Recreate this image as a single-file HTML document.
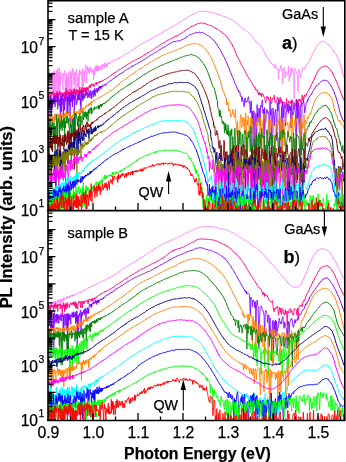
<!DOCTYPE html><html><head><meta charset="utf-8"><style>html,body{margin:0;padding:0;background:#fff;}body{width:346px;height:462px;position:relative;overflow:hidden;font-family:"Liberation Sans",sans-serif;}</style></head><body><svg xmlns="http://www.w3.org/2000/svg" width="346" height="462" viewBox="0 0 346 462" style="position:absolute;left:0;top:0">
<defs><clipPath id="ca"><rect x="48" y="0.8" width="296.8" height="209.7"/></clipPath><clipPath id="cb"><rect x="48" y="210.8" width="296.8" height="209.7"/></clipPath><filter id="gf" x="0" y="0" width="346" height="462" filterUnits="userSpaceOnUse"><feOffset dx="0" dy="0"/></filter></defs>
<g clip-path="url(#ca)" fill="none" stroke-width="1" stroke-linejoin="round">
<polyline stroke="#ff80ff" stroke-width="0.85" points="48.0,80.4 48.2,73.7 48.5,75.0 48.8,85.9 49.0,83.5 49.3,73.4 49.5,69.1 49.8,102.0 50.0,73.5 50.3,77.7 50.5,73.1 50.8,73.0 51.0,75.4 51.3,89.7 51.5,102.2 51.8,102.1 52.0,72.0 52.3,77.8 52.5,81.6 52.8,78.4 53.1,101.8 53.3,74.6 53.6,71.6 53.8,72.1 54.1,101.9 54.3,71.1 54.6,84.0 54.9,101.9 55.1,97.5 55.4,88.3 55.6,75.9 55.9,89.0 56.2,102.3 56.4,78.1 56.7,70.3 56.9,84.0 57.2,74.3 57.5,75.6 57.7,68.5 58.0,101.8 58.2,72.3 58.5,99.1 58.8,82.1 59.0,76.9 59.3,67.6 59.6,84.3 59.8,102.2 60.1,71.7 60.4,85.3 60.6,78.0 60.9,76.0 61.2,75.7 61.4,77.5 61.7,75.1 62.0,74.5 62.2,73.0 62.5,79.7 62.8,83.6 63.0,90.3 63.3,73.8 63.6,76.0 63.8,73.9 64.1,73.6 64.4,70.5 64.6,74.8 64.9,73.0 65.2,93.0 65.5,90.4 65.7,78.4 66.0,94.8 66.3,73.1 66.6,97.6 66.8,75.1 67.1,101.2 67.4,90.3 67.6,78.5 67.9,77.5 68.2,101.2 68.5,74.7 68.7,72.0 69.0,72.7 69.3,81.6 69.6,80.7 69.9,91.4 70.1,72.8 70.4,70.5 70.7,79.5 71.0,100.7 71.2,74.2 71.5,72.4 71.8,101.0 72.1,74.1 72.4,68.3 72.6,72.0 72.9,72.8 73.2,73.0 73.5,70.9 73.8,85.0 74.1,82.7 74.3,72.9 74.6,80.3 74.9,73.3 75.2,99.9 75.5,71.6 75.8,71.5 76.1,73.8 76.3,73.5 76.6,69.0 76.9,86.6 77.2,83.1 77.5,87.5 77.8,77.2 78.1,85.8 78.3,73.2 78.6,79.5 78.9,99.4 79.2,99.6 79.5,69.8 79.8,73.6 80.1,74.7 80.4,72.7 80.7,73.8 81.0,70.5 81.3,70.9 81.5,78.1 81.8,80.2 82.1,84.6 82.4,90.0 82.7,68.4 83.0,82.1 83.3,98.3 83.6,80.9 83.9,80.4 84.2,70.9 84.5,81.1 84.8,70.2 85.1,70.7 85.4,68.2 85.7,66.1 86.0,64.7 86.3,67.9 86.6,83.2 86.9,74.4 87.2,70.7 87.5,66.3 87.8,69.3 88.1,68.0 88.4,72.3 88.7,69.4 89.0,69.0 89.3,73.8 89.6,68.8 89.9,68.1 90.2,71.4 90.5,67.9 90.8,66.8 91.1,70.2 91.4,70.2 91.7,71.3 92.0,73.3 92.4,69.3 92.7,71.7 93.0,71.1 93.3,73.2 93.6,79.5 93.9,74.1 94.2,68.6 94.5,75.4 94.8,72.1 95.1,66.1 95.4,66.5 95.8,71.6 96.1,67.1 96.4,70.9 96.7,65.7 97.0,70.6 97.3,68.1 97.6,65.7 98.0,71.0 98.3,65.7 98.6,70.7 98.9,67.3 99.2,68.2 99.5,68.0 99.9,66.8 100.2,67.1 100.5,70.2 100.8,65.7 101.1,65.7 101.5,64.8 101.8,64.9 102.1,69.7 102.4,64.9 102.7,64.7 103.1,66.6 103.4,64.4 103.7,64.0 104.0,66.3 104.4,67.8"/>
<polyline stroke="#ff80ff" points="104.0,66.3 104.4,67.8 104.7,65.6 105.0,62.6 105.3,64.5 105.7,66.7 106.0,64.5 106.3,65.6 106.6,64.6 107.0,63.8 107.3,67.4 107.6,63.6 107.9,62.8 108.3,63.6 108.6,63.4 108.9,62.7 109.3,64.1 109.6,63.7 109.9,63.7 110.3,62.3 110.6,62.2 110.9,62.0 111.3,61.6 111.6,61.0 111.9,61.4 112.3,61.7 112.6,61.1 112.9,60.7 113.3,61.3 113.6,60.9 113.9,60.9 114.3,60.1 114.6,60.7 115.0,60.4 115.3,59.2 115.6,59.6 116.0,59.6 116.3,59.6 116.7,59.0 117.0,58.9 117.3,58.7 117.7,59.0 118.0,58.4 118.4,58.3 118.7,58.1 119.1,58.9 119.4,57.8 119.8,57.5 120.1,57.5 120.5,57.3 120.8,56.9 121.1,57.1 121.5,57.0 121.8,57.2 122.2,56.3 122.5,56.2 122.9,55.8 123.2,55.5 123.6,55.6 124.0,55.3 124.3,55.0 124.7,54.6 125.0,54.9 125.4,54.4 125.7,54.3 126.1,53.7 126.4,54.0 126.8,53.5 127.1,53.1 127.5,53.3 127.9,52.9 128.2,52.8 128.6,52.6 128.9,52.5 129.3,52.1 129.7,51.7 130.0,51.3 130.4,51.4 130.7,51.2 131.1,51.0 131.5,50.8 131.8,50.5 132.2,50.1 132.6,50.1 132.9,49.7 133.3,49.5 133.7,49.2 134.0,48.7 134.4,48.6 134.8,48.3 135.1,48.2 135.5,47.8 135.9,47.9 136.2,47.4 136.6,47.3 137.0,47.0 137.3,46.5 137.7,46.4 138.1,45.9 138.5,45.7 138.8,45.8 139.2,45.6 139.6,45.2 140.0,45.0 140.3,45.0 140.7,44.3 141.1,44.1 141.5,44.1 141.9,44.1 142.2,43.7 142.6,43.4 143.0,43.4 143.4,42.9 143.8,42.5 144.1,42.3 144.5,42.7 144.9,42.3 145.3,42.1 145.7,41.6 146.1,41.4 146.4,41.2 146.8,41.0 147.2,40.4 147.6,40.5 148.0,40.5 148.4,40.3 148.8,40.0 149.2,39.9 149.6,40.0 149.9,39.6 150.3,38.8 150.7,39.0 151.1,39.0 151.5,38.3 151.9,38.3 152.3,38.5 152.7,37.9 153.1,37.9 153.5,37.2 153.9,37.1 154.3,37.1 154.7,36.8 155.1,36.7 155.5,36.2 155.9,36.0 156.3,35.8 156.7,36.0 157.1,35.4 157.5,35.2 157.9,35.1 158.3,35.0 158.7,34.6 159.1,34.6 159.5,34.2 159.9,33.9 160.3,34.1 160.7,33.4 161.1,33.1 161.6,33.2 162.0,32.6 162.4,32.5 162.8,32.5 163.2,32.3 163.6,31.5 164.0,31.6 164.4,31.3 164.9,30.9 165.3,30.5 165.7,30.8 166.1,30.0 166.5,30.1 166.9,30.0 167.4,29.6 167.8,29.1 168.2,29.3 168.6,28.8 169.0,28.4 169.5,28.4 169.9,27.9 170.3,27.9 170.7,27.7 171.1,27.1 171.6,27.1 172.0,26.8 172.4,26.7 172.9,26.5 173.3,25.9 173.7,26.0 174.1,25.4 174.6,25.3 175.0,25.3 175.4,25.1 175.9,24.6 176.3,24.3 176.7,23.9 177.2,23.7 177.6,23.6 178.0,23.2 178.5,22.9 178.9,22.7 179.3,22.4 179.8,22.2 180.2,21.6 180.7,21.5 181.1,21.7 181.5,21.3 182.0,20.7 182.4,20.5 182.9,20.1 183.3,20.0 183.8,19.7 184.2,19.3 184.7,19.3 185.1,18.6 185.5,18.6 186.0,18.5 186.4,17.9 186.9,17.6 187.3,17.6 187.8,17.2 188.3,16.5 188.7,16.6 189.2,16.3 189.6,16.1 190.1,15.9 190.5,15.5 191.0,15.2 191.4,15.1 191.9,15.0 192.4,14.5 192.8,14.6 193.3,14.0 193.7,14.1 194.2,13.3 194.7,13.3 195.1,12.9 195.6,12.9 196.1,12.5 196.5,12.2 197.0,12.2 197.5,11.8 197.9,11.5 198.4,11.8 198.9,11.6 199.3,11.7 199.8,11.4 200.3,11.5 200.8,11.5 201.2,11.2 201.7,11.3 202.2,11.0 202.7,11.2 203.1,11.1 203.6,11.5 204.1,11.1 204.6,11.2 205.1,11.1 205.5,11.6 206.0,11.5 206.5,11.6 207.0,11.6 207.5,11.6 208.0,11.7 208.4,11.8 208.9,11.9 209.4,12.0 209.9,12.0 210.4,12.1 210.9,12.3 211.4,12.4 211.9,12.7 212.4,12.6 212.9,12.8 213.4,12.9 213.8,13.3 214.3,13.1 214.8,13.3 215.3,13.5 215.8,13.4 216.3,13.6 216.8,14.3 217.3,13.8 217.8,14.6 218.3,14.3 218.9,14.6 219.4,14.5 219.9,15.0 220.4,15.2 220.9,15.1 221.4,15.7 221.9,15.7 222.4,16.2 222.9,15.8 223.4,16.3 223.9,16.6 224.5,16.5 225.0,16.5 225.5,17.1 226.0,16.9 226.5,17.2 227.0,17.8 227.6,17.9 228.1,17.7 228.6,18.2 229.1,18.4 229.7,18.9 230.2,19.5 230.7,18.9 231.2,19.8 231.8,19.4 232.3,20.1 232.8,20.4 233.3,21.0 233.9,21.4 234.4,21.4 234.9,22.1 235.5,22.2 236.0,22.7 236.6,23.2 237.1,23.7 237.6,24.4 238.2,24.8 238.7,25.0 239.2,25.5 239.8,26.0 240.3,26.8 240.9,27.1 241.4,27.4 242.0,28.0 242.5,28.4 243.1,28.7 243.6,29.5 244.2,29.7 244.7,30.1 245.3,30.4 245.8,30.6 246.4,31.2 246.9,31.4 247.5,32.0 248.0,32.5 248.6,32.6 249.2,33.1 249.7,33.8 250.3,34.4 250.8,34.9 251.4,35.7 252.0,36.3 252.5,37.2 253.1,38.0 253.7,39.0 254.2,39.6 254.8,40.1 255.4,40.6 255.9,41.8 256.5,41.9 257.1,42.9 257.7,43.5 258.2,43.4 258.8,44.4 259.4,44.5 260.0,45.1 260.6,46.1 261.1,46.7 261.7,47.2 262.3,48.7 262.9,49.2 263.5,50.3 264.1,51.9 264.6,52.8 265.2,53.9 265.8,55.3 266.4,56.2 267.0,57.1 267.6,58.4 268.2,58.6 268.8,59.4 269.4,60.5 270.0,61.8 270.6,63.2 271.2,63.1 271.8,64.0 272.4,64.2 273.0,65.3 273.6,65.1"/>
<polyline stroke="#ff80ff" stroke-width="0.85" points="273.0,65.3 273.6,65.1 274.2,68.0 274.8,67.6 275.4,63.7 276.0,68.8 276.6,67.3 277.3,68.6 277.9,69.4 278.5,78.9 279.1,68.7 279.7,71.2 280.3,68.1 280.9,65.3 281.6,70.6 282.2,68.9 282.8,84.1 283.4,71.3 284.1,67.3 284.7,72.0 285.3,78.1 285.9,71.4 286.6,73.6 287.2,73.9 287.8,75.6 288.5,66.2 289.1,81.3 289.7,75.9 290.4,77.2 291.0,68.1 291.7,74.7 292.3,68.3 292.9,71.9 293.6,72.4 294.2,98.5 294.9,68.4 295.5,70.7 296.2,71.1 296.8,73.3 297.5,75.5 298.1,92.6 298.8,69.3 299.4,71.3 300.1,75.2 300.8,78.0 301.4,71.3 302.1,71.5 302.7,67.7 303.4,68.1 304.1,68.8"/>
<polyline stroke="#ff80ff" points="303.4,68.1 304.1,68.8 304.7,68.6 305.4,66.1 306.1,65.8 306.7,64.3 307.4,63.5 308.1,62.6 308.8,61.6 309.4,60.6 310.1,58.9 310.8,58.4 311.5,56.6 312.1,55.0 312.8,53.6 313.5,52.4 314.2,51.2 314.9,49.9 315.6,48.1 316.3,46.8 317.0,45.9 317.6,44.9 318.3,44.3 319.0,43.6 319.7,43.3 320.4,42.7 321.1,41.9 321.8,42.1 322.5,41.3 323.2,41.5 323.9,41.6 324.6,41.6 325.4,42.1 326.1,43.1 326.8,43.7 327.5,43.9 328.2,44.7 328.9,45.1 329.6,45.7 330.4,46.8 331.1,47.5 331.8,48.6 332.5,49.3 333.2,50.8 334.0,51.5 334.7,52.9 335.4,53.7 336.2,54.7 336.9,56.2 337.6,57.5 338.4,58.7 339.1,61.0 339.8,63.0 340.6,65.5 341.3,68.2 342.1,71.0 342.8,73.9 343.6,76.3 344.3,78.2 345.0,79.9"/>
<polyline stroke="#ff0080" stroke-width="0.85" points="48.0,94.3 48.2,95.1 48.5,96.8 48.8,94.3 49.0,91.9 49.3,101.8 49.5,96.4 49.8,97.2 50.0,98.8 50.3,94.7 50.5,102.1 50.8,96.2 51.0,92.9 51.3,93.0 51.5,93.5 51.8,94.3 52.0,93.0 52.3,94.4 52.5,93.4 52.8,93.1 53.1,91.3 53.3,92.4 53.6,92.6 53.8,99.2 54.1,94.1 54.3,94.2 54.6,95.8 54.9,97.5 55.1,93.0 55.4,94.5 55.6,95.3 55.9,98.1 56.2,96.5 56.4,95.6 56.7,93.7 56.9,91.1 57.2,94.5 57.5,101.1 57.7,93.4 58.0,93.4 58.2,97.0 58.5,97.9 58.8,94.6 59.0,92.8 59.3,93.4 59.6,91.1 59.8,94.8 60.1,94.5 60.4,96.5 60.6,92.0 60.9,94.0 61.2,93.0 61.4,101.1 61.7,99.6 62.0,93.5 62.2,93.0 62.5,95.2 62.8,95.0 63.0,92.4 63.3,96.4 63.6,93.9 63.8,96.7 64.1,95.6 64.4,92.0 64.6,98.9 64.9,96.1 65.2,101.7 65.5,92.8 65.7,93.2 66.0,88.3 66.3,94.7 66.6,93.0 66.8,91.1 67.1,91.9 67.4,94.1 67.6,90.6 67.9,102.4 68.2,91.8 68.5,94.8 68.7,94.9 69.0,95.8 69.3,92.2 69.6,95.5 69.9,92.6 70.1,89.3 70.4,95.0 70.7,92.2 71.0,94.0 71.2,96.4 71.5,91.3 71.8,89.9 72.1,94.1 72.4,92.1 72.6,92.6 72.9,94.0 73.2,90.6 73.5,97.9 73.8,89.3 74.1,93.2 74.3,88.5 74.6,90.5 74.9,92.1 75.2,95.8 75.5,95.2 75.8,90.4 76.1,93.4 76.3,89.6 76.6,94.7 76.9,88.9 77.2,91.3 77.5,90.5 77.8,93.4 78.1,92.1 78.3,90.3 78.6,90.8 78.9,93.4 79.2,90.5 79.5,94.5 79.8,87.0 80.1,89.3 80.4,91.3 80.7,91.2 81.0,93.0 81.3,90.1 81.5,97.8 81.8,90.0 82.1,87.3 82.4,94.9 82.7,89.7 83.0,90.7"/>
<polyline stroke="#ff0080" points="82.7,89.7 83.0,90.7 83.3,90.2 83.6,92.0 83.9,88.1 84.2,92.3 84.5,87.8 84.8,87.7 85.1,89.0 85.4,87.9 85.7,92.1 86.0,90.0 86.3,92.9 86.6,87.5 86.9,86.9 87.2,90.3 87.5,87.9 87.8,88.2 88.1,90.5 88.4,87.8 88.7,87.5 89.0,86.3 89.3,87.4 89.6,86.3 89.9,85.0 90.2,85.9 90.5,87.8 90.8,85.9 91.1,84.8 91.4,83.7 91.7,85.5 92.0,84.8 92.4,85.2 92.7,83.8 93.0,84.6 93.3,84.5 93.6,86.4 93.9,85.2 94.2,86.4 94.5,85.7 94.8,84.8 95.1,83.4 95.4,83.7 95.8,83.7 96.1,82.5 96.4,84.9 96.7,83.7 97.0,82.4 97.3,83.1 97.6,83.0 98.0,82.5 98.3,83.1 98.6,83.0 98.9,82.7 99.2,81.5 99.5,82.8 99.9,82.4 100.2,81.1 100.5,81.6 100.8,81.6 101.1,81.9 101.5,81.1 101.8,81.1 102.1,80.7 102.4,81.3 102.7,80.9 103.1,80.2 103.4,80.5 103.7,79.9 104.0,80.1 104.4,79.7 104.7,79.7 105.0,79.2 105.3,79.6 105.7,79.0 106.0,78.9 106.3,78.7 106.6,78.7 107.0,78.1 107.3,77.9 107.6,77.9 107.9,77.5 108.3,77.3 108.6,77.5 108.9,77.0 109.3,76.8 109.6,76.4 109.9,76.5 110.3,76.1 110.6,75.6 110.9,75.4 111.3,75.5 111.6,74.9 111.9,74.9 112.3,74.2 112.6,74.2 112.9,73.8 113.3,73.9 113.6,73.3 113.9,73.5 114.3,73.4 114.6,72.7 115.0,72.5 115.3,72.8 115.6,72.0 116.0,71.7 116.3,71.9 116.7,71.7 117.0,71.3 117.3,70.9 117.7,70.7 118.0,70.4 118.4,70.3 118.7,70.3 119.1,70.0 119.4,69.6 119.8,69.2 120.1,69.5 120.5,69.0 120.8,69.0 121.1,68.7 121.5,68.5 121.8,67.9 122.2,68.1 122.5,67.4 122.9,67.5 123.2,67.2 123.6,67.0 124.0,66.9 124.3,66.7 124.7,66.7 125.0,66.0 125.4,65.7 125.7,65.9 126.1,65.4 126.4,65.3 126.8,64.7 127.1,64.7 127.5,64.6 127.9,64.3 128.2,64.2 128.6,63.8 128.9,63.6 129.3,63.7 129.7,63.3 130.0,62.6 130.4,62.9 130.7,62.7 131.1,62.4 131.5,62.1 131.8,61.6 132.2,62.0 132.6,61.4 132.9,61.3 133.3,61.2 133.7,60.9 134.0,60.6 134.4,60.3 134.8,60.4 135.1,60.2 135.5,60.0 135.9,59.9 136.2,60.1 136.6,59.5 137.0,59.0 137.3,59.0 137.7,58.5 138.1,58.7 138.5,58.1 138.8,58.1 139.2,58.1 139.6,58.0 140.0,57.4 140.3,57.2 140.7,57.2 141.1,56.9 141.5,57.1 141.9,56.5 142.2,56.0 142.6,56.2 143.0,55.7 143.4,55.4 143.8,55.2 144.1,55.2 144.5,55.1 144.9,54.3 145.3,54.9 145.7,54.1 146.1,53.9 146.4,54.0 146.8,53.3 147.2,53.3 147.6,52.6 148.0,53.1 148.4,52.5 148.8,52.6 149.2,52.2 149.6,51.8 149.9,51.9 150.3,51.5 150.7,51.1 151.1,50.9 151.5,50.7 151.9,50.6 152.3,50.1 152.7,49.9 153.1,49.8 153.5,49.8 153.9,49.2 154.3,48.8 154.7,48.4 155.1,48.1 155.5,48.1 155.9,47.6 156.3,47.5 156.7,47.1 157.1,47.0 157.5,46.9 157.9,46.5 158.3,46.0 158.7,45.7 159.1,45.6 159.5,45.3 159.9,45.1 160.3,44.8 160.7,44.3 161.1,44.2 161.6,44.1 162.0,43.8 162.4,43.3 162.8,43.2 163.2,43.5 163.6,43.2 164.0,42.4 164.4,42.6 164.9,41.8 165.3,42.1 165.7,41.7 166.1,41.4 166.5,41.0 166.9,40.9 167.4,40.3 167.8,40.3 168.2,40.1 168.6,39.9 169.0,39.8 169.5,39.6 169.9,39.3 170.3,39.0 170.7,39.1 171.1,38.6 171.6,38.7 172.0,38.3 172.4,38.3 172.9,37.3 173.3,37.6 173.7,37.2 174.1,36.9 174.6,36.8 175.0,36.7 175.4,36.2 175.9,35.8 176.3,36.5 176.7,35.7 177.2,35.5 177.6,35.8 178.0,35.1 178.5,34.9 178.9,34.6 179.3,34.3 179.8,34.0 180.2,33.9 180.7,33.6 181.1,33.3 181.5,33.1 182.0,33.2 182.4,32.5 182.9,32.2 183.3,32.0 183.8,31.5 184.2,31.2 184.7,31.3 185.1,30.5 185.5,30.6 186.0,29.9 186.4,29.8 186.9,29.1 187.3,29.3 187.8,28.6 188.3,28.6 188.7,28.5 189.2,28.0 189.6,27.9 190.1,27.3 190.5,26.7 191.0,27.2 191.4,27.0 191.9,26.1 192.4,26.3 192.8,26.3 193.3,26.0 193.7,25.5 194.2,24.9 194.7,25.4 195.1,24.7 195.6,24.6 196.1,24.3 196.5,24.3 197.0,24.2 197.5,23.5 197.9,23.7 198.4,23.4 198.9,23.3 199.3,23.6 199.8,23.5 200.3,23.1 200.8,23.1 201.2,23.1 201.7,23.2 202.2,23.0 202.7,23.3 203.1,23.6 203.6,23.2 204.1,23.3 204.6,23.5 205.1,24.2 205.5,23.5 206.0,23.7 206.5,24.1 207.0,24.2 207.5,24.6 208.0,24.5 208.4,24.9 208.9,25.0 209.4,25.0 209.9,25.7 210.4,25.5 210.9,25.8 211.4,26.1 211.9,26.0 212.4,26.3 212.9,26.9 213.4,26.7 213.8,27.2 214.3,27.7 214.8,27.9 215.3,27.9 215.8,28.0 216.3,29.2 216.8,29.0 217.3,29.0 217.8,29.3 218.3,29.5 218.9,30.0 219.4,30.5 219.9,30.5 220.4,31.4 220.9,31.3 221.4,31.7 221.9,32.6 222.4,33.0 222.9,32.9 223.4,33.5 223.9,33.7 224.5,34.3 225.0,34.9 225.5,35.4 226.0,35.9 226.5,36.6 227.0,37.0 227.6,37.9 228.1,38.4 228.6,38.9 229.1,40.1 229.7,40.6 230.2,41.6 230.7,42.3 231.2,43.2 231.8,44.0 232.3,45.0 232.8,46.3 233.3,47.5 233.9,48.1 234.4,49.3 234.9,50.8 235.5,52.2 236.0,53.4 236.6,54.8 237.1,55.9 237.6,56.8 238.2,58.3 238.7,59.1 239.2,60.1 239.8,60.8 240.3,62.4 240.9,63.4 241.4,64.8 242.0,65.7 242.5,66.4 243.1,67.8 243.6,68.7 244.2,69.3 244.7,70.7 245.3,71.7 245.8,72.8 246.4,73.9 246.9,74.6 247.5,75.9 248.0,76.8 248.6,77.4 249.2,78.9 249.7,79.4 250.3,80.2 250.8,81.4 251.4,82.3 252.0,83.0 252.5,84.6 253.1,85.0 253.7,85.5 254.2,87.2 254.8,86.9 255.4,89.8 255.9,89.0 256.5,90.5 257.1,90.3 257.7,90.3 258.2,94.6 258.8,94.6 259.4,92.4 260.0,95.2 260.6,93.1 261.1,93.8 261.7,96.5"/>
<polyline stroke="#ff0080" stroke-width="0.85" points="261.1,93.8 261.7,96.5 262.3,93.2 262.9,93.8 263.5,94.7 264.1,97.6 264.6,97.5 265.2,100.7 265.8,103.1 266.4,98.6 267.0,96.1 267.6,98.9 268.2,97.1 268.8,100.6 269.4,100.4 270.0,100.8 270.6,96.7 271.2,103.7 271.8,102.6 272.4,98.2 273.0,98.1 273.6,99.0 274.2,95.1 274.8,101.3 275.4,100.9 276.0,103.1 276.6,102.1 277.3,96.9 277.9,98.6 278.5,102.6 279.1,98.2 279.7,104.2 280.3,97.1 280.9,102.8 281.6,99.5 282.2,106.6 282.8,101.4 283.4,103.1 284.1,102.8 284.7,102.1 285.3,108.1 285.9,107.8 286.6,98.4 287.2,106.2 287.8,111.6 288.5,100.9 289.1,102.0 289.7,101.4 290.4,103.7 291.0,100.1 291.7,99.7 292.3,102.3 292.9,100.6 293.6,109.7 294.2,102.6 294.9,105.0 295.5,105.9 296.2,99.3 296.8,110.6 297.5,100.9 298.1,106.6 298.8,98.9 299.4,101.1 300.1,99.2 300.8,102.0 301.4,105.9 302.1,94.9 302.7,100.3 303.4,101.2 304.1,96.3"/>
<polyline stroke="#ff0080" points="303.4,101.2 304.1,96.3 304.7,94.7 305.4,96.4 306.1,95.9 306.7,93.9 307.4,92.5 308.1,91.3 308.8,90.6 309.4,89.2 310.1,87.6 310.8,86.0 311.5,84.2 312.1,83.7 312.8,82.1 313.5,80.3 314.2,79.3 314.9,77.7 315.6,75.8 316.3,74.5 317.0,72.9 317.6,72.0 318.3,70.6 319.0,69.2 319.7,68.5 320.4,68.1 321.1,67.8 321.8,67.5 322.5,66.8 323.2,66.7 323.9,66.5 324.6,66.2 325.4,65.9 326.1,66.4 326.8,66.3 327.5,66.7 328.2,67.2 328.9,68.2 329.6,69.0 330.4,69.8 331.1,71.1 331.8,71.6 332.5,73.2 333.2,75.0 334.0,76.4 334.7,77.7 335.4,79.2 336.2,81.0 336.9,82.6 337.6,84.2 338.4,86.4 339.1,88.4 339.8,89.9 340.6,92.1 341.3,93.5 342.1,95.9 342.8,97.7 343.6,99.2 344.3,100.8 345.0,102.1"/>
<polyline stroke="#8000ff" stroke-width="0.85" points="48.0,103.3 48.2,103.8 48.5,98.3 48.8,102.1 49.0,107.1 49.3,102.6 49.5,100.7 49.8,99.5 50.0,147.1 50.3,101.9 50.5,100.8 50.8,96.6 51.0,104.2 51.3,101.9 51.5,116.5 51.8,98.9 52.0,98.2 52.3,108.1 52.5,101.9 52.8,105.1 53.1,98.1 53.3,104.0 53.6,101.6 53.8,101.3 54.1,104.2 54.3,101.3 54.6,96.2 54.9,102.5 55.1,106.9 55.4,97.6 55.6,95.5 55.9,98.4 56.2,102.2 56.4,102.4 56.7,99.7 56.9,98.2 57.2,93.1 57.5,94.4 57.7,109.2 58.0,98.8 58.2,96.9 58.5,99.3 58.8,102.6 59.0,105.9 59.3,99.5 59.6,99.2 59.8,100.8 60.1,107.7 60.4,120.4 60.6,96.2 60.9,108.2 61.2,103.2 61.4,111.7 61.7,98.5 62.0,104.9 62.2,101.9 62.5,94.1 62.8,98.1 63.0,100.9 63.3,116.7 63.6,98.4 63.8,98.4 64.1,97.7 64.4,100.8 64.6,110.4 64.9,104.9 65.2,97.8 65.5,98.4 65.7,99.2 66.0,94.1 66.3,97.4 66.6,100.1 66.8,100.2 67.1,113.8 67.4,103.8 67.6,97.1 67.9,113.2 68.2,99.1 68.5,96.6 68.7,101.8 69.0,97.5 69.3,105.8 69.6,93.9 69.9,101.6 70.1,122.0 70.4,98.0 70.7,101.9 71.0,93.8 71.2,96.5 71.5,101.2 71.8,93.6 72.1,100.9 72.4,106.9 72.6,94.8 72.9,94.1 73.2,100.3 73.5,95.0 73.8,92.6 74.1,102.3 74.3,143.4 74.6,96.3 74.9,99.6 75.2,94.9 75.5,97.5 75.8,100.3 76.1,103.6 76.3,105.0 76.6,100.9 76.9,103.0 77.2,95.0 77.5,95.0 77.8,100.8 78.1,93.5 78.3,99.2 78.6,99.8 78.9,93.9 79.2,96.1 79.5,99.9 79.8,94.0 80.1,91.3 80.4,104.7 80.7,98.1 81.0,112.7 81.3,97.0 81.5,89.2 81.8,95.6 82.1,96.9 82.4,95.6 82.7,101.0 83.0,95.5 83.3,97.4 83.6,99.2 83.9,93.1 84.2,96.6 84.5,94.9 84.8,98.1 85.1,94.8 85.4,93.5 85.7,95.4 86.0,91.0 86.3,95.3 86.6,93.7 86.9,95.0 87.2,91.9 87.5,96.8 87.8,98.1 88.1,94.3 88.4,95.3 88.7,96.6 89.0,90.5 89.3,95.0 89.6,93.1 89.9,98.0 90.2,96.2 90.5,94.1 90.8,90.2 91.1,94.5 91.4,92.7 91.7,99.1 92.0,94.5 92.4,93.3 92.7,90.9 93.0,91.4 93.3,96.9 93.6,90.1 93.9,90.8 94.2,90.1 94.5,94.6 94.8,88.4 95.1,96.3 95.4,91.2 95.8,91.1 96.1,89.7 96.4,90.2"/>
<polyline stroke="#8000ff" points="96.1,89.7 96.4,90.2 96.7,91.3 97.0,88.1 97.3,93.0 97.6,90.6 98.0,89.7 98.3,87.8 98.6,88.5 98.9,90.9 99.2,86.2 99.5,88.3 99.9,86.8 100.2,86.0 100.5,88.3 100.8,87.2 101.1,88.6 101.5,87.6 101.8,85.8 102.1,87.0 102.4,85.7 102.7,86.4 103.1,85.7 103.4,85.1 103.7,84.7 104.0,85.2 104.4,84.9 104.7,84.4 105.0,85.1 105.3,85.0 105.7,85.6 106.0,83.7 106.3,83.9 106.6,83.7 107.0,83.1 107.3,83.1 107.6,83.0 107.9,82.6 108.3,82.2 108.6,81.9 108.9,81.6 109.3,81.2 109.6,81.1 109.9,81.5 110.3,81.1 110.6,80.6 110.9,80.4 111.3,80.4 111.6,80.3 111.9,79.5 112.3,79.6 112.6,79.4 112.9,78.7 113.3,78.6 113.6,78.2 113.9,78.4 114.3,77.9 114.6,78.1 115.0,77.4 115.3,77.6 115.6,76.6 116.0,77.0 116.3,76.6 116.7,76.6 117.0,76.2 117.3,75.6 117.7,75.8 118.0,75.6 118.4,75.2 118.7,74.8 119.1,74.9 119.4,74.1 119.8,74.4 120.1,73.7 120.5,73.7 120.8,73.7 121.1,73.2 121.5,73.3 121.8,72.9 122.2,72.9 122.5,72.4 122.9,72.5 123.2,71.9 123.6,71.9 124.0,71.5 124.3,71.1 124.7,71.1 125.0,70.6 125.4,70.6 125.7,70.2 126.1,70.0 126.4,69.7 126.8,69.5 127.1,69.5 127.5,69.4 127.9,68.9 128.2,68.7 128.6,68.4 128.9,68.6 129.3,68.1 129.7,68.2 130.0,67.9 130.4,67.3 130.7,67.2 131.1,67.3 131.5,67.1 131.8,66.2 132.2,66.1 132.6,66.4 132.9,65.6 133.3,65.9 133.7,66.1 134.0,65.5 134.4,65.1 134.8,65.1 135.1,65.0 135.5,64.4 135.9,64.5 136.2,64.2 136.6,64.0 137.0,63.6 137.3,63.8 137.7,63.6 138.1,63.1 138.5,63.0 138.8,62.6 139.2,63.0 139.6,62.2 140.0,61.9 140.3,61.9 140.7,61.6 141.1,61.6 141.5,61.3 141.9,61.1 142.2,60.5 142.6,60.5 143.0,60.3 143.4,59.8 143.8,59.6 144.1,59.6 144.5,59.6 144.9,59.2 145.3,59.0 145.7,58.8 146.1,58.2 146.4,58.1 146.8,57.7 147.2,57.7 147.6,57.4 148.0,57.2 148.4,56.7 148.8,56.4 149.2,56.1 149.6,55.9 149.9,55.8 150.3,55.6 150.7,55.1 151.1,55.1 151.5,54.5 151.9,54.4 152.3,54.4 152.7,54.4 153.1,54.0 153.5,53.3 153.9,53.4 154.3,53.0 154.7,53.0 155.1,52.5 155.5,52.3 155.9,51.9 156.3,52.0 156.7,51.7 157.1,51.2 157.5,51.2 157.9,50.8 158.3,50.5 158.7,50.2 159.1,50.1 159.5,49.7 159.9,49.6 160.3,49.6 160.7,48.9 161.1,48.9 161.6,48.6 162.0,48.5 162.4,48.2 162.8,47.7 163.2,47.8 163.6,47.5 164.0,47.4 164.4,47.0 164.9,47.2 165.3,46.3 165.7,46.3 166.1,45.7 166.5,45.6 166.9,45.4 167.4,45.3 167.8,45.0 168.2,44.6 168.6,44.1 169.0,44.0 169.5,43.8 169.9,43.7 170.3,43.4 170.7,43.0 171.1,43.0 171.6,42.7 172.0,42.3 172.4,42.2 172.9,42.2 173.3,41.6 173.7,41.9 174.1,41.3 174.6,41.7 175.0,41.6 175.4,41.7 175.9,41.0 176.3,41.4 176.7,40.9 177.2,41.0 177.6,41.1 178.0,40.7 178.5,40.8 178.9,40.7 179.3,40.7 179.8,40.7 180.2,40.7 180.7,40.5 181.1,40.0 181.5,39.6 182.0,39.6 182.4,39.5 182.9,39.5 183.3,39.3 183.8,39.0 184.2,38.3 184.7,38.3 185.1,37.8 185.5,37.8 186.0,37.7 186.4,36.5 186.9,36.3 187.3,36.3 187.8,36.4 188.3,36.0 188.7,35.4 189.2,35.0 189.6,34.9 190.1,34.4 190.5,34.2 191.0,34.2 191.4,34.4 191.9,33.9 192.4,33.9 192.8,33.6 193.3,33.7 193.7,33.4 194.2,33.2 194.7,33.2 195.1,33.0 195.6,32.8 196.1,32.8 196.5,32.6 197.0,32.2 197.5,32.4 197.9,32.0 198.4,32.5 198.9,32.3 199.3,32.2 199.8,32.2 200.3,32.4 200.8,32.6 201.2,32.3 201.7,32.2 202.2,33.1 202.7,32.6 203.1,32.8 203.6,33.3 204.1,33.1 204.6,33.7 205.1,34.1 205.5,34.3 206.0,34.3 206.5,34.7 207.0,35.2 207.5,35.4 208.0,35.4 208.4,35.7 208.9,36.3 209.4,36.6 209.9,36.5 210.4,37.0 210.9,37.9 211.4,38.1 211.9,38.6 212.4,38.9 212.9,39.5 213.4,40.5 213.8,40.5 214.3,41.3 214.8,41.6 215.3,42.1 215.8,43.2 216.3,44.0 216.8,44.1 217.3,45.6 217.8,46.1 218.3,47.0 218.9,48.0 219.4,48.7 219.9,49.4 220.4,50.4 220.9,51.2 221.4,52.0 221.9,53.1 222.4,54.2 222.9,55.0 223.4,55.9 223.9,56.9 224.5,57.8 225.0,59.1 225.5,60.3 226.0,61.2 226.5,61.9 227.0,63.6 227.6,65.0 228.1,66.1 228.6,67.3 229.1,68.3 229.7,69.9 230.2,71.5 230.7,72.5 231.2,74.0 231.8,75.3 232.3,76.5 232.8,77.9 233.3,78.7 233.9,80.6 234.4,82.1 234.9,83.0 235.5,84.6 236.0,85.4 236.6,86.7 237.1,88.3 237.6,89.8 238.2,89.8 238.7,92.0 239.2,91.9 239.8,91.8 240.3,95.5 240.9,96.7 241.4,96.7"/>
<polyline stroke="#8000ff" stroke-width="0.85" points="240.9,96.7 241.4,96.7 242.0,101.5 242.5,97.4 243.1,101.8 243.6,102.0 244.2,106.7 244.7,98.4 245.3,97.9 245.8,102.4 246.4,101.2 246.9,102.2 247.5,100.1 248.0,97.5 248.6,96.6 249.2,103.1 249.7,101.6 250.3,113.0 250.8,102.6 251.4,100.9 252.0,124.7 252.5,111.2 253.1,146.2 253.7,110.7 254.2,113.5 254.8,155.2 255.4,155.0 255.9,113.2 256.5,155.2 257.1,104.6 257.7,119.6 258.2,122.1 258.8,108.6 259.4,108.0 260.0,125.7 260.6,105.5 261.1,107.2 261.7,106.1 262.3,100.1 262.9,113.0 263.5,109.3 264.1,155.5 264.6,107.5 265.2,123.3 265.8,122.8 266.4,111.1 267.0,109.3 267.6,112.7 268.2,111.5 268.8,115.3 269.4,155.5 270.0,101.1 270.6,115.2 271.2,108.9 271.8,155.8 272.4,119.9 273.0,108.0 273.6,114.7 274.2,126.0 274.8,114.1 275.4,109.5 276.0,116.8 276.6,140.6 277.3,103.1 277.9,111.4 278.5,100.3 279.1,107.9 279.7,155.8 280.3,132.0 280.9,125.3 281.6,106.7 282.2,155.6 282.8,102.1 283.4,117.8 284.1,106.6 284.7,104.5 285.3,126.2 285.9,118.5 286.6,109.4 287.2,103.5 287.8,105.3 288.5,113.2 289.1,104.4 289.7,110.7 290.4,106.2 291.0,127.9 291.7,101.3 292.3,112.2 292.9,115.7 293.6,111.7 294.2,108.0 294.9,105.4 295.5,117.1 296.2,155.9 296.8,99.4 297.5,118.5 298.1,103.2 298.8,120.2 299.4,133.1 300.1,104.7 300.8,155.4 301.4,155.3 302.1,103.4 302.7,104.1 303.4,100.5 304.1,103.9 304.7,112.9 305.4,109.7 306.1,103.5 306.7,101.7 307.4,101.8 308.1,99.3"/>
<polyline stroke="#8000ff" points="307.4,101.8 308.1,99.3 308.8,97.6 309.4,97.1 310.1,95.6 310.8,95.2 311.5,94.0 312.1,93.0 312.8,91.4 313.5,90.4 314.2,89.2 314.9,88.1 315.6,87.1 316.3,86.1 317.0,85.2 317.6,84.9 318.3,84.3 319.0,83.8 319.7,83.0 320.4,82.4 321.1,81.7 321.8,80.9 322.5,81.0 323.2,80.5 323.9,80.3 324.6,80.3 325.4,80.4 326.1,80.3 326.8,80.7 327.5,81.3 328.2,81.8 328.9,82.9 329.6,83.8 330.4,84.8 331.1,86.0 331.8,87.5 332.5,88.8 333.2,89.9 334.0,91.4 334.7,94.0 335.4,95.5 336.2,98.0 336.9,100.1 337.6,102.7 338.4,105.4 339.1,108.4 339.8,112.0 340.6,114.0 341.3,116.1 342.1,118.1 342.8,119.9 343.6,120.9 344.3,122.7 345.0,123.7"/>
<polyline stroke="#ff8000" stroke-width="0.85" points="48.0,121.0 48.2,119.4 48.5,118.2 48.8,115.6 49.0,116.2 49.3,118.0 49.5,117.7 49.8,115.4 50.0,116.6 50.3,117.2 50.5,122.5 50.8,118.4 51.0,117.1 51.3,118.0 51.5,121.4 51.8,124.9 52.0,116.7 52.3,116.6 52.5,118.0 52.8,121.0 53.1,119.6 53.3,118.1 53.6,116.2 53.8,117.8 54.1,120.1 54.3,119.5 54.6,122.0 54.9,113.9 55.1,120.1 55.4,114.5 55.6,117.0 55.9,113.7 56.2,120.9 56.4,115.9 56.7,120.4 56.9,120.3 57.2,119.5 57.5,121.7 57.7,120.5 58.0,118.4 58.2,113.8 58.5,118.6 58.8,122.6 59.0,115.9 59.3,114.1 59.6,127.1 59.8,116.4 60.1,121.4 60.4,123.5 60.6,115.6 60.9,113.9 61.2,113.1 61.4,116.9 61.7,117.7 62.0,116.5 62.2,115.5 62.5,114.8 62.8,113.7 63.0,115.7 63.3,115.6 63.6,115.9 63.8,118.5 64.1,115.3 64.4,113.2 64.6,114.7 64.9,123.6 65.2,113.0 65.5,118.5 65.7,111.6 66.0,111.8 66.3,114.4 66.6,112.1 66.8,118.3 67.1,116.2 67.4,117.6 67.6,114.8 67.9,115.5 68.2,115.3 68.5,115.2 68.7,112.4 69.0,115.7 69.3,116.5 69.6,115.0 69.9,114.0 70.1,113.8 70.4,117.7 70.7,116.1 71.0,115.9 71.2,117.5 71.5,119.2 71.8,116.4 72.1,123.6 72.4,115.6 72.6,118.4 72.9,115.3 73.2,114.6 73.5,110.5 73.8,110.1 74.1,109.6 74.3,113.6 74.6,114.8 74.9,111.8 75.2,116.0 75.5,113.6 75.8,115.1 76.1,112.9 76.3,111.5 76.6,115.3 76.9,112.1 77.2,112.2 77.5,112.1 77.8,111.2 78.1,112.7 78.3,112.3 78.6,112.6 78.9,114.6 79.2,109.3 79.5,110.1"/>
<polyline stroke="#ff8000" points="79.2,109.3 79.5,110.1 79.8,110.3 80.1,112.3 80.4,114.3 80.7,110.2 81.0,112.0 81.3,108.2 81.5,107.8 81.8,110.9 82.1,108.1 82.4,108.8 82.7,109.5 83.0,111.6 83.3,108.3 83.6,107.9 83.9,107.9 84.2,109.0 84.5,108.1 84.8,107.7 85.1,107.9 85.4,108.0 85.7,106.2 86.0,106.2 86.3,107.0 86.6,106.1 86.9,105.3 87.2,105.6 87.5,105.5 87.8,104.8 88.1,106.1 88.4,104.3 88.7,105.4 89.0,104.3 89.3,103.5 89.6,104.4 89.9,102.9 90.2,103.0 90.5,102.5 90.8,104.2 91.1,105.7 91.4,103.4 91.7,101.1 92.0,102.1 92.4,102.3 92.7,101.5 93.0,101.4 93.3,101.5 93.6,100.1 93.9,100.9 94.2,101.1 94.5,101.2 94.8,100.4 95.1,100.0 95.4,99.7 95.8,99.3 96.1,99.3 96.4,99.6 96.7,99.1 97.0,99.0 97.3,98.8 97.6,98.9 98.0,98.2 98.3,98.2 98.6,98.4 98.9,97.9 99.2,97.7 99.5,97.5 99.9,97.6 100.2,97.0 100.5,96.8 100.8,96.7 101.1,97.0 101.5,96.5 101.8,96.1 102.1,96.0 102.4,95.7 102.7,95.5 103.1,95.5 103.4,95.2 103.7,94.8 104.0,94.6 104.4,94.8 104.7,94.3 105.0,93.9 105.3,93.7 105.7,93.4 106.0,93.3 106.3,93.2 106.6,93.1 107.0,93.0 107.3,92.7 107.6,92.7 107.9,92.0 108.3,92.4 108.6,92.2 108.9,91.8 109.3,91.4 109.6,91.3 109.9,91.2 110.3,90.9 110.6,90.2 110.9,90.6 111.3,90.0 111.6,90.2 111.9,89.9 112.3,89.5 112.6,89.5 112.9,89.6 113.3,88.6 113.6,88.7 113.9,88.2 114.3,87.8 114.6,87.7 115.0,87.3 115.3,87.1 115.6,86.9 116.0,86.6 116.3,86.3 116.7,85.9 117.0,85.8 117.3,85.2 117.7,85.2 118.0,84.7 118.4,84.8 118.7,84.2 119.1,84.6 119.4,83.7 119.8,83.3 120.1,83.1 120.5,82.7 120.8,82.9 121.1,82.3 121.5,82.0 121.8,81.8 122.2,81.6 122.5,81.4 122.9,81.1 123.2,80.6 123.6,80.2 124.0,80.1 124.3,79.7 124.7,79.5 125.0,79.0 125.4,79.1 125.7,78.8 126.1,78.5 126.4,78.5 126.8,77.9 127.1,78.2 127.5,77.5 127.9,77.2 128.2,76.9 128.6,76.6 128.9,76.3 129.3,76.1 129.7,76.1 130.0,75.8 130.4,75.4 130.7,74.9 131.1,74.6 131.5,74.7 131.8,74.4 132.2,74.1 132.6,74.1 132.9,73.7 133.3,73.3 133.7,73.4 134.0,73.2 134.4,72.8 134.8,72.7 135.1,72.1 135.5,71.9 135.9,71.7 136.2,71.3 136.6,71.3 137.0,70.9 137.3,70.6 137.7,70.4 138.1,70.1 138.5,70.1 138.8,69.8 139.2,69.5 139.6,69.2 140.0,68.9 140.3,68.7 140.7,69.2 141.1,68.4 141.5,68.4 141.9,67.8 142.2,67.9 142.6,67.4 143.0,67.3 143.4,66.9 143.8,66.6 144.1,66.3 144.5,66.0 144.9,65.6 145.3,65.7 145.7,65.2 146.1,65.0 146.4,65.1 146.8,64.6 147.2,64.4 147.6,64.5 148.0,63.9 148.4,63.4 148.8,63.7 149.2,63.1 149.6,62.5 149.9,62.5 150.3,62.3 150.7,62.0 151.1,61.9 151.5,61.8 151.9,61.4 152.3,61.4 152.7,60.9 153.1,60.5 153.5,60.5 153.9,60.3 154.3,60.1 154.7,59.8 155.1,59.5 155.5,59.3 155.9,59.1 156.3,59.0 156.7,58.5 157.1,58.3 157.5,58.2 157.9,57.9 158.3,57.8 158.7,57.8 159.1,57.1 159.5,57.5 159.9,56.8 160.3,56.8 160.7,56.4 161.1,56.2 161.6,56.2 162.0,55.8 162.4,55.6 162.8,55.1 163.2,55.2 163.6,55.0 164.0,54.7 164.4,55.1 164.9,54.5 165.3,54.1 165.7,54.3 166.1,53.8 166.5,53.6 166.9,53.7 167.4,53.4 167.8,53.3 168.2,52.9 168.6,53.1 169.0,52.9 169.5,52.5 169.9,52.3 170.3,52.3 170.7,52.2 171.1,51.9 171.6,51.8 172.0,51.5 172.4,51.4 172.9,51.4 173.3,51.0 173.7,51.2 174.1,50.8 174.6,50.5 175.0,50.6 175.4,50.3 175.9,50.2 176.3,50.1 176.7,50.0 177.2,49.8 177.6,49.8 178.0,49.5 178.5,49.2 178.9,49.1 179.3,48.5 179.8,48.1 180.2,48.4 180.7,48.1 181.1,47.9 181.5,48.4 182.0,47.7 182.4,47.6 182.9,47.0 183.3,46.9 183.8,46.9 184.2,46.6 184.7,46.2 185.1,46.0 185.5,46.1 186.0,45.8 186.4,45.3 186.9,45.3 187.3,45.2 187.8,45.2 188.3,44.9 188.7,44.7 189.2,44.7 189.6,44.4 190.1,43.9 190.5,44.3 191.0,44.3 191.4,44.0 191.9,43.7 192.4,43.7 192.8,43.9 193.3,43.5 193.7,43.6 194.2,43.6 194.7,43.9 195.1,43.6 195.6,43.7 196.1,43.6 196.5,44.0 197.0,43.4 197.5,44.0 197.9,44.4 198.4,44.5 198.9,44.3 199.3,44.8 199.8,44.5 200.3,45.2 200.8,45.2 201.2,45.7 201.7,46.2 202.2,45.9 202.7,46.5 203.1,47.2 203.6,47.4 204.1,47.8 204.6,48.3 205.1,48.8 205.5,49.1 206.0,49.9 206.5,50.5 207.0,51.5 207.5,51.9 208.0,52.4 208.4,53.1 208.9,53.9 209.4,54.7 209.9,55.2 210.4,56.4 210.9,57.0 211.4,58.0 211.9,59.1 212.4,60.1 212.9,61.5 213.4,62.4 213.8,63.4 214.3,64.7 214.8,65.9 215.3,66.9 215.8,68.0 216.3,69.7 216.8,70.6 217.3,72.0 217.8,73.5 218.3,74.9 218.9,76.2 219.4,77.9 219.9,79.5 220.4,81.1 220.9,82.7 221.4,85.0 221.9,86.7 222.4,88.4 222.9,90.9 223.4,91.5 223.9,92.1 224.5,95.6 225.0,96.2 225.5,96.7 226.0,98.1 226.5,99.1 227.0,105.1"/>
<polyline stroke="#ff8000" stroke-width="0.85" points="226.5,99.1 227.0,105.1 227.6,103.6 228.1,102.1 228.6,110.6 229.1,111.4 229.7,109.0 230.2,110.3 230.7,117.3 231.2,116.6 231.8,114.2 232.3,114.1 232.8,109.3 233.3,112.6 233.9,115.7 234.4,117.9 234.9,115.0 235.5,109.5 236.0,122.0 236.6,127.9 237.1,135.2 237.6,121.4 238.2,138.8 238.7,162.6 239.2,130.8 239.8,131.1 240.3,117.2 240.9,114.5 241.4,127.3 242.0,127.4 242.5,116.9 243.1,123.0 243.6,126.0 244.2,117.9 244.7,133.9 245.3,118.8 245.8,113.1 246.4,154.1 246.9,120.3 247.5,125.3 248.0,116.1 248.6,117.7 249.2,132.4 249.7,124.8 250.3,133.2 250.8,117.8 251.4,134.1 252.0,125.0 252.5,118.7 253.1,128.7 253.7,139.7 254.2,143.8 254.8,139.4 255.4,126.6 255.9,127.5 256.5,121.6 257.1,125.8 257.7,118.0 258.2,119.8 258.8,117.0 259.4,130.7 260.0,142.6 260.6,117.4 261.1,122.2 261.7,164.9 262.3,130.6 262.9,121.8 263.5,117.9 264.1,114.0 264.6,118.4 265.2,122.9 265.8,128.9 266.4,134.2 267.0,131.6 267.6,140.3 268.2,125.4 268.8,119.0 269.4,121.8 270.0,136.8 270.6,120.9 271.2,118.6 271.8,126.2 272.4,127.5 273.0,125.1 273.6,122.4 274.2,165.4 274.8,135.2 275.4,149.0 276.0,125.4 276.6,122.4 277.3,130.9 277.9,119.3 278.5,124.4 279.1,123.7 279.7,124.9 280.3,141.0 280.9,116.7 281.6,124.0 282.2,165.9 282.8,121.8 283.4,120.1 284.1,145.8 284.7,124.7 285.3,117.2 285.9,121.9 286.6,124.6 287.2,124.9 287.8,122.3 288.5,136.8 289.1,128.6 289.7,123.3 290.4,125.4 291.0,118.2 291.7,165.8 292.3,115.6 292.9,129.9 293.6,131.4 294.2,126.1 294.9,119.5 295.5,127.3 296.2,118.0 296.8,118.9 297.5,124.4 298.1,126.1 298.8,126.1 299.4,123.2 300.1,145.8 300.8,117.5 301.4,123.7 302.1,122.1 302.7,128.5 303.4,127.4 304.1,114.4 304.7,140.6 305.4,119.8 306.1,123.0 306.7,124.0 307.4,117.5 308.1,118.4"/>
<polyline stroke="#ff8000" points="307.4,117.5 308.1,118.4 308.8,115.5 309.4,115.0 310.1,114.8 310.8,112.1 311.5,110.8 312.1,108.9 312.8,106.7 313.5,104.6 314.2,102.6 314.9,100.9 315.6,99.3 316.3,98.0 317.0,97.3 317.6,96.3 318.3,95.8 319.0,95.5 319.7,94.4 320.4,94.2 321.1,93.4 321.8,93.1 322.5,93.0 323.2,92.5 323.9,92.3 324.6,92.8 325.4,92.0 326.1,92.0 326.8,92.8 327.5,93.3 328.2,94.5 328.9,94.7 329.6,94.8 330.4,96.6 331.1,96.9 331.8,98.4 332.5,101.1 333.2,103.9 334.0,107.5 334.7,111.3 335.4,112.3 336.2,114.6 336.9,115.6 337.6,118.6 338.4,120.3 339.1,121.5 339.8,120.5 340.6,122.8 341.3,123.8 342.1,124.1 342.8,125.6 343.6,126.4"/>
<polyline stroke="#ff8000" stroke-width="0.85" points="342.8,125.6 343.6,126.4 344.3,129.7 345.0,132.1"/>
<polyline stroke="#008000" stroke-width="0.85" points="48.0,121.4 48.2,130.6 48.5,126.5 48.8,127.6 49.0,123.8 49.3,129.6 49.5,120.1 49.8,120.5 50.0,118.7 50.3,125.5 50.5,143.6 50.8,125.1 51.0,128.0 51.3,127.1 51.5,135.4 51.8,124.5 52.0,126.4 52.3,126.8 52.5,122.6 52.8,123.0 53.1,121.5 53.3,143.7 53.6,126.0 53.8,128.3 54.1,123.0 54.3,139.0 54.6,128.0 54.9,126.7 55.1,164.8 55.4,126.2 55.6,127.5 55.9,128.4 56.2,141.9 56.4,124.3 56.7,114.5 56.9,127.0 57.2,126.7 57.5,121.7 57.7,138.8 58.0,122.8 58.2,121.2 58.5,118.1 58.8,120.8 59.0,120.6 59.3,122.0 59.6,143.9 59.8,125.0 60.1,129.5 60.4,127.8 60.6,121.5 60.9,121.8 61.2,124.9 61.4,127.6 61.7,116.2 62.0,123.0 62.2,130.9 62.5,120.5 62.8,125.4 63.0,125.3 63.3,119.9 63.6,118.4 63.8,128.1 64.1,126.2 64.4,118.1 64.6,146.5 64.9,124.9 65.2,122.4 65.5,128.1 65.7,121.0 66.0,123.1 66.3,122.5 66.6,117.3 66.8,122.9 67.1,116.1 67.4,121.1 67.6,123.3 67.9,123.4 68.2,123.6 68.5,124.5 68.7,118.2 69.0,127.7 69.3,128.2 69.6,150.7 69.9,124.6 70.1,124.6 70.4,122.5 70.7,127.4 71.0,124.3 71.2,162.0 71.5,125.6 71.8,132.9 72.1,119.2 72.4,119.6 72.6,123.4 72.9,132.4 73.2,135.7 73.5,117.8 73.8,128.9 74.1,148.0 74.3,126.1 74.6,116.7 74.9,112.9 75.2,129.8 75.5,120.7 75.8,118.5 76.1,113.8 76.3,118.0 76.6,117.8 76.9,118.3 77.2,119.8 77.5,126.4 77.8,118.1 78.1,117.3 78.3,116.2 78.6,139.7 78.9,119.4 79.2,121.1 79.5,115.7 79.8,113.7 80.1,124.8 80.4,125.9 80.7,116.0 81.0,116.1 81.3,118.8 81.5,119.6 81.8,122.4 82.1,124.7 82.4,119.6 82.7,115.9 83.0,111.2 83.3,117.1 83.6,120.1 83.9,115.8 84.2,112.2 84.5,114.8 84.8,116.9 85.1,114.3 85.4,111.5 85.7,117.4 86.0,116.2 86.3,112.4 86.6,119.3 86.9,113.6 87.2,111.8 87.5,116.0 87.8,114.0 88.1,121.2 88.4,109.7 88.7,113.6 89.0,109.6 89.3,108.8 89.6,109.7 89.9,113.5 90.2,108.6 90.5,108.9 90.8,107.8 91.1,110.8 91.4,107.3 91.7,114.1 92.0,111.3 92.4,112.3 92.7,112.0 93.0,108.4 93.3,108.3 93.6,108.9 93.9,108.4 94.2,110.2 94.5,106.8 94.8,106.6 95.1,107.3 95.4,108.7 95.8,108.3 96.1,107.8 96.4,108.3"/>
<polyline stroke="#008000" points="96.1,107.8 96.4,108.3 96.7,107.5 97.0,106.3 97.3,106.5 97.6,106.5 98.0,106.7 98.3,108.8 98.6,105.5 98.9,106.9 99.2,105.3 99.5,109.1 99.9,105.0 100.2,106.1 100.5,104.9 100.8,103.9 101.1,104.9 101.5,107.0 101.8,104.3 102.1,105.3 102.4,104.1 102.7,104.7 103.1,103.7 103.4,104.0 103.7,103.0 104.0,103.9 104.4,103.2 104.7,102.9 105.0,103.6 105.3,102.5 105.7,102.5 106.0,101.8 106.3,101.4 106.6,102.1 107.0,101.0 107.3,101.0 107.6,100.7 107.9,100.2 108.3,100.6 108.6,100.0 108.9,99.8 109.3,99.3 109.6,98.9 109.9,98.4 110.3,98.4 110.6,97.9 110.9,97.5 111.3,97.1 111.6,97.1 111.9,96.7 112.3,96.8 112.6,95.9 112.9,96.1 113.3,95.7 113.6,95.7 113.9,95.2 114.3,95.1 114.6,94.7 115.0,94.1 115.3,94.0 115.6,94.0 116.0,93.9 116.3,93.5 116.7,93.1 117.0,92.9 117.3,92.5 117.7,92.7 118.0,91.7 118.4,92.0 118.7,91.4 119.1,91.2 119.4,91.3 119.8,90.9 120.1,90.5 120.5,90.1 120.8,89.7 121.1,89.8 121.5,89.8 121.8,89.4 122.2,89.2 122.5,89.1 122.9,88.5 123.2,88.4 123.6,88.5 124.0,88.0 124.3,87.8 124.7,87.3 125.0,87.2 125.4,87.1 125.7,86.9 126.1,86.4 126.4,86.2 126.8,86.1 127.1,85.9 127.5,85.6 127.9,85.7 128.2,85.3 128.6,84.8 128.9,84.2 129.3,84.3 129.7,83.9 130.0,84.7 130.4,83.9 130.7,83.3 131.1,83.2 131.5,83.0 131.8,83.0 132.2,82.9 132.6,82.3 132.9,82.2 133.3,81.7 133.7,82.0 134.0,81.6 134.4,81.2 134.8,80.7 135.1,80.6 135.5,80.4 135.9,80.3 136.2,79.9 136.6,79.9 137.0,79.2 137.3,79.3 137.7,78.9 138.1,78.2 138.5,78.4 138.8,78.3 139.2,77.6 139.6,77.8 140.0,77.6 140.3,77.6 140.7,77.0 141.1,77.0 141.5,76.2 141.9,76.1 142.2,75.9 142.6,75.6 143.0,75.4 143.4,74.8 143.8,74.9 144.1,74.7 144.5,74.8 144.9,74.0 145.3,74.0 145.7,73.7 146.1,73.2 146.4,73.4 146.8,72.9 147.2,72.7 147.6,73.0 148.0,72.3 148.4,71.9 148.8,71.4 149.2,71.7 149.6,71.1 149.9,71.1 150.3,70.9 150.7,70.9 151.1,70.6 151.5,70.5 151.9,70.0 152.3,69.6 152.7,69.8 153.1,69.4 153.5,69.4 153.9,69.2 154.3,68.6 154.7,68.2 155.1,68.5 155.5,68.1 155.9,68.0 156.3,67.8 156.7,67.7 157.1,67.5 157.5,67.1 157.9,66.8 158.3,66.7 158.7,66.5 159.1,66.5 159.5,66.0 159.9,66.2 160.3,65.5 160.7,65.4 161.1,65.3 161.6,65.0 162.0,65.5 162.4,64.8 162.8,64.9 163.2,64.8 163.6,64.4 164.0,64.5 164.4,64.0 164.9,63.8 165.3,63.7 165.7,63.4 166.1,63.6 166.5,63.0 166.9,63.3 167.4,63.0 167.8,62.4 168.2,62.5 168.6,62.6 169.0,62.3 169.5,62.5 169.9,61.5 170.3,61.4 170.7,61.4 171.1,61.5 171.6,61.5 172.0,61.4 172.4,60.8 172.9,60.8 173.3,60.6 173.7,60.2 174.1,60.6 174.6,60.1 175.0,59.7 175.4,59.6 175.9,60.1 176.3,59.3 176.7,59.1 177.2,59.3 177.6,59.0 178.0,58.5 178.5,58.6 178.9,58.1 179.3,57.8 179.8,57.8 180.2,57.4 180.7,57.1 181.1,57.5 181.5,57.7 182.0,57.2 182.4,57.0 182.9,57.2 183.3,56.8 183.8,56.4 184.2,56.3 184.7,56.1 185.1,56.0 185.5,55.9 186.0,55.5 186.4,55.5 186.9,55.4 187.3,55.6 187.8,55.6 188.3,55.0 188.7,55.4 189.2,55.0 189.6,54.8 190.1,54.9 190.5,54.5 191.0,54.8 191.4,54.7 191.9,54.6 192.4,54.9 192.8,55.0 193.3,54.8 193.7,55.0 194.2,55.8 194.7,55.6 195.1,55.8 195.6,55.8 196.1,56.0 196.5,56.3 197.0,56.8 197.5,57.0 197.9,57.2 198.4,57.9 198.9,57.8 199.3,58.6 199.8,58.7 200.3,59.4 200.8,60.5 201.2,60.9 201.7,61.3 202.2,62.0 202.7,62.3 203.1,63.6 203.6,64.0 204.1,64.8 204.6,64.9 205.1,66.5 205.5,67.3 206.0,68.1 206.5,69.4 207.0,70.0 207.5,71.5 208.0,72.6 208.4,73.8 208.9,75.1 209.4,75.9 209.9,77.6 210.4,78.9 210.9,80.4 211.4,82.2 211.9,83.4 212.4,85.3 212.9,86.6 213.4,87.1 213.8,87.8 214.3,88.6 214.8,90.4 215.3,93.0 215.8,94.4 216.3,96.8 216.8,99.9 217.3,100.3 217.8,107.4 218.3,108.8 218.9,109.8 219.4,116.4 219.9,110.2 220.4,115.2"/>
<polyline stroke="#008000" stroke-width="0.85" points="219.9,110.2 220.4,115.2 220.9,117.3 221.4,115.9 221.9,120.7 222.4,123.5 222.9,120.8 223.4,123.9 223.9,122.3 224.5,132.9 225.0,123.0 225.5,130.2 226.0,124.5 226.5,133.8 227.0,129.8 227.6,134.9 228.1,124.8 228.6,136.3 229.1,131.4 229.7,132.3 230.2,175.1 230.7,130.2 231.2,135.3 231.8,128.8 232.3,161.0 232.8,136.6 233.3,145.2 233.9,153.0 234.4,138.0 234.9,128.2 235.5,140.7 236.0,177.9 236.6,178.3 237.1,154.2 237.6,130.6 238.2,146.8 238.7,143.3 239.2,130.1 239.8,144.4 240.3,131.7 240.9,134.7 241.4,174.3 242.0,145.3 242.5,134.0 243.1,138.7 243.6,178.5 244.2,133.6 244.7,131.4 245.3,130.1 245.8,135.3 246.4,169.1 246.9,137.0 247.5,156.7 248.0,132.3 248.6,137.9 249.2,130.9 249.7,138.7 250.3,151.7 250.8,126.5 251.4,138.7 252.0,179.1 252.5,145.2 253.1,179.3 253.7,170.2 254.2,138.6 254.8,166.8 255.4,144.3 255.9,179.3 256.5,134.6 257.1,135.7 257.7,142.6 258.2,179.3 258.8,132.6 259.4,179.5 260.0,134.3 260.6,143.3 261.1,148.9 261.7,128.5 262.3,136.8 262.9,135.9 263.5,138.1 264.1,136.1 264.6,140.0 265.2,179.5 265.8,145.1 266.4,168.4 267.0,129.9 267.6,162.7 268.2,140.9 268.8,145.8 269.4,138.3 270.0,145.9 270.6,132.7 271.2,139.8 271.8,140.0 272.4,135.1 273.0,160.6 273.6,146.1 274.2,179.9 274.8,139.5 275.4,135.1 276.0,137.3 276.6,136.1 277.3,132.4 277.9,142.1 278.5,153.2 279.1,137.6 279.7,139.3 280.3,139.9 280.9,131.8 281.6,130.9 282.2,130.2 282.8,138.1 283.4,129.6 284.1,134.1 284.7,132.3 285.3,143.0 285.9,159.8 286.6,142.5 287.2,139.2 287.8,131.3 288.5,134.0 289.1,137.4 289.7,142.2 290.4,136.4 291.0,139.1 291.7,136.8 292.3,155.7 292.9,146.9 293.6,132.5 294.2,179.9 294.9,138.3 295.5,180.1 296.2,151.8 296.8,134.2 297.5,135.8 298.1,136.6 298.8,136.4 299.4,146.2 300.1,180.1 300.8,139.7 301.4,136.4 302.1,140.8 302.7,149.9 303.4,140.2 304.1,132.9 304.7,174.7 305.4,145.1 306.1,129.4 306.7,129.4 307.4,129.8 308.1,126.0 308.8,126.6 309.4,124.1"/>
<polyline stroke="#008000" points="308.8,126.6 309.4,124.1 310.1,121.7 310.8,122.9 311.5,120.7 312.1,119.7 312.8,119.4 313.5,117.3 314.2,115.7 314.9,114.1 315.6,113.6 316.3,112.2 317.0,112.0 317.6,111.0 318.3,109.8 319.0,109.3 319.7,108.3 320.4,108.3 321.1,107.5 321.8,106.5 322.5,106.1 323.2,105.7 323.9,106.2 324.6,105.2 325.4,105.4 326.1,105.3 326.8,106.0 327.5,107.1 328.2,108.3 328.9,108.5 329.6,110.4 330.4,111.8 331.1,113.1 331.8,114.2 332.5,117.5 333.2,119.1 334.0,123.1 334.7,123.5 335.4,127.3 336.2,128.5 336.9,128.6 337.6,132.3 338.4,137.2 339.1,138.8 339.8,140.8 340.6,145.2"/>
<polyline stroke="#008000" stroke-width="0.85" points="339.8,140.8 340.6,145.2 341.3,146.8 342.1,151.5 342.8,145.2 343.6,153.3 344.3,151.0 345.0,151.6"/>
<polyline stroke="#800000" stroke-width="0.85" points="48.0,141.7 48.2,133.4 48.5,139.8 48.8,142.5 49.0,175.9 49.3,142.6 49.5,144.3 49.8,147.5 50.0,137.0 50.3,137.4 50.5,141.6 50.8,147.3 51.0,140.5 51.3,138.0 51.5,150.1 51.8,144.6 52.0,139.1 52.3,138.4 52.5,151.7 52.8,143.6 53.1,136.5 53.3,143.0 53.6,139.3 53.8,135.2 54.1,143.1 54.3,136.6 54.6,143.7 54.9,134.8 55.1,135.5 55.4,140.1 55.6,142.3 55.9,143.7 56.2,135.3 56.4,144.0 56.7,140.6 56.9,138.2 57.2,138.4 57.5,135.0 57.7,155.6 58.0,141.2 58.2,137.4 58.5,141.1 58.8,146.5 59.0,137.0 59.3,141.8 59.6,136.9 59.8,143.0 60.1,173.6 60.4,151.0 60.6,134.6 60.9,141.7 61.2,144.1 61.4,142.7 61.7,145.8 62.0,138.7 62.2,140.0 62.5,137.3 62.8,146.1 63.0,135.1 63.3,138.7 63.6,138.7 63.8,149.8 64.1,139.9 64.4,141.9 64.6,135.5 64.9,141.4 65.2,133.9 65.5,141.5 65.7,139.3 66.0,135.6 66.3,142.1 66.6,144.6 66.8,143.0 67.1,137.5 67.4,131.7 67.6,139.9 67.9,142.9 68.2,130.6 68.5,137.0 68.7,142.2 69.0,145.5 69.3,137.4 69.6,137.6 69.9,133.5 70.1,135.0 70.4,139.7 70.7,133.1 71.0,155.2 71.2,133.9 71.5,133.7 71.8,137.5 72.1,133.6 72.4,134.5 72.6,136.5 72.9,132.9 73.2,134.6 73.5,132.8 73.8,131.1 74.1,135.5 74.3,169.4 74.6,134.0 74.9,136.1 75.2,129.5 75.5,129.4 75.8,130.6 76.1,130.7 76.3,130.0 76.6,138.1 76.9,133.2 77.2,133.6 77.5,129.8 77.8,133.6 78.1,130.6 78.3,127.7 78.6,129.8 78.9,137.0 79.2,141.0 79.5,132.7 79.8,133.9 80.1,124.5 80.4,128.6 80.7,130.0 81.0,132.0 81.3,129.0 81.5,128.8 81.8,128.3 82.1,129.3 82.4,127.0 82.7,131.5 83.0,127.4 83.3,125.0 83.6,126.9 83.9,125.9 84.2,129.1 84.5,134.7 84.8,132.0 85.1,129.3 85.4,124.6 85.7,127.5 86.0,128.7 86.3,128.3 86.6,132.2 86.9,121.8 87.2,124.4"/>
<polyline stroke="#800000" points="86.9,121.8 87.2,124.4 87.5,125.5 87.8,127.0 88.1,125.5 88.4,125.2 88.7,124.2 89.0,124.1 89.3,127.1 89.6,125.3 89.9,126.5 90.2,124.7 90.5,127.9 90.8,126.6 91.1,123.4 91.4,122.9 91.7,122.1 92.0,124.2 92.4,123.5 92.7,121.8 93.0,123.2 93.3,122.3 93.6,122.2 93.9,121.8 94.2,121.4 94.5,121.2 94.8,120.8 95.1,121.0 95.4,121.1 95.8,120.8 96.1,120.0 96.4,119.6 96.7,119.8 97.0,120.3 97.3,118.9 97.6,119.3 98.0,118.4 98.3,118.2 98.6,117.9 98.9,117.9 99.2,116.9 99.5,116.7 99.9,116.9 100.2,117.1 100.5,116.6 100.8,116.3 101.1,116.6 101.5,115.8 101.8,115.6 102.1,115.7 102.4,115.0 102.7,115.1 103.1,114.8 103.4,114.8 103.7,114.6 104.0,114.8 104.4,113.7 104.7,113.7 105.0,114.0 105.3,112.9 105.7,112.8 106.0,112.6 106.3,112.8 106.6,112.7 107.0,112.4 107.3,112.1 107.6,111.7 107.9,111.8 108.3,111.3 108.6,110.7 108.9,110.7 109.3,110.7 109.6,110.5 109.9,110.0 110.3,110.2 110.6,109.1 110.9,109.7 111.3,109.1 111.6,108.7 111.9,108.7 112.3,108.3 112.6,108.0 112.9,108.2 113.3,107.9 113.6,107.5 113.9,106.9 114.3,107.3 114.6,106.9 115.0,106.5 115.3,105.8 115.6,105.7 116.0,105.3 116.3,105.2 116.7,104.9 117.0,104.8 117.3,104.4 117.7,103.9 118.0,104.1 118.4,103.5 118.7,103.3 119.1,102.8 119.4,102.6 119.8,102.7 120.1,102.0 120.5,101.8 120.8,101.8 121.1,101.5 121.5,100.6 121.8,100.5 122.2,100.3 122.5,99.9 122.9,100.0 123.2,99.3 123.6,99.5 124.0,99.4 124.3,98.7 124.7,98.3 125.0,98.0 125.4,97.7 125.7,97.4 126.1,97.6 126.4,97.5 126.8,97.1 127.1,96.6 127.5,96.6 127.9,96.0 128.2,95.7 128.6,95.4 128.9,95.4 129.3,95.2 129.7,95.0 130.0,94.6 130.4,94.5 130.7,94.4 131.1,94.0 131.5,93.4 131.8,93.5 132.2,92.9 132.6,92.6 132.9,93.0 133.3,92.6 133.7,91.9 134.0,92.2 134.4,92.1 134.8,91.4 135.1,91.5 135.5,91.6 135.9,90.8 136.2,90.4 136.6,90.6 137.0,90.0 137.3,90.3 137.7,89.7 138.1,89.8 138.5,89.4 138.8,88.8 139.2,88.3 139.6,88.8 140.0,88.4 140.3,88.2 140.7,88.1 141.1,87.8 141.5,87.6 141.9,87.4 142.2,87.2 142.6,86.7 143.0,86.6 143.4,85.8 143.8,86.0 144.1,85.5 144.5,85.5 144.9,85.2 145.3,85.0 145.7,84.9 146.1,84.5 146.4,83.7 146.8,83.5 147.2,83.7 147.6,83.1 148.0,83.3 148.4,82.7 148.8,82.3 149.2,82.2 149.6,82.1 149.9,82.0 150.3,81.8 150.7,81.3 151.1,80.7 151.5,80.9 151.9,81.1 152.3,80.5 152.7,80.4 153.1,80.0 153.5,79.7 153.9,80.1 154.3,79.0 154.7,79.0 155.1,79.2 155.5,78.6 155.9,78.4 156.3,78.2 156.7,78.3 157.1,77.9 157.5,78.4 157.9,77.5 158.3,77.6 158.7,77.1 159.1,76.9 159.5,77.1 159.9,76.7 160.3,76.3 160.7,76.3 161.1,76.6 161.6,76.4 162.0,76.1 162.4,75.9 162.8,75.8 163.2,75.7 163.6,75.5 164.0,75.3 164.4,75.0 164.9,75.3 165.3,74.9 165.7,74.3 166.1,74.5 166.5,74.3 166.9,74.4 167.4,73.7 167.8,74.3 168.2,73.9 168.6,73.6 169.0,73.2 169.5,73.1 169.9,73.3 170.3,73.3 170.7,73.3 171.1,73.3 171.6,72.7 172.0,72.9 172.4,72.5 172.9,72.7 173.3,72.0 173.7,72.3 174.1,72.5 174.6,72.2 175.0,72.0 175.4,71.9 175.9,71.8 176.3,72.0 176.7,71.5 177.2,71.6 177.6,71.7 178.0,71.3 178.5,70.9 178.9,71.3 179.3,71.3 179.8,70.7 180.2,71.2 180.7,71.0 181.1,70.8 181.5,70.5 182.0,70.6 182.4,70.2 182.9,70.6 183.3,70.6 183.8,70.4 184.2,70.5 184.7,70.4 185.1,70.1 185.5,70.1 186.0,70.5 186.4,70.4 186.9,69.8 187.3,70.5 187.8,70.3 188.3,70.3 188.7,70.3 189.2,70.4 189.6,71.0 190.1,71.2 190.5,71.3 191.0,71.6 191.4,71.5 191.9,72.3 192.4,72.1 192.8,72.6 193.3,72.6 193.7,73.0 194.2,72.9 194.7,73.5 195.1,74.2 195.6,74.4 196.1,75.0 196.5,75.8 197.0,76.3 197.5,77.1 197.9,77.9 198.4,78.3 198.9,79.4 199.3,79.8 199.8,80.8 200.3,81.3 200.8,82.4 201.2,83.5 201.7,84.0 202.2,85.2 202.7,86.2 203.1,87.5 203.6,88.3 204.1,89.3 204.6,90.5 205.1,91.9 205.5,92.9 206.0,94.1 206.5,95.2 207.0,96.7 207.5,98.5 208.0,99.8 208.4,101.0 208.9,103.1 209.4,105.3 209.9,107.0 210.4,110.5 210.9,111.8 211.4,114.6 211.9,116.4 212.4,118.6 212.9,120.5 213.4,121.3 213.8,126.1"/>
<polyline stroke="#800000" stroke-width="0.85" points="213.4,121.3 213.8,126.1 214.3,127.7 214.8,126.4 215.3,135.1 215.8,135.4 216.3,134.0 216.8,130.3 217.3,135.0 217.8,133.7 218.3,140.8 218.9,147.7 219.4,148.6 219.9,140.5 220.4,148.7 220.9,160.5 221.4,145.3 221.9,159.8 222.4,161.0 222.9,159.9 223.4,155.0 223.9,140.2 224.5,142.2 225.0,188.2 225.5,151.7 226.0,160.5 226.5,154.2 227.0,151.5 227.6,164.1 228.1,190.2 228.6,190.3 229.1,156.3 229.7,154.6 230.2,157.5 230.7,172.3 231.2,150.5 231.8,156.0 232.3,148.3 232.8,171.9 233.3,149.3 233.9,145.5 234.4,190.3 234.9,155.7 235.5,147.1 236.0,151.4 236.6,145.4 237.1,166.8 237.6,190.7 238.2,151.7 238.7,145.1 239.2,190.2 239.8,190.2 240.3,151.6 240.9,150.5 241.4,146.4 242.0,155.1 242.5,155.2 243.1,144.4 243.6,147.2 244.2,145.2 244.7,157.4 245.3,190.6 245.8,149.5 246.4,153.3 246.9,153.2 247.5,160.8 248.0,190.1 248.6,161.0 249.2,157.2 249.7,173.1 250.3,155.2 250.8,164.4 251.4,160.5 252.0,148.3 252.5,159.8 253.1,152.5 253.7,152.6 254.2,149.7 254.8,152.5 255.4,157.5 255.9,151.2 256.5,146.7 257.1,159.0 257.7,190.9 258.2,147.6 258.8,171.5 259.4,146.7 260.0,156.7 260.6,173.5 261.1,161.1 261.7,151.2 262.3,148.8 262.9,155.9 263.5,159.1 264.1,151.9 264.6,165.5 265.2,149.7 265.8,190.9 266.4,153.6 267.0,169.3 267.6,160.9 268.2,184.8 268.8,175.7 269.4,151.0 270.0,172.2 270.6,154.1 271.2,147.0 271.8,152.8 272.4,191.0 273.0,164.5 273.6,190.9 274.2,153.0 274.8,170.9 275.4,162.2 276.0,148.1 276.6,191.2 277.3,152.9 277.9,157.1 278.5,147.7 279.1,150.3 279.7,151.9 280.3,153.1 280.9,146.9 281.6,171.1 282.2,161.0 282.8,151.0 283.4,151.5 284.1,161.8 284.7,151.8 285.3,154.1 285.9,152.4 286.6,151.9 287.2,144.7 287.8,154.1 288.5,156.2 289.1,191.0 289.7,154.5 290.4,154.2 291.0,152.3 291.7,166.6 292.3,148.9 292.9,178.2 293.6,177.0 294.2,191.1 294.9,149.3 295.5,164.8 296.2,155.4 296.8,183.2 297.5,159.0 298.1,150.9 298.8,148.5 299.4,156.4 300.1,157.0 300.8,157.1 301.4,161.3 302.1,189.6 302.7,188.6 303.4,148.9 304.1,150.5 304.7,167.5 305.4,141.7 306.1,143.3 306.7,144.6 307.4,146.3 308.1,142.7 308.8,138.0 309.4,141.3"/>
<polyline stroke="#800000" points="308.8,138.0 309.4,141.3 310.1,137.0 310.8,137.6 311.5,135.6 312.1,133.4 312.8,132.1 313.5,131.9 314.2,130.0 314.9,129.2 315.6,127.7 316.3,127.1 317.0,125.9 317.6,125.0 318.3,123.7 319.0,123.1 319.7,122.3 320.4,121.1 321.1,120.6 321.8,120.1 322.5,119.1 323.2,118.3 323.9,118.1 324.6,118.1 325.4,117.5 326.1,117.8 326.8,118.2 327.5,118.9 328.2,119.3 328.9,120.1 329.6,121.7 330.4,121.8 331.1,123.7 331.8,124.5 332.5,127.7 333.2,129.1 334.0,132.4 334.7,135.2 335.4,137.6 336.2,139.0 336.9,143.4 337.6,149.2 338.4,151.8 339.1,153.0 339.8,152.6"/>
<polyline stroke="#800000" stroke-width="0.85" points="339.1,153.0 339.8,152.6 340.6,154.1 341.3,158.7 342.1,156.3 342.8,169.6 343.6,164.5 344.3,158.9 345.0,167.4"/>
<polyline stroke="#000080" stroke-width="0.85" points="48.0,163.7 48.2,157.0 48.5,155.0 48.8,165.3 49.0,164.3 49.3,171.6 49.5,154.1 49.8,155.6 50.0,160.7 50.3,172.1 50.5,160.9 50.8,159.6 51.0,157.4 51.3,185.7 51.5,156.3 51.8,161.2 52.0,155.0 52.3,156.6 52.5,167.6 52.8,159.1 53.1,162.3 53.3,158.4 53.6,164.8 53.8,162.2 54.1,162.2 54.3,179.3 54.6,156.3 54.9,151.4 55.1,160.8 55.4,156.2 55.6,160.8 55.9,190.2 56.2,165.6 56.4,151.3 56.7,149.6 56.9,157.9 57.2,163.2 57.5,153.7 57.7,163.7 58.0,155.6 58.2,157.0 58.5,162.2 58.8,153.9 59.0,157.0 59.3,149.5 59.6,151.3 59.8,155.9 60.1,165.9 60.4,162.6 60.6,151.0 60.9,151.8 61.2,163.7 61.4,154.9 61.7,159.9 62.0,162.9 62.2,171.2 62.5,155.1 62.8,154.2 63.0,156.1 63.3,163.2 63.6,152.4 63.8,156.8 64.1,150.5 64.4,152.1 64.6,155.3 64.9,149.1 65.2,156.9 65.5,156.5 65.7,151.7 66.0,148.7 66.3,152.7 66.6,151.4 66.8,150.2 67.1,152.8 67.4,149.8 67.6,149.8 67.9,164.2 68.2,145.4 68.5,144.9 68.7,149.2 69.0,145.9 69.3,148.6 69.6,146.1 69.9,145.0 70.1,151.0 70.4,146.4 70.7,143.1 71.0,143.8 71.2,142.0 71.5,142.4 71.8,144.7 72.1,152.1 72.4,143.8 72.6,142.3 72.9,142.0 73.2,148.0 73.5,141.6 73.8,146.6 74.1,140.8 74.3,136.9 74.6,148.0 74.9,144.5 75.2,141.7 75.5,137.0 75.8,131.6 76.1,138.6 76.3,139.5 76.6,140.5 76.9,152.6 77.2,139.0 77.5,137.6 77.8,133.2 78.1,155.3 78.3,137.8 78.6,136.4 78.9,143.7 79.2,132.2 79.5,135.4 79.8,133.8 80.1,136.7 80.4,137.2 80.7,145.3 81.0,132.8 81.3,131.7 81.5,133.0 81.8,138.8 82.1,137.5 82.4,140.9 82.7,135.7 83.0,130.3 83.3,132.2 83.6,136.6 83.9,140.7 84.2,133.2 84.5,132.6 84.8,134.6 85.1,134.9 85.4,135.6 85.7,134.3 86.0,137.1 86.3,132.6 86.6,132.1 86.9,132.5 87.2,132.8 87.5,129.8 87.8,133.9 88.1,132.5 88.4,128.8 88.7,137.0 89.0,138.7 89.3,131.2 89.6,132.9 89.9,128.2 90.2,129.8 90.5,130.1 90.8,129.9 91.1,134.2 91.4,131.0 91.7,127.4 92.0,134.1 92.4,131.0 92.7,133.2 93.0,129.2 93.3,128.8 93.6,132.1 93.9,129.9 94.2,127.6 94.5,129.5 94.8,131.3"/>
<polyline stroke="#000080" points="94.5,129.5 94.8,131.3 95.1,128.5 95.4,126.3 95.8,131.0 96.1,129.5 96.4,128.9 96.7,127.7 97.0,127.4 97.3,127.5 97.6,125.7 98.0,127.5 98.3,128.2 98.6,127.1 98.9,125.6 99.2,127.1 99.5,125.9 99.9,126.4 100.2,126.2 100.5,126.2 100.8,124.8 101.1,125.6 101.5,125.4 101.8,125.8 102.1,125.1 102.4,124.6 102.7,124.1 103.1,124.2 103.4,124.6 103.7,123.5 104.0,122.7 104.4,123.2 104.7,122.8 105.0,122.5 105.3,122.3 105.7,121.5 106.0,121.8 106.3,121.7 106.6,120.7 107.0,120.8 107.3,120.6 107.6,119.7 107.9,119.7 108.3,120.0 108.6,119.4 108.9,118.7 109.3,118.9 109.6,118.3 109.9,118.4 110.3,118.0 110.6,117.7 110.9,117.3 111.3,117.2 111.6,117.2 111.9,116.9 112.3,116.9 112.6,116.5 112.9,115.7 113.3,115.9 113.6,115.1 113.9,115.2 114.3,114.9 114.6,114.6 115.0,114.2 115.3,113.8 115.6,113.8 116.0,113.5 116.3,113.1 116.7,112.7 117.0,112.5 117.3,112.7 117.7,111.7 118.0,111.5 118.4,111.6 118.7,111.2 119.1,110.6 119.4,110.8 119.8,110.5 120.1,110.1 120.5,109.4 120.8,109.8 121.1,109.2 121.5,109.1 121.8,108.7 122.2,108.4 122.5,108.0 122.9,107.6 123.2,107.8 123.6,107.1 124.0,106.8 124.3,107.1 124.7,106.7 125.0,106.3 125.4,106.0 125.7,105.8 126.1,105.6 126.4,105.3 126.8,105.1 127.1,104.9 127.5,104.8 127.9,104.4 128.2,104.0 128.6,104.1 128.9,103.7 129.3,103.7 129.7,103.0 130.0,103.1 130.4,102.6 130.7,102.4 131.1,102.5 131.5,102.0 131.8,102.1 132.2,101.7 132.6,101.3 132.9,101.5 133.3,101.3 133.7,101.1 134.0,100.4 134.4,100.3 134.8,100.3 135.1,99.9 135.5,100.0 135.9,99.6 136.2,99.2 136.6,99.2 137.0,99.1 137.3,98.9 137.7,98.5 138.1,98.3 138.5,98.4 138.8,97.7 139.2,98.0 139.6,97.6 140.0,97.6 140.3,96.9 140.7,96.9 141.1,96.7 141.5,96.7 141.9,96.3 142.2,95.8 142.6,95.7 143.0,95.5 143.4,95.4 143.8,95.4 144.1,95.1 144.5,94.8 144.9,94.5 145.3,94.3 145.7,94.2 146.1,93.7 146.4,93.5 146.8,93.5 147.2,93.3 147.6,92.6 148.0,92.6 148.4,92.3 148.8,92.2 149.2,92.0 149.6,91.6 149.9,91.4 150.3,91.1 150.7,91.0 151.1,90.8 151.5,90.7 151.9,90.2 152.3,90.2 152.7,90.1 153.1,89.7 153.5,89.8 153.9,89.8 154.3,89.5 154.7,89.0 155.1,89.2 155.5,88.7 155.9,88.6 156.3,88.4 156.7,88.3 157.1,88.4 157.5,88.0 157.9,87.8 158.3,87.8 158.7,87.3 159.1,87.4 159.5,87.0 159.9,87.1 160.3,86.9 160.7,86.7 161.1,86.6 161.6,86.5 162.0,86.5 162.4,86.2 162.8,86.3 163.2,86.2 163.6,85.4 164.0,85.3 164.4,85.5 164.9,85.6 165.3,85.7 165.7,85.2 166.1,84.8 166.5,85.0 166.9,84.9 167.4,84.4 167.8,84.4 168.2,84.5 168.6,83.7 169.0,83.7 169.5,83.8 169.9,84.0 170.3,83.7 170.7,83.5 171.1,84.1 171.6,83.4 172.0,83.1 172.4,83.6 172.9,83.4 173.3,83.0 173.7,83.1 174.1,82.7 174.6,82.6 175.0,82.6 175.4,82.7 175.9,82.9 176.3,82.6 176.7,82.8 177.2,82.6 177.6,82.9 178.0,82.5 178.5,82.6 178.9,82.1 179.3,82.3 179.8,82.3 180.2,82.9 180.7,82.3 181.1,82.7 181.5,82.4 182.0,82.6 182.4,82.7 182.9,82.0 183.3,82.3 183.8,82.7 184.2,82.3 184.7,82.6 185.1,82.7 185.5,82.7 186.0,82.6 186.4,82.5 186.9,82.0 187.3,82.4 187.8,82.6 188.3,82.6 188.7,82.8 189.2,83.4 189.6,82.9 190.1,83.4 190.5,83.6 191.0,84.0 191.4,84.0 191.9,84.6 192.4,84.9 192.8,85.5 193.3,85.6 193.7,85.5 194.2,85.9 194.7,86.4 195.1,86.9 195.6,88.0 196.1,88.6 196.5,88.7 197.0,89.7 197.5,90.2 197.9,91.2 198.4,92.4 198.9,94.3 199.3,95.2 199.8,97.1 200.3,98.3 200.8,99.8 201.2,101.5 201.7,103.0 202.2,104.6 202.7,106.0 203.1,107.1 203.6,109.3 204.1,110.7 204.6,112.1 205.1,113.4 205.5,115.5 206.0,116.6 206.5,118.6 207.0,120.0 207.5,121.4 208.0,123.0 208.4,124.6 208.9,126.5 209.4,128.3 209.9,129.4 210.4,130.1 210.9,136.8 211.4,140.1 211.9,140.4"/>
<polyline stroke="#000080" stroke-width="0.85" points="211.4,140.1 211.9,140.4 212.4,148.1 212.9,148.6 213.4,147.0 213.8,152.5 214.3,152.0 214.8,148.5 215.3,152.7 215.8,163.6 216.3,160.2 216.8,152.1 217.3,159.7 217.8,170.7 218.3,157.8 218.9,157.9 219.4,153.0 219.9,159.0 220.4,157.2 220.9,155.2 221.4,194.7 221.9,164.3 222.4,165.5 222.9,164.6 223.4,166.1 223.9,168.9 224.5,158.5 225.0,170.1 225.5,156.9 226.0,179.9 226.5,173.3 227.0,197.8 227.6,197.6 228.1,155.3 228.6,192.7 229.1,165.2 229.7,161.2 230.2,162.9 230.7,157.6 231.2,153.9 231.8,168.4 232.3,169.4 232.8,159.1 233.3,174.1 233.9,198.0 234.4,163.5 234.9,174.7 235.5,171.5 236.0,174.1 236.6,168.5 237.1,163.9 237.6,181.2 238.2,152.1 238.7,198.0 239.2,157.9 239.8,169.4 240.3,175.3 240.9,168.2 241.4,159.5 242.0,170.6 242.5,167.1 243.1,168.7 243.6,178.2 244.2,158.9 244.7,161.4 245.3,164.3 245.8,159.3 246.4,159.8 246.9,163.5 247.5,168.5 248.0,166.0 248.6,162.0 249.2,158.4 249.7,165.9 250.3,160.9 250.8,161.6 251.4,198.1 252.0,197.8 252.5,157.5 253.1,169.4 253.7,179.0 254.2,157.3 254.8,198.0 255.4,158.3 255.9,161.1 256.5,163.7 257.1,179.7 257.7,160.5 258.2,176.5 258.8,161.9 259.4,164.2 260.0,164.3 260.6,181.1 261.1,198.1 261.7,168.5 262.3,161.9 262.9,169.9 263.5,197.7 264.1,162.9 264.6,165.1 265.2,165.5 265.8,167.1 266.4,198.2 267.0,175.2 267.6,167.2 268.2,160.7 268.8,164.2 269.4,164.7 270.0,154.8 270.6,163.5 271.2,176.5 271.8,164.5 272.4,197.9 273.0,166.7 273.6,168.3 274.2,198.1 274.8,198.1 275.4,160.9 276.0,169.1 276.6,173.2 277.3,161.7 277.9,163.7 278.5,160.8 279.1,172.6 279.7,164.9 280.3,154.9 280.9,162.8 281.6,168.8 282.2,160.4 282.8,161.2 283.4,155.4 284.1,167.9 284.7,163.9 285.3,159.9 285.9,162.6 286.6,169.2 287.2,158.0 287.8,197.9 288.5,165.2 289.1,163.4 289.7,195.3 290.4,162.7 291.0,169.7 291.7,175.1 292.3,170.3 292.9,155.9 293.6,162.2 294.2,198.3 294.9,162.9 295.5,165.5 296.2,171.9 296.8,167.4 297.5,179.8 298.1,162.9 298.8,172.8 299.4,169.0 300.1,183.5 300.8,157.3 301.4,197.6 302.1,168.8 302.7,197.5 303.4,162.9 304.1,182.8 304.7,161.9 305.4,167.5 306.1,158.2 306.7,158.6 307.4,160.5"/>
<polyline stroke="#000080" points="306.7,158.6 307.4,160.5 308.1,154.7 308.8,152.4 309.4,149.6 310.1,146.8 310.8,142.3 311.5,138.4 312.1,135.9 312.8,135.9 313.5,134.1 314.2,134.0 314.9,132.5 315.6,132.1 316.3,131.6 317.0,131.3 317.6,131.4 318.3,130.7 319.0,130.3 319.7,130.2 320.4,130.0 321.1,129.1 321.8,129.7 322.5,128.9 323.2,129.4 323.9,129.5 324.6,128.7 325.4,128.0 326.1,129.9 326.8,130.0 327.5,130.4 328.2,132.0 328.9,132.4 329.6,133.8 330.4,135.3 331.1,135.5 331.8,138.5 332.5,141.7 333.2,149.6 334.0,159.9 334.7,164.9"/>
<polyline stroke="#000080" stroke-width="0.85" points="334.0,159.9 334.7,164.9 335.4,186.2 336.2,168.6 336.9,185.1 337.6,193.5 338.4,166.1 339.1,168.3 339.8,183.1 340.6,166.6 341.3,169.2 342.1,172.9 342.8,172.7 343.6,181.3 344.3,175.5 345.0,162.1"/>
<polyline stroke="#808000" stroke-width="0.85" points="48.0,162.7 48.2,156.7 48.5,157.3 48.8,165.1 49.0,156.7 49.3,158.6 49.5,169.9 49.8,176.4 50.0,157.3 50.3,167.4 50.5,180.8 50.8,161.2 51.0,158.8 51.3,160.5 51.5,163.6 51.8,160.6 52.0,167.4 52.3,166.0 52.5,159.1 52.8,158.6 53.1,167.1 53.3,155.7 53.6,160.1 53.8,158.5 54.1,164.0 54.3,166.1 54.6,159.3 54.9,154.7 55.1,161.2 55.4,175.6 55.6,159.1 55.9,165.0 56.2,161.3 56.4,155.9 56.7,165.1 56.9,163.4 57.2,158.4 57.5,160.1 57.7,167.3 58.0,178.7 58.2,153.1 58.5,164.3 58.8,160.4 59.0,159.1 59.3,156.7 59.6,163.5 59.8,158.9 60.1,160.0 60.4,157.7 60.6,157.0 60.9,156.7 61.2,159.0 61.4,159.7 61.7,155.4 62.0,156.8 62.2,152.7 62.5,162.8 62.8,151.6 63.0,169.9 63.3,165.6 63.6,159.9 63.8,154.2 64.1,162.7 64.4,151.4 64.6,167.3 64.9,171.0 65.2,152.7 65.5,189.1 65.7,156.8 66.0,155.2 66.3,160.2 66.6,152.5 66.8,151.3 67.1,160.1 67.4,160.1 67.6,152.0 67.9,157.8 68.2,161.5 68.5,150.5 68.7,152.7 69.0,149.3 69.3,152.3 69.6,154.9 69.9,150.7 70.1,149.9 70.4,152.4 70.7,148.4 71.0,150.9 71.2,153.6 71.5,155.1 71.8,147.2 72.1,152.1 72.4,155.5 72.6,150.6 72.9,154.9 73.2,149.2 73.5,153.1 73.8,150.6 74.1,150.5 74.3,151.2 74.6,147.8 74.9,154.6 75.2,149.9 75.5,147.2 75.8,153.4 76.1,155.0 76.3,149.4 76.6,150.3 76.9,178.8 77.2,157.7 77.5,155.7 77.8,150.5 78.1,149.0 78.3,153.8 78.6,154.0 78.9,152.2 79.2,152.2 79.5,150.0 79.8,153.1 80.1,146.4 80.4,144.8 80.7,146.8 81.0,156.8 81.3,147.7 81.5,144.2 81.8,146.6 82.1,144.1 82.4,144.2 82.7,149.3 83.0,142.6 83.3,145.6 83.6,146.6 83.9,145.4 84.2,145.5 84.5,146.8 84.8,144.7 85.1,141.3 85.4,144.6 85.7,143.0 86.0,143.0 86.3,145.2 86.6,142.4 86.9,144.6 87.2,144.1"/>
<polyline stroke="#808000" points="86.9,144.6 87.2,144.1 87.5,141.8 87.8,144.0 88.1,143.4 88.4,143.8 88.7,142.8 89.0,138.7 89.3,141.4 89.6,141.9 89.9,140.9 90.2,141.1 90.5,141.1 90.8,139.1 91.1,141.1 91.4,140.3 91.7,138.3 92.0,137.7 92.4,138.5 92.7,139.4 93.0,137.2 93.3,136.8 93.6,137.4 93.9,136.6 94.2,135.8 94.5,134.9 94.8,136.3 95.1,135.8 95.4,136.2 95.8,135.0 96.1,135.2 96.4,135.8 96.7,134.7 97.0,133.9 97.3,135.0 97.6,134.4 98.0,133.0 98.3,133.2 98.6,133.1 98.9,132.8 99.2,132.5 99.5,132.7 99.9,133.0 100.2,132.6 100.5,132.2 100.8,131.7 101.1,132.7 101.5,131.7 101.8,131.7 102.1,132.2 102.4,132.3 102.7,131.5 103.1,131.0 103.4,130.8 103.7,130.6 104.0,131.2 104.4,130.9 104.7,130.6 105.0,130.4 105.3,130.5 105.7,130.2 106.0,130.0 106.3,129.7 106.6,129.2 107.0,129.1 107.3,129.0 107.6,128.9 107.9,128.5 108.3,127.9 108.6,128.0 108.9,127.4 109.3,126.9 109.6,126.6 109.9,126.9 110.3,126.4 110.6,125.9 110.9,125.5 111.3,125.5 111.6,124.9 111.9,125.1 112.3,124.7 112.6,124.2 112.9,123.7 113.3,123.5 113.6,123.4 113.9,123.2 114.3,122.9 114.6,122.5 115.0,122.4 115.3,122.1 115.6,121.6 116.0,121.2 116.3,121.1 116.7,121.0 117.0,120.5 117.3,120.1 117.7,119.6 118.0,119.8 118.4,119.5 118.7,119.3 119.1,119.1 119.4,118.6 119.8,118.0 120.1,118.3 120.5,117.8 120.8,117.6 121.1,116.8 121.5,117.2 121.8,116.5 122.2,116.3 122.5,116.1 122.9,116.1 123.2,115.4 123.6,115.5 124.0,115.0 124.3,115.3 124.7,114.4 125.0,114.2 125.4,114.2 125.7,114.2 126.1,113.8 126.4,113.5 126.8,113.3 127.1,113.2 127.5,113.0 127.9,113.0 128.2,112.3 128.6,112.0 128.9,111.8 129.3,111.6 129.7,112.0 130.0,111.2 130.4,111.0 130.7,110.5 131.1,110.4 131.5,110.6 131.8,110.1 132.2,109.7 132.6,109.8 132.9,109.0 133.3,109.4 133.7,109.0 134.0,109.1 134.4,108.2 134.8,108.1 135.1,107.9 135.5,107.3 135.9,107.6 136.2,107.3 136.6,106.9 137.0,106.1 137.3,106.7 137.7,106.1 138.1,105.8 138.5,105.7 138.8,105.4 139.2,105.5 139.6,105.2 140.0,104.6 140.3,104.4 140.7,104.2 141.1,104.1 141.5,103.7 141.9,103.5 142.2,103.3 142.6,102.9 143.0,102.9 143.4,102.9 143.8,102.5 144.1,102.2 144.5,101.7 144.9,101.7 145.3,101.7 145.7,101.5 146.1,101.2 146.4,101.0 146.8,100.7 147.2,100.8 147.6,100.1 148.0,100.1 148.4,99.7 148.8,99.2 149.2,99.8 149.6,99.1 149.9,98.9 150.3,98.4 150.7,98.1 151.1,97.9 151.5,97.9 151.9,97.7 152.3,97.1 152.7,97.1 153.1,96.4 153.5,96.9 153.9,96.7 154.3,96.1 154.7,96.3 155.1,95.9 155.5,95.6 155.9,95.9 156.3,95.8 156.7,95.7 157.1,95.5 157.5,94.7 157.9,94.5 158.3,94.7 158.7,94.6 159.1,94.9 159.5,94.7 159.9,94.2 160.3,94.3 160.7,93.9 161.1,93.9 161.6,93.9 162.0,93.8 162.4,93.6 162.8,93.6 163.2,93.7 163.6,93.3 164.0,93.5 164.4,93.0 164.9,93.1 165.3,93.0 165.7,92.9 166.1,93.0 166.5,92.7 166.9,92.3 167.4,92.8 167.8,92.1 168.2,92.1 168.6,92.3 169.0,92.3 169.5,92.1 169.9,92.0 170.3,91.4 170.7,91.5 171.1,91.8 171.6,91.4 172.0,91.4 172.4,91.6 172.9,91.6 173.3,90.9 173.7,91.2 174.1,91.7 174.6,91.3 175.0,91.4 175.4,91.3 175.9,91.8 176.3,91.5 176.7,91.8 177.2,91.4 177.6,91.1 178.0,91.3 178.5,91.5 178.9,91.3 179.3,91.3 179.8,91.6 180.2,91.5 180.7,91.7 181.1,91.5 181.5,91.5 182.0,91.5 182.4,91.2 182.9,91.5 183.3,91.2 183.8,91.5 184.2,91.5 184.7,91.7 185.1,91.8 185.5,91.8 186.0,91.9 186.4,92.0 186.9,92.2 187.3,92.0 187.8,92.3 188.3,92.3 188.7,92.5 189.2,92.8 189.6,93.2 190.1,93.6 190.5,94.1 191.0,94.5 191.4,95.3 191.9,95.6 192.4,96.2 192.8,96.1 193.3,96.9 193.7,97.6 194.2,98.0 194.7,99.0 195.1,99.5 195.6,100.5 196.1,100.5 196.5,101.7 197.0,102.2 197.5,103.1 197.9,104.3 198.4,105.0 198.9,106.4 199.3,107.2 199.8,108.4 200.3,109.7 200.8,110.7 201.2,112.3 201.7,114.0 202.2,115.3 202.7,117.5 203.1,119.2 203.6,121.2 204.1,122.8 204.6,123.8 205.1,125.8 205.5,127.1 206.0,128.9 206.5,130.9 207.0,131.4 207.5,133.7 208.0,135.1 208.4,140.8 208.9,142.1 209.4,143.6 209.9,146.3"/>
<polyline stroke="#808000" stroke-width="0.85" points="209.4,143.6 209.9,146.3 210.4,150.4 210.9,152.3 211.4,151.6 211.9,153.8 212.4,157.1 212.9,156.6 213.4,161.8 213.8,163.0 214.3,172.3 214.8,166.1 215.3,162.1 215.8,163.8 216.3,171.1 216.8,166.8 217.3,173.6 217.8,160.4 218.3,160.2 218.9,199.8 219.4,164.1 219.9,160.5 220.4,165.6 220.9,169.1 221.4,178.0 221.9,164.2 222.4,200.1 222.9,164.4 223.4,176.8 223.9,173.0 224.5,168.8 225.0,169.2 225.5,169.2 226.0,161.9 226.5,198.2 227.0,175.4 227.6,165.5 228.1,172.3 228.6,172.1 229.1,164.4 229.7,173.2 230.2,170.2 230.7,162.7 231.2,173.0 231.8,181.4 232.3,200.0 232.8,166.1 233.3,174.4 233.9,177.1 234.4,180.5 234.9,163.1 235.5,164.0 236.0,161.4 236.6,168.7 237.1,160.9 237.6,160.9 238.2,192.7 238.7,158.1 239.2,157.6 239.8,173.4 240.3,165.6 240.9,161.6 241.4,195.4 242.0,160.8 242.5,200.1 243.1,181.3 243.6,168.6 244.2,173.6 244.7,168.1 245.3,168.5 245.8,170.9 246.4,166.5 246.9,163.7 247.5,166.8 248.0,168.5 248.6,167.6 249.2,165.3 249.7,167.7 250.3,167.8 250.8,182.0 251.4,177.1 252.0,182.8 252.5,160.7 253.1,159.8 253.7,163.5 254.2,173.1 254.8,171.3 255.4,164.9 255.9,169.9 256.5,161.7 257.1,186.8 257.7,162.1 258.2,166.5 258.8,168.2 259.4,165.9 260.0,185.2 260.6,176.1 261.1,200.3 261.7,160.2 262.3,186.8 262.9,160.8 263.5,178.6 264.1,163.0 264.6,160.5 265.2,187.8 265.8,168.1 266.4,160.0 267.0,180.4 267.6,161.4 268.2,200.1 268.8,158.7 269.4,161.8 270.0,199.7 270.6,179.3 271.2,162.9 271.8,200.1 272.4,158.8 273.0,159.5 273.6,200.2 274.2,163.2 274.8,168.3 275.4,165.7 276.0,169.9 276.6,177.7 277.3,164.9 277.9,165.7 278.5,161.7 279.1,172.3 279.7,170.8 280.3,180.7 280.9,157.5 281.6,163.3 282.2,164.6 282.8,170.9 283.4,165.6 284.1,187.0 284.7,162.9 285.3,186.3 285.9,165.5 286.6,177.3 287.2,171.4 287.8,163.7 288.5,170.1 289.1,181.8 289.7,164.7 290.4,158.2 291.0,173.3 291.7,168.1 292.3,162.8 292.9,169.2 293.6,200.0 294.2,164.7 294.9,168.9 295.5,172.7 296.2,180.9 296.8,173.6 297.5,162.1 298.1,170.9 298.8,164.5 299.4,200.1 300.1,172.3 300.8,181.4 301.4,199.9 302.1,176.5 302.7,164.7 303.4,158.7 304.1,160.0 304.7,166.2 305.4,165.6 306.1,163.3 306.7,169.0 307.4,168.3"/>
<polyline stroke="#808000" points="306.7,169.0 307.4,168.3 308.1,163.7 308.8,158.7 309.4,156.6 310.1,154.4 310.8,150.9 311.5,148.1 312.1,145.3 312.8,143.1 313.5,141.4 314.2,140.9 314.9,140.3 315.6,139.8 316.3,139.7 317.0,137.9 317.6,138.3 318.3,137.8 319.0,137.3 319.7,136.5 320.4,136.9 321.1,136.8 321.8,136.6 322.5,136.4 323.2,136.4 323.9,136.8 324.6,136.9 325.4,136.3 326.1,137.8 326.8,137.9 327.5,139.6 328.2,140.2 328.9,140.4 329.6,142.1 330.4,143.5 331.1,147.2 331.8,149.4 332.5,155.0 333.2,159.4 334.0,169.2"/>
<polyline stroke="#808000" stroke-width="0.85" points="333.2,159.4 334.0,169.2 334.7,168.2 335.4,169.4 336.2,171.0 336.9,202.7 337.6,174.0 338.4,167.6 339.1,188.1 339.8,166.4 340.6,179.2 341.3,174.0 342.1,205.5 342.8,177.1 343.6,178.3 344.3,170.4 345.0,174.4"/>
<polyline stroke="#ff00ff" stroke-width="0.85" points="48.0,176.4 48.2,179.6 48.5,176.5 48.8,179.5 49.0,179.0 49.3,168.8 49.5,174.7 49.8,175.2 50.0,182.2 50.3,176.5 50.5,186.7 50.8,172.4 51.0,173.0 51.3,181.0 51.5,177.9 51.8,176.4 52.0,178.2 52.3,180.8 52.5,176.6 52.8,172.4 53.1,176.0 53.3,174.4 53.6,172.3 53.8,170.2 54.1,169.3 54.3,180.7 54.6,172.2 54.9,181.0 55.1,174.4 55.4,176.2 55.6,171.6 55.9,181.6 56.2,171.2 56.4,173.6 56.7,165.2 56.9,175.1 57.2,177.7 57.5,177.7 57.7,175.1 58.0,169.4 58.2,172.6 58.5,171.4 58.8,197.8 59.0,174.3 59.3,179.8 59.6,173.5 59.8,174.1 60.1,169.3 60.4,167.0 60.6,170.0 60.9,178.9 61.2,165.9 61.4,176.5 61.7,165.9 62.0,171.6 62.2,176.7 62.5,177.8 62.8,169.6 63.0,177.9 63.3,180.5 63.6,173.2 63.8,170.5 64.1,170.9 64.4,176.9 64.6,177.6 64.9,176.9 65.2,175.5 65.5,169.5 65.7,174.7 66.0,164.9 66.3,166.9 66.6,167.2 66.8,170.0 67.1,164.9 67.4,171.4 67.6,170.3 67.9,175.2 68.2,185.4 68.5,190.6 68.7,160.4 69.0,162.5 69.3,164.0 69.6,164.5 69.9,160.1 70.1,161.8 70.4,170.7 70.7,159.9 71.0,168.5 71.2,160.9 71.5,161.9 71.8,159.5 72.1,163.9 72.4,165.8 72.6,169.0 72.9,164.0 73.2,165.5 73.5,159.0 73.8,159.1 74.1,162.6 74.3,162.9 74.6,162.0 74.9,156.4 75.2,162.2 75.5,161.2 75.8,164.7 76.1,163.5 76.3,160.6 76.6,155.3 76.9,159.3 77.2,157.7 77.5,160.0 77.8,161.5 78.1,163.3 78.3,159.5 78.6,160.5 78.9,157.5 79.2,160.3 79.5,157.2 79.8,157.4 80.1,156.4 80.4,156.9 80.7,158.4 81.0,159.3 81.3,156.3 81.5,157.3 81.8,159.5 82.1,161.6 82.4,158.7 82.7,157.4 83.0,157.7 83.3,157.8 83.6,158.5 83.9,158.0 84.2,156.5 84.5,155.2 84.8,154.1 85.1,154.2"/>
<polyline stroke="#ff00ff" points="84.8,154.1 85.1,154.2 85.4,156.1 85.7,154.7 86.0,157.0 86.3,157.4 86.6,154.3 86.9,154.5 87.2,154.8 87.5,154.2 87.8,154.4 88.1,153.3 88.4,151.6 88.7,152.4 89.0,153.0 89.3,152.7 89.6,151.0 89.9,153.1 90.2,153.5 90.5,152.8 90.8,151.4 91.1,150.9 91.4,150.9 91.7,150.6 92.0,150.5 92.4,150.1 92.7,149.3 93.0,149.9 93.3,148.9 93.6,149.3 93.9,148.1 94.2,148.0 94.5,148.7 94.8,147.7 95.1,147.9 95.4,147.2 95.8,147.0 96.1,146.2 96.4,146.9 96.7,145.9 97.0,146.2 97.3,145.7 97.6,145.0 98.0,145.6 98.3,144.8 98.6,144.4 98.9,144.4 99.2,144.5 99.5,143.9 99.9,143.7 100.2,143.0 100.5,143.0 100.8,142.7 101.1,142.3 101.5,142.6 101.8,141.8 102.1,141.5 102.4,141.3 102.7,141.2 103.1,140.5 103.4,140.4 103.7,139.9 104.0,139.1 104.4,139.3 104.7,139.4 105.0,139.0 105.3,138.7 105.7,138.6 106.0,137.7 106.3,137.6 106.6,137.1 107.0,137.3 107.3,137.3 107.6,136.8 107.9,136.6 108.3,136.2 108.6,136.0 108.9,135.6 109.3,135.3 109.6,135.3 109.9,135.0 110.3,134.7 110.6,134.3 110.9,134.3 111.3,133.9 111.6,133.8 111.9,133.7 112.3,133.1 112.6,132.7 112.9,132.9 113.3,132.7 113.6,132.1 113.9,132.2 114.3,131.8 114.6,131.9 115.0,131.4 115.3,131.4 115.6,130.9 116.0,130.8 116.3,130.7 116.7,130.5 117.0,130.5 117.3,130.0 117.7,129.7 118.0,129.9 118.4,129.2 118.7,129.1 119.1,129.0 119.4,128.9 119.8,128.3 120.1,128.0 120.5,127.9 120.8,127.8 121.1,127.6 121.5,127.3 121.8,127.0 122.2,126.9 122.5,127.3 122.9,126.5 123.2,126.0 123.6,125.9 124.0,125.8 124.3,125.2 124.7,125.5 125.0,125.5 125.4,125.0 125.7,124.4 126.1,124.6 126.4,124.8 126.8,124.2 127.1,123.9 127.5,124.0 127.9,123.5 128.2,123.3 128.6,123.0 128.9,122.6 129.3,122.2 129.7,122.4 130.0,122.3 130.4,122.1 130.7,121.6 131.1,121.3 131.5,121.4 131.8,121.3 132.2,120.8 132.6,120.7 132.9,120.3 133.3,120.5 133.7,120.0 134.0,119.8 134.4,119.5 134.8,119.1 135.1,119.0 135.5,118.6 135.9,118.9 136.2,118.8 136.6,117.7 137.0,117.8 137.3,117.6 137.7,117.6 138.1,117.5 138.5,117.0 138.8,116.6 139.2,116.5 139.6,116.5 140.0,116.0 140.3,116.2 140.7,115.6 141.1,115.4 141.5,115.5 141.9,115.5 142.2,114.8 142.6,114.9 143.0,114.5 143.4,114.1 143.8,113.9 144.1,113.9 144.5,113.1 144.9,113.2 145.3,113.1 145.7,112.8 146.1,112.2 146.4,112.4 146.8,111.9 147.2,111.5 147.6,111.9 148.0,111.7 148.4,111.7 148.8,111.5 149.2,110.7 149.6,110.6 149.9,110.2 150.3,110.4 150.7,110.3 151.1,109.9 151.5,109.9 151.9,109.4 152.3,109.8 152.7,109.5 153.1,109.3 153.5,109.3 153.9,109.2 154.3,108.2 154.7,108.6 155.1,108.4 155.5,108.2 155.9,108.5 156.3,108.0 156.7,108.2 157.1,107.9 157.5,107.9 157.9,107.9 158.3,107.6 158.7,107.4 159.1,107.4 159.5,107.2 159.9,107.2 160.3,106.9 160.7,107.1 161.1,106.6 161.6,106.7 162.0,106.7 162.4,106.4 162.8,106.4 163.2,106.5 163.6,106.6 164.0,106.3 164.4,106.2 164.9,106.2 165.3,106.4 165.7,105.8 166.1,105.8 166.5,106.0 166.9,105.4 167.4,105.5 167.8,105.7 168.2,105.4 168.6,105.2 169.0,105.4 169.5,105.4 169.9,105.5 170.3,105.3 170.7,105.4 171.1,104.8 171.6,105.1 172.0,105.0 172.4,105.0 172.9,104.8 173.3,105.0 173.7,105.0 174.1,104.9 174.6,104.7 175.0,105.5 175.4,104.9 175.9,105.0 176.3,104.8 176.7,104.6 177.2,105.1 177.6,104.8 178.0,104.9 178.5,104.8 178.9,104.7 179.3,105.1 179.8,104.9 180.2,104.8 180.7,104.6 181.1,104.9 181.5,105.2 182.0,105.2 182.4,105.1 182.9,105.3 183.3,105.5 183.8,105.5 184.2,105.4 184.7,105.9 185.1,105.7 185.5,106.2 186.0,106.0 186.4,106.5 186.9,106.5 187.3,106.6 187.8,107.0 188.3,107.1 188.7,107.6 189.2,108.0 189.6,108.4 190.1,108.8 190.5,109.5 191.0,110.0 191.4,110.8 191.9,111.3 192.4,111.7 192.8,112.2 193.3,113.0 193.7,113.7 194.2,114.4 194.7,114.9 195.1,116.0 195.6,117.0 196.1,117.6 196.5,118.6 197.0,119.9 197.5,120.7 197.9,121.5 198.4,123.3 198.9,124.4 199.3,125.6 199.8,127.3 200.3,128.9 200.8,130.3 201.2,132.0 201.7,134.1 202.2,135.4 202.7,136.9 203.1,138.1 203.6,140.2 204.1,140.5 204.6,143.0 205.1,142.7 205.5,144.8 206.0,147.0 206.5,148.4 207.0,152.6"/>
<polyline stroke="#ff00ff" stroke-width="0.85" points="206.5,148.4 207.0,152.6 207.5,152.0 208.0,158.7 208.4,156.1 208.9,156.3 209.4,171.6 209.9,161.5 210.4,164.8 210.9,167.9 211.4,169.1 211.9,169.0 212.4,169.4 212.9,159.8 213.4,166.8 213.8,167.4 214.3,179.3 214.8,183.2 215.3,196.8 215.8,172.3 216.3,194.8 216.8,165.2 217.3,170.5 217.8,173.1 218.3,181.4 218.9,168.9 219.4,169.3 219.9,179.3 220.4,179.3 220.9,167.8 221.4,198.8 221.9,169.2 222.4,199.2 222.9,171.7 223.4,175.1 223.9,169.6 224.5,170.2 225.0,199.1 225.5,175.2 226.0,167.1 226.5,199.1 227.0,165.2 227.6,188.5 228.1,199.1 228.6,186.4 229.1,199.0 229.7,165.6 230.2,199.1 230.7,174.6 231.2,163.5 231.8,170.4 232.3,172.3 232.8,190.6 233.3,198.8 233.9,171.2 234.4,199.0 234.9,192.5 235.5,172.2 236.0,175.6 236.6,166.7 237.1,174.7 237.6,198.9 238.2,170.4 238.7,166.3 239.2,198.9 239.8,199.1 240.3,167.7 240.9,168.2 241.4,172.3 242.0,199.2 242.5,199.0 243.1,182.4 243.6,199.0 244.2,176.7 244.7,165.3 245.3,168.3 245.8,168.9 246.4,172.5 246.9,182.8 247.5,199.0 248.0,178.8 248.6,169.0 249.2,167.3 249.7,172.1 250.3,165.8 250.8,183.7 251.4,193.5 252.0,168.4 252.5,187.4 253.1,179.2 253.7,198.9 254.2,170.2 254.8,173.1 255.4,174.2 255.9,198.9 256.5,182.3 257.1,166.4 257.7,163.9 258.2,176.5 258.8,177.5 259.4,176.8 260.0,167.2 260.6,176.6 261.1,176.8 261.7,173.1 262.3,179.1 262.9,199.0 263.5,199.0 264.1,171.8 264.6,196.3 265.2,164.6 265.8,163.2 266.4,175.3 267.0,180.5 267.6,172.1 268.2,173.9 268.8,190.0 269.4,182.8 270.0,173.6 270.6,163.7 271.2,166.9 271.8,171.9 272.4,171.5 273.0,177.0 273.6,175.0 274.2,187.2 274.8,198.7 275.4,199.0 276.0,167.1 276.6,183.3 277.3,162.1 277.9,172.7 278.5,168.3 279.1,180.3 279.7,192.0 280.3,183.4 280.9,177.7 281.6,177.6 282.2,168.4 282.8,199.0 283.4,176.1 284.1,171.0 284.7,165.9 285.3,166.0 285.9,175.6 286.6,199.2 287.2,171.8 287.8,180.6 288.5,168.0 289.1,179.0 289.7,163.7 290.4,167.7 291.0,171.5 291.7,199.1 292.3,180.2 292.9,180.2 293.6,171.9 294.2,166.3 294.9,173.7 295.5,198.8 296.2,174.1 296.8,172.6 297.5,169.0 298.1,167.6 298.8,173.3 299.4,165.6 300.1,188.4 300.8,178.8 301.4,174.9 302.1,170.0 302.7,171.7 303.4,169.3 304.1,180.0 304.7,172.3 305.4,171.8 306.1,170.3 306.7,173.6"/>
<polyline stroke="#ff00ff" points="306.1,170.3 306.7,173.6 307.4,168.6 308.1,168.4 308.8,162.9 309.4,160.8 310.1,159.1 310.8,155.0 311.5,152.5 312.1,150.9 312.8,151.4 313.5,150.1 314.2,149.7 314.9,149.1 315.6,149.8 316.3,148.6 317.0,149.4 317.6,148.7 318.3,148.8 319.0,148.7 319.7,148.4 320.4,148.4 321.1,149.2 321.8,148.0 322.5,147.3 323.2,148.6 323.9,148.8 324.6,148.3 325.4,147.8 326.1,148.5 326.8,148.7 327.5,149.0 328.2,149.8 328.9,150.5 329.6,150.7 330.4,151.2 331.1,152.6 331.8,157.0 332.5,162.7 333.2,164.5"/>
<polyline stroke="#ff00ff" stroke-width="0.85" points="332.5,162.7 333.2,164.5 334.0,172.8 334.7,171.1 335.4,173.2 336.2,178.6 336.9,181.7 337.6,176.5 338.4,185.9 339.1,181.4 339.8,190.1 340.6,174.4 341.3,180.9 342.1,174.1 342.8,177.4 343.6,178.0 344.3,172.7 345.0,183.5"/>
<polyline stroke="#00ffff" stroke-width="0.85" points="48.0,197.4 48.2,200.1 48.5,194.3 48.8,192.7 49.0,195.9 49.3,193.8 49.5,192.9 49.8,193.9 50.0,191.9 50.3,190.6 50.5,195.4 50.8,213.8 51.0,196.5 51.3,192.1 51.5,192.9 51.8,190.0 52.0,194.6 52.3,191.8 52.5,188.9 52.8,195.8 53.1,187.2 53.3,196.2 53.6,188.5 53.8,205.9 54.1,199.0 54.3,189.3 54.6,191.1 54.9,191.2 55.1,187.7 55.4,190.9 55.6,193.0 55.9,199.2 56.2,185.5 56.4,192.6 56.7,193.9 56.9,196.3 57.2,189.0 57.5,186.0 57.7,188.8 58.0,188.4 58.2,193.7 58.5,189.1 58.8,185.7 59.0,185.6 59.3,196.9 59.6,190.1 59.8,183.0 60.1,190.8 60.4,190.0 60.6,187.7 60.9,184.1 61.2,186.6 61.4,183.9 61.7,187.4 62.0,182.7 62.2,185.1 62.5,182.9 62.8,181.8 63.0,183.3 63.3,186.2 63.6,186.9 63.8,182.8 64.1,182.2 64.4,183.9 64.6,192.1 64.9,182.1 65.2,188.1 65.5,182.7 65.7,181.9 66.0,202.7 66.3,180.4 66.6,184.2 66.8,178.2 67.1,182.2 67.4,181.0 67.6,182.5 67.9,177.1 68.2,179.1 68.5,179.4 68.7,181.1 69.0,182.1 69.3,178.7 69.6,184.5 69.9,178.8 70.1,177.7 70.4,177.7 70.7,175.8 71.0,185.8 71.2,184.0 71.5,183.7 71.8,184.8 72.1,180.7 72.4,179.4 72.6,177.3 72.9,179.2 73.2,179.5 73.5,179.0 73.8,176.6 74.1,176.8 74.3,181.0 74.6,177.6 74.9,176.0 75.2,177.1 75.5,175.1 75.8,178.2 76.1,175.6 76.3,172.9"/>
<polyline stroke="#00ffff" points="76.1,175.6 76.3,172.9 76.6,175.8 76.9,178.9 77.2,176.1 77.5,179.7 77.8,177.6 78.1,178.1 78.3,175.0 78.6,174.2 78.9,172.5 79.2,172.4 79.5,174.3 79.8,172.9 80.1,172.7 80.4,173.4 80.7,173.3 81.0,173.0 81.3,173.2 81.5,173.6 81.8,171.7 82.1,171.0 82.4,170.0 82.7,170.4 83.0,171.4 83.3,170.5 83.6,170.8 83.9,169.6 84.2,169.1 84.5,168.0 84.8,168.2 85.1,168.3 85.4,167.4 85.7,167.4 86.0,167.3 86.3,166.1 86.6,167.0 86.9,166.4 87.2,165.9 87.5,164.8 87.8,164.1 88.1,164.1 88.4,164.9 88.7,164.4 89.0,163.8 89.3,163.0 89.6,163.8 89.9,162.9 90.2,163.1 90.5,163.1 90.8,162.3 91.1,162.1 91.4,162.2 91.7,160.9 92.0,161.4 92.4,160.9 92.7,160.9 93.0,160.3 93.3,159.8 93.6,160.5 93.9,160.0 94.2,160.0 94.5,159.8 94.8,159.3 95.1,159.1 95.4,159.3 95.8,159.1 96.1,159.0 96.4,158.5 96.7,158.3 97.0,158.3 97.3,158.4 97.6,157.3 98.0,157.4 98.3,157.1 98.6,157.0 98.9,157.2 99.2,156.7 99.5,156.2 99.9,156.0 100.2,155.6 100.5,155.5 100.8,155.7 101.1,155.1 101.5,154.5 101.8,154.4 102.1,154.6 102.4,154.0 102.7,153.9 103.1,153.5 103.4,153.1 103.7,153.3 104.0,152.6 104.4,152.0 104.7,152.1 105.0,152.3 105.3,151.8 105.7,151.8 106.0,151.3 106.3,150.9 106.6,150.8 107.0,150.8 107.3,150.3 107.6,150.0 107.9,150.1 108.3,149.7 108.6,149.0 108.9,148.9 109.3,148.6 109.6,148.3 109.9,148.4 110.3,147.9 110.6,147.8 110.9,147.7 111.3,147.4 111.6,147.1 111.9,146.7 112.3,146.2 112.6,146.1 112.9,145.8 113.3,145.8 113.6,145.5 113.9,145.1 114.3,144.9 114.6,144.6 115.0,144.2 115.3,144.1 115.6,143.9 116.0,143.5 116.3,143.5 116.7,143.1 117.0,143.0 117.3,142.5 117.7,142.5 118.0,142.3 118.4,141.8 118.7,142.0 119.1,141.5 119.4,141.4 119.8,140.8 120.1,140.6 120.5,140.5 120.8,140.1 121.1,140.3 121.5,140.0 121.8,139.8 122.2,139.7 122.5,139.1 122.9,138.8 123.2,138.8 123.6,138.7 124.0,138.6 124.3,138.3 124.7,138.3 125.0,137.6 125.4,137.5 125.7,137.5 126.1,137.3 126.4,136.7 126.8,136.8 127.1,136.5 127.5,136.5 127.9,136.2 128.2,136.3 128.6,135.9 128.9,135.7 129.3,135.6 129.7,135.7 130.0,135.2 130.4,135.1 130.7,134.5 131.1,134.5 131.5,134.2 131.8,134.4 132.2,133.7 132.6,133.7 132.9,133.4 133.3,133.6 133.7,132.7 134.0,133.0 134.4,132.3 134.8,132.3 135.1,132.8 135.5,132.1 135.9,132.1 136.2,132.1 136.6,131.4 137.0,132.1 137.3,131.0 137.7,131.2 138.1,130.6 138.5,130.4 138.8,130.6 139.2,130.5 139.6,130.5 140.0,130.0 140.3,129.7 140.7,129.5 141.1,129.5 141.5,129.1 141.9,129.1 142.2,128.8 142.6,128.5 143.0,128.4 143.4,128.4 143.8,128.2 144.1,128.0 144.5,127.6 144.9,127.7 145.3,127.7 145.7,127.0 146.1,127.1 146.4,127.0 146.8,126.9 147.2,126.5 147.6,126.3 148.0,126.5 148.4,126.0 148.8,126.1 149.2,125.6 149.6,125.7 149.9,125.3 150.3,125.4 150.7,125.4 151.1,125.2 151.5,125.0 151.9,124.6 152.3,125.0 152.7,124.2 153.1,124.5 153.5,124.4 153.9,123.7 154.3,124.0 154.7,123.9 155.1,123.4 155.5,123.8 155.9,123.2 156.3,123.0 156.7,122.6 157.1,122.5 157.5,122.6 157.9,122.5 158.3,122.2 158.7,122.0 159.1,122.0 159.5,122.0 159.9,121.5 160.3,121.4 160.7,121.2 161.1,121.3 161.6,121.1 162.0,121.1 162.4,121.6 162.8,120.7 163.2,121.0 163.6,120.9 164.0,120.8 164.4,120.8 164.9,120.6 165.3,120.8 165.7,121.2 166.1,121.0 166.5,120.6 166.9,120.3 167.4,120.8 167.8,120.4 168.2,120.8 168.6,120.4 169.0,120.8 169.5,121.0 169.9,120.4 170.3,120.7 170.7,120.3 171.1,120.3 171.6,120.6 172.0,120.7 172.4,120.5 172.9,120.2 173.3,120.3 173.7,120.4 174.1,120.8 174.6,120.8 175.0,120.4 175.4,120.6 175.9,120.5 176.3,120.5 176.7,120.6 177.2,120.8 177.6,120.3 178.0,120.6 178.5,120.7 178.9,120.6 179.3,120.2 179.8,120.7 180.2,120.3 180.7,120.6 181.1,120.6 181.5,120.9 182.0,120.7 182.4,120.9 182.9,121.0 183.3,120.9 183.8,121.3 184.2,121.0 184.7,121.1 185.1,121.2 185.5,121.8 186.0,121.8 186.4,122.1 186.9,122.2 187.3,122.3 187.8,122.7 188.3,122.8 188.7,123.3 189.2,124.0 189.6,124.4 190.1,124.8 190.5,125.6 191.0,126.3 191.4,126.9 191.9,127.8 192.4,128.1 192.8,128.7 193.3,129.7 193.7,131.0 194.2,131.8 194.7,133.5 195.1,134.1 195.6,135.4 196.1,137.0 196.5,137.9 197.0,139.7 197.5,140.7 197.9,142.3 198.4,143.2 198.9,145.4 199.3,146.5 199.8,147.9 200.3,149.1 200.8,150.8 201.2,152.7 201.7,154.1 202.2,155.9 202.7,157.2 203.1,158.7 203.6,161.0 204.1,162.8 204.6,164.8 205.1,168.0 205.5,168.0 206.0,170.0 206.5,172.5 207.0,175.2"/>
<polyline stroke="#00ffff" stroke-width="0.85" points="206.5,172.5 207.0,175.2 207.5,179.0 208.0,182.2 208.4,179.3 208.9,181.6 209.4,179.7 209.9,176.7 210.4,178.9 210.9,179.5 211.4,175.4 211.9,179.6 212.4,186.7 212.9,202.1 213.4,190.4 213.8,203.4 214.3,204.2 214.8,190.7 215.3,205.6 215.8,201.9 216.3,187.3 216.8,184.1 217.3,181.0 217.8,190.1 218.3,191.2 218.9,198.4 219.4,184.8 219.9,188.7 220.4,186.2 220.9,209.2 221.4,187.7 221.9,189.1 222.4,182.3 222.9,194.3 223.4,182.9 223.9,201.9 224.5,194.1 225.0,189.4 225.5,192.4 226.0,192.1 226.5,183.1 227.0,180.8 227.6,188.3 228.1,193.9 228.6,189.5 229.1,207.9 229.7,185.9 230.2,184.8 230.7,188.1 231.2,199.6 231.8,205.8 232.3,186.0 232.8,182.9 233.3,183.3 233.9,187.2 234.4,210.3 234.9,209.9 235.5,210.1 236.0,183.6 236.6,180.6 237.1,189.8 237.6,182.3 238.2,193.0 238.7,190.3 239.2,210.2 239.8,185.0 240.3,191.1 240.9,189.7 241.4,189.2 242.0,184.6 242.5,210.2 243.1,195.3 243.6,209.9 244.2,194.0 244.7,196.0 245.3,188.3 245.8,195.6 246.4,209.8 246.9,185.1 247.5,189.0 248.0,189.7 248.6,191.0 249.2,181.9 249.7,186.2 250.3,186.8 250.8,186.9 251.4,202.9 252.0,189.0 252.5,193.2 253.1,191.3 253.7,191.7 254.2,187.8 254.8,189.4 255.4,191.4 255.9,195.4 256.5,192.5 257.1,192.0 257.7,204.9 258.2,191.5 258.8,191.1 259.4,181.2 260.0,187.0 260.6,191.2 261.1,187.4 261.7,187.4 262.3,191.7 262.9,189.5 263.5,185.4 264.1,210.1 264.6,189.6 265.2,194.0 265.8,200.1 266.4,182.0 267.0,209.9 267.6,182.6 268.2,188.5 268.8,198.7 269.4,198.8 270.0,188.3 270.6,192.1 271.2,186.3 271.8,209.7 272.4,188.0 273.0,185.8 273.6,184.3 274.2,183.7 274.8,210.0 275.4,181.7 276.0,180.9 276.6,204.7 277.3,187.6 277.9,186.7 278.5,188.5 279.1,198.3 279.7,187.9 280.3,185.1 280.9,193.2 281.6,183.6 282.2,180.3 282.8,188.7 283.4,182.6 284.1,195.6 284.7,192.5 285.3,189.5 285.9,208.7 286.6,190.5 287.2,191.5 287.8,199.5 288.5,209.9 289.1,192.0 289.7,210.0 290.4,185.6 291.0,189.8 291.7,184.0 292.3,201.7 292.9,185.9 293.6,207.6 294.2,205.3 294.9,189.7 295.5,188.5 296.2,189.0 296.8,183.1 297.5,186.3 298.1,183.8 298.8,193.4 299.4,192.8 300.1,191.2 300.8,185.3 301.4,182.1 302.1,197.7 302.7,200.7 303.4,184.5 304.1,184.1 304.7,184.9 305.4,185.8 306.1,187.8 306.7,188.6"/>
<polyline stroke="#00ffff" points="306.1,187.8 306.7,188.6 307.4,186.8 308.1,185.1 308.8,182.6 309.4,179.7 310.1,177.7 310.8,175.0 311.5,173.4 312.1,171.5 312.8,170.8 313.5,170.4 314.2,168.2 314.9,168.0 315.6,168.0 316.3,167.0 317.0,166.2 317.6,165.9 318.3,166.5 319.0,166.9 319.7,165.5 320.4,165.9 321.1,165.6 321.8,164.8 322.5,165.1 323.2,164.6 323.9,164.0 324.6,165.9 325.4,165.0 326.1,165.2 326.8,165.3 327.5,165.8 328.2,166.4 328.9,166.4 329.6,166.1 330.4,167.2 331.1,169.0 331.8,171.9 332.5,175.7 333.2,178.3 334.0,183.2 334.7,188.5"/>
<polyline stroke="#00ffff" stroke-width="0.85" points="334.0,183.2 334.7,188.5 335.4,205.5 336.2,192.8 336.9,198.9 337.6,191.5 338.4,189.5 339.1,189.5 339.8,191.3 340.6,208.5 341.3,200.2 342.1,211.2 342.8,212.9 343.6,201.4 344.3,198.8 345.0,191.5"/>
<polyline stroke="#0000ff" stroke-width="0.85" points="48.0,201.3 48.2,192.9 48.5,196.8 48.8,195.9 49.0,191.6 49.3,201.3 49.5,196.5 49.8,201.2 50.0,198.8 50.3,202.6 50.5,195.8 50.8,203.8 51.0,197.0 51.3,199.2 51.5,199.5 51.8,196.6 52.0,198.9 52.3,200.2 52.5,196.7 52.8,195.8 53.1,200.3 53.3,194.9 53.6,189.8 53.8,201.9 54.1,199.3 54.3,195.4 54.6,189.4 54.9,195.2 55.1,195.3 55.4,198.9 55.6,190.7 55.9,200.6 56.2,196.6 56.4,191.3 56.7,191.8 56.9,190.7 57.2,191.4 57.5,200.7 57.7,193.1 58.0,195.6 58.2,195.5 58.5,196.9 58.8,188.5 59.0,193.6 59.3,190.5 59.6,192.1 59.8,199.3 60.1,186.8 60.4,190.7 60.6,192.9 60.9,190.3 61.2,202.6 61.4,197.9 61.7,190.8 62.0,193.4 62.2,187.9 62.5,188.0 62.8,192.3 63.0,192.9 63.3,208.2 63.6,188.9 63.8,185.9 64.1,190.8 64.4,190.4 64.6,193.5 64.9,189.3 65.2,188.5 65.5,198.4 65.7,185.8 66.0,195.0 66.3,186.3 66.6,191.9 66.8,188.6 67.1,183.4 67.4,188.4 67.6,187.0 67.9,193.8 68.2,184.6 68.5,205.7 68.7,187.1 69.0,187.9 69.3,189.8 69.6,185.9 69.9,197.1 70.1,184.9 70.4,180.8 70.7,184.2 71.0,190.4 71.2,190.1 71.5,187.8 71.8,183.9 72.1,188.5 72.4,185.5 72.6,181.7 72.9,183.9 73.2,181.0 73.5,189.9 73.8,183.5 74.1,180.5 74.3,186.1 74.6,182.7 74.9,182.7 75.2,187.7 75.5,185.5 75.8,179.6 76.1,183.2 76.3,181.4 76.6,181.7 76.9,184.7 77.2,178.9 77.5,181.9 77.8,179.4 78.1,181.2 78.3,181.7 78.6,180.4 78.9,182.2 79.2,181.8 79.5,180.6 79.8,180.3 80.1,179.1 80.4,179.6 80.7,183.0 81.0,176.5 81.3,180.0 81.5,180.6 81.8,181.3"/>
<polyline stroke="#0000ff" points="81.5,180.6 81.8,181.3 82.1,181.8 82.4,176.4 82.7,179.1 83.0,178.7 83.3,179.4 83.6,177.3 83.9,178.2 84.2,176.0 84.5,177.0 84.8,177.4 85.1,176.4 85.4,174.8 85.7,176.6 86.0,176.2 86.3,176.0 86.6,175.0 86.9,175.6 87.2,174.7 87.5,174.7 87.8,173.5 88.1,175.2 88.4,174.0 88.7,174.2 89.0,173.9 89.3,173.1 89.6,174.2 89.9,173.7 90.2,171.3 90.5,173.5 90.8,172.2 91.1,171.1 91.4,172.4 91.7,171.6 92.0,172.0 92.4,171.0 92.7,170.9 93.0,170.9 93.3,169.9 93.6,169.2 93.9,169.8 94.2,170.2 94.5,169.8 94.8,169.3 95.1,168.4 95.4,168.7 95.8,169.1 96.1,167.7 96.4,168.0 96.7,167.8 97.0,167.2 97.3,167.2 97.6,167.0 98.0,166.3 98.3,165.8 98.6,165.9 98.9,165.5 99.2,165.8 99.5,165.7 99.9,164.7 100.2,165.2 100.5,164.3 100.8,164.4 101.1,164.1 101.5,163.8 101.8,163.3 102.1,163.3 102.4,162.8 102.7,162.6 103.1,162.7 103.4,162.0 103.7,161.8 104.0,161.5 104.4,160.8 104.7,161.0 105.0,160.8 105.3,160.6 105.7,160.2 106.0,160.3 106.3,159.6 106.6,159.8 107.0,158.9 107.3,159.3 107.6,158.7 107.9,158.6 108.3,158.4 108.6,158.2 108.9,158.1 109.3,157.8 109.6,157.5 109.9,157.1 110.3,157.0 110.6,157.0 110.9,156.6 111.3,156.0 111.6,156.0 111.9,155.9 112.3,155.5 112.6,155.4 112.9,155.7 113.3,155.1 113.6,154.7 113.9,154.8 114.3,154.5 114.6,154.2 115.0,154.4 115.3,153.9 115.6,153.5 116.0,153.7 116.3,153.3 116.7,153.5 117.0,153.4 117.3,152.8 117.7,152.4 118.0,152.5 118.4,152.6 118.7,152.0 119.1,151.7 119.4,151.5 119.8,151.5 120.1,151.1 120.5,151.2 120.8,151.3 121.1,150.8 121.5,150.4 121.8,150.6 122.2,149.7 122.5,149.8 122.9,149.5 123.2,150.0 123.6,149.0 124.0,148.8 124.3,149.1 124.7,148.5 125.0,148.2 125.4,148.6 125.7,148.4 126.1,148.0 126.4,147.7 126.8,147.4 127.1,147.4 127.5,147.3 127.9,147.2 128.2,147.2 128.6,146.8 128.9,146.4 129.3,146.6 129.7,146.5 130.0,145.6 130.4,145.8 130.7,145.6 131.1,145.8 131.5,145.4 131.8,145.4 132.2,145.1 132.6,144.8 132.9,144.8 133.3,144.6 133.7,144.5 134.0,144.3 134.4,144.1 134.8,144.1 135.1,143.8 135.5,143.5 135.9,143.5 136.2,143.5 136.6,143.2 137.0,143.1 137.3,142.8 137.7,142.5 138.1,142.6 138.5,142.0 138.8,142.2 139.2,142.3 139.6,141.4 140.0,141.9 140.3,141.3 140.7,141.3 141.1,141.0 141.5,140.9 141.9,140.6 142.2,140.3 142.6,140.2 143.0,139.8 143.4,140.2 143.8,140.0 144.1,139.1 144.5,139.2 144.9,139.4 145.3,139.3 145.7,138.6 146.1,138.5 146.4,138.6 146.8,138.4 147.2,138.4 147.6,138.1 148.0,137.9 148.4,137.7 148.8,137.1 149.2,137.4 149.6,137.4 149.9,137.2 150.3,137.0 150.7,136.5 151.1,136.4 151.5,136.3 151.9,136.0 152.3,136.4 152.7,136.3 153.1,135.7 153.5,136.0 153.9,135.8 154.3,135.6 154.7,135.6 155.1,135.1 155.5,135.4 155.9,134.8 156.3,134.8 156.7,134.6 157.1,134.7 157.5,134.2 157.9,134.0 158.3,134.2 158.7,133.9 159.1,133.7 159.5,133.8 159.9,133.5 160.3,133.5 160.7,133.5 161.1,133.6 161.6,133.3 162.0,133.1 162.4,132.9 162.8,133.1 163.2,133.1 163.6,133.1 164.0,133.1 164.4,132.5 164.9,133.1 165.3,132.7 165.7,132.9 166.1,132.7 166.5,132.7 166.9,132.6 167.4,132.5 167.8,132.4 168.2,132.3 168.6,132.3 169.0,132.5 169.5,132.0 169.9,131.9 170.3,132.3 170.7,132.1 171.1,131.8 171.6,132.1 172.0,132.3 172.4,131.8 172.9,131.8 173.3,132.2 173.7,132.2 174.1,132.4 174.6,131.9 175.0,132.1 175.4,131.9 175.9,132.5 176.3,132.3 176.7,132.8 177.2,132.9 177.6,133.1 178.0,132.9 178.5,132.8 178.9,132.7 179.3,133.1 179.8,133.7 180.2,133.5 180.7,133.7 181.1,133.8 181.5,133.6 182.0,133.8 182.4,134.1 182.9,134.1 183.3,134.4 183.8,134.2 184.2,134.6 184.7,135.3 185.1,134.8 185.5,135.1 186.0,135.2 186.4,135.5 186.9,135.7 187.3,136.0 187.8,136.3 188.3,137.0 188.7,137.0 189.2,137.5 189.6,137.9 190.1,138.8 190.5,139.9 191.0,139.9 191.4,141.0 191.9,141.5 192.4,142.4 192.8,142.7 193.3,143.6 193.7,144.7 194.2,145.5 194.7,146.5 195.1,147.6 195.6,148.5 196.1,149.5 196.5,151.0 197.0,152.1 197.5,153.6 197.9,155.0 198.4,156.3 198.9,157.9 199.3,159.1 199.8,161.2 200.3,162.7 200.8,164.0 201.2,165.6 201.7,167.3 202.2,168.8 202.7,170.8 203.1,172.6 203.6,173.7 204.1,174.2 204.6,175.9 205.1,177.0 205.5,179.8 206.0,182.3 206.5,181.8 207.0,183.4 207.5,186.3"/>
<polyline stroke="#0000ff" stroke-width="0.85" points="207.0,183.4 207.5,186.3 208.0,195.9 208.4,193.7 208.9,191.2 209.4,184.3 209.9,197.3 210.4,188.8 210.9,190.3 211.4,200.3 211.9,187.2 212.4,192.2 212.9,185.9 213.4,192.8 213.8,192.9 214.3,190.1 214.8,193.1 215.3,201.9 215.8,187.0 216.3,197.8 216.8,203.0 217.3,206.2 217.8,203.7 218.3,209.1 218.9,197.6 219.4,207.6 219.9,188.7 220.4,191.2 220.9,215.4 221.4,202.5 221.9,204.7 222.4,188.5 222.9,188.0 223.4,207.1 223.9,197.8 224.5,193.9 225.0,197.8 225.5,206.3 226.0,196.1 226.5,186.1 227.0,214.9 227.6,200.1 228.1,215.1 228.6,187.1 229.1,192.2 229.7,197.2 230.2,193.4 230.7,215.1 231.2,191.8 231.8,209.8 232.3,190.1 232.8,201.5 233.3,207.2 233.9,195.2 234.4,193.4 234.9,191.7 235.5,201.6 236.0,187.2 236.6,214.0 237.1,195.2 237.6,191.4 238.2,193.5 238.7,192.2 239.2,188.7 239.8,195.7 240.3,209.5 240.9,199.7 241.4,196.5 242.0,196.2 242.5,193.4 243.1,191.1 243.6,203.9 244.2,195.3 244.7,213.8 245.3,204.0 245.8,211.7 246.4,194.5 246.9,197.0 247.5,199.1 248.0,195.7 248.6,202.9 249.2,215.1 249.7,201.5 250.3,188.1 250.8,204.7 251.4,194.9 252.0,195.2 252.5,215.0 253.1,215.0 253.7,191.4 254.2,194.4 254.8,206.8 255.4,187.7 255.9,190.1 256.5,184.0 257.1,187.1 257.7,192.9 258.2,215.0 258.8,199.4 259.4,199.9 260.0,191.0 260.6,198.7 261.1,202.6 261.7,188.5 262.3,195.1 262.9,195.5 263.5,194.7 264.1,197.6 264.6,191.2 265.2,194.6 265.8,189.2 266.4,198.0 267.0,192.5 267.6,202.3 268.2,209.0 268.8,189.1 269.4,191.4 270.0,192.4 270.6,190.2 271.2,198.6 271.8,192.2 272.4,214.9 273.0,199.1 273.6,190.8 274.2,192.4 274.8,192.3 275.4,197.5 276.0,196.0 276.6,189.7 277.3,214.9 277.9,189.1 278.5,192.9 279.1,202.9 279.7,191.5 280.3,188.8 280.9,215.0 281.6,209.2 282.2,213.2 282.8,198.5 283.4,195.4 284.1,201.4 284.7,200.8 285.3,187.3 285.9,193.5 286.6,204.2 287.2,204.7 287.8,205.8 288.5,190.0 289.1,190.3 289.7,200.3 290.4,199.3 291.0,186.4 291.7,194.2 292.3,191.4 292.9,214.8 293.6,196.0 294.2,191.2 294.9,197.9 295.5,199.8 296.2,214.9 296.8,190.5 297.5,193.4 298.1,204.9 298.8,199.7 299.4,201.7 300.1,187.1 300.8,201.9 301.4,197.1 302.1,192.2 302.7,194.5 303.4,190.2 304.1,199.0 304.7,196.0 305.4,197.5 306.1,194.0"/>
<polyline stroke="#0000ff" points="305.4,197.5 306.1,194.0 306.7,193.9 307.4,193.0 308.1,189.5 308.8,188.3 309.4,187.7 310.1,185.1 310.8,184.4 311.5,184.9 312.1,182.4 312.8,180.8 313.5,180.6 314.2,179.6 314.9,180.6 315.6,178.9 316.3,178.3 317.0,177.6 317.6,178.3 318.3,178.4 319.0,178.6 319.7,177.8 320.4,177.1 321.1,178.0 321.8,178.2 322.5,178.4 323.2,178.7 323.9,178.2 324.6,177.4 325.4,178.8 326.1,178.0 326.8,176.8 327.5,177.3 328.2,178.2 328.9,179.5 329.6,178.7 330.4,180.1 331.1,181.6 331.8,182.5 332.5,185.6 333.2,189.8 334.0,191.9"/>
<polyline stroke="#0000ff" stroke-width="0.85" points="333.2,189.8 334.0,191.9 334.7,193.1 335.4,196.4 336.2,194.9 336.9,204.3 337.6,201.0 338.4,192.5 339.1,204.0 339.8,202.2 340.6,201.5 341.3,205.4 342.1,201.9 342.8,218.1 343.6,204.7 344.3,194.2 345.0,218.0"/>
<polyline stroke="#00ff00" stroke-width="0.85" points="48.0,207.9 48.2,202.8 48.5,219.9 48.8,199.2 49.0,202.6 49.3,204.4 49.5,219.5 49.8,203.4 50.0,199.6 50.3,209.8 50.5,201.6 50.8,198.8 51.0,219.0 51.3,204.5 51.5,206.3 51.8,199.9 52.0,198.2 52.3,218.7 52.5,204.3 52.8,216.0 53.1,215.4 53.3,197.9 53.6,217.9 53.8,200.2 54.1,204.4 54.3,205.4 54.6,199.8 54.9,211.2 55.1,196.7 55.4,217.2 55.6,205.5 55.9,199.3 56.2,196.3 56.4,202.3 56.7,198.4 56.9,198.1 57.2,212.9 57.5,208.8 57.7,202.4 58.0,212.0 58.2,208.2 58.5,207.3 58.8,196.6 59.0,199.7 59.3,212.1 59.6,191.9 59.8,196.0 60.1,215.7 60.4,197.4 60.6,203.7 60.9,200.5 61.2,198.0 61.4,200.0 61.7,207.3 62.0,210.4 62.2,206.2 62.5,197.3 62.8,202.5 63.0,191.1 63.3,193.2 63.6,196.8 63.8,214.4 64.1,196.6 64.4,199.0 64.6,192.6 64.9,208.9 65.2,191.6 65.5,194.2 65.7,197.3 66.0,197.3 66.3,194.7 66.6,196.1 66.8,192.8 67.1,201.3 67.4,197.8 67.6,191.6 67.9,191.1 68.2,196.4 68.5,195.3 68.7,200.4 69.0,201.3 69.3,198.3 69.6,200.6 69.9,212.1 70.1,212.0 70.4,190.4 70.7,198.8 71.0,198.8 71.2,196.6 71.5,195.6 71.8,204.5 72.1,195.9 72.4,197.0 72.6,198.3 72.9,193.6 73.2,194.9 73.5,187.9 73.8,194.3 74.1,193.9 74.3,191.5 74.6,198.0 74.9,193.4 75.2,194.2 75.5,201.3 75.8,186.5 76.1,189.2 76.3,191.9 76.6,194.2 76.9,191.3 77.2,190.5 77.5,191.2 77.8,191.7 78.1,187.8 78.3,185.8 78.6,189.5 78.9,193.6 79.2,193.0 79.5,194.3 79.8,191.8 80.1,192.5 80.4,192.8 80.7,188.6 81.0,188.8 81.3,194.4 81.5,202.7 81.8,191.1 82.1,191.3 82.4,207.4 82.7,186.6 83.0,206.9 83.3,182.4 83.6,191.8 83.9,191.7 84.2,193.6 84.5,206.1 84.8,200.3 85.1,189.6 85.4,188.9 85.7,193.6 86.0,185.2 86.3,195.7 86.6,191.1 86.9,186.9 87.2,191.1 87.5,189.8 87.8,186.9 88.1,190.2 88.4,190.5 88.7,188.5 89.0,190.4 89.3,192.1 89.6,190.1 89.9,191.0 90.2,191.4 90.5,189.6 90.8,194.2 91.1,187.9 91.4,186.8 91.7,189.6 92.0,185.9 92.4,189.8 92.7,186.9 93.0,187.0 93.3,190.2 93.6,185.9 93.9,190.7 94.2,187.4 94.5,185.9 94.8,184.6 95.1,185.0 95.4,184.4 95.8,184.0 96.1,181.5 96.4,183.7 96.7,187.6 97.0,184.1 97.3,182.2 97.6,184.3 98.0,185.7 98.3,184.1 98.6,185.6 98.9,181.5 99.2,188.7 99.5,184.5 99.9,181.8 100.2,184.5 100.5,180.9 100.8,182.8"/>
<polyline stroke="#00ff00" points="100.5,180.9 100.8,182.8 101.1,181.6 101.5,179.6 101.8,182.2 102.1,181.8 102.4,180.6 102.7,182.3 103.1,177.6 103.4,178.1 103.7,178.2 104.0,178.0 104.4,178.8 104.7,176.2 105.0,174.9 105.3,179.6 105.7,178.0 106.0,176.9 106.3,175.6 106.6,178.2 107.0,176.1 107.3,177.5 107.6,177.0 107.9,176.8 108.3,175.3 108.6,176.0 108.9,176.1 109.3,175.2 109.6,175.7 109.9,174.9 110.3,176.0 110.6,174.9 110.9,174.3 111.3,175.7 111.6,175.3 111.9,177.1 112.3,173.8 112.6,172.0 112.9,174.2 113.3,173.8 113.6,172.7 113.9,174.1 114.3,173.2 114.6,174.3 115.0,173.7 115.3,173.9 115.6,173.7 116.0,171.8 116.3,172.0 116.7,173.8 117.0,172.0 117.3,172.4 117.7,172.3 118.0,172.1 118.4,172.3 118.7,172.6 119.1,171.9 119.4,171.0 119.8,171.1 120.1,171.9 120.5,170.5 120.8,171.7 121.1,170.3 121.5,170.4 121.8,170.3 122.2,170.1 122.5,170.5 122.9,169.6 123.2,169.0 123.6,169.3 124.0,169.8 124.3,168.2 124.7,169.1 125.0,168.6 125.4,168.0 125.7,168.0 126.1,167.7 126.4,167.4 126.8,167.4 127.1,166.8 127.5,166.9 127.9,166.1 128.2,166.6 128.6,165.9 128.9,165.4 129.3,165.2 129.7,165.5 130.0,164.5 130.4,164.3 130.7,164.9 131.1,164.4 131.5,163.9 131.8,163.4 132.2,163.5 132.6,163.9 132.9,162.9 133.3,162.8 133.7,162.8 134.0,162.7 134.4,162.1 134.8,162.0 135.1,161.2 135.5,161.4 135.9,160.8 136.2,161.6 136.6,160.4 137.0,159.9 137.3,160.7 137.7,160.1 138.1,159.2 138.5,159.6 138.8,158.9 139.2,159.0 139.6,158.5 140.0,158.7 140.3,157.9 140.7,158.3 141.1,158.2 141.5,157.7 141.9,157.7 142.2,157.4 142.6,157.6 143.0,156.6 143.4,156.8 143.8,156.6 144.1,156.4 144.5,155.8 144.9,155.8 145.3,155.8 145.7,155.7 146.1,155.1 146.4,155.1 146.8,155.7 147.2,155.6 147.6,154.8 148.0,155.1 148.4,154.3 148.8,154.8 149.2,154.4 149.6,154.0 149.9,153.8 150.3,153.8 150.7,154.2 151.1,153.6 151.5,153.5 151.9,152.9 152.3,153.3 152.7,153.0 153.1,152.6 153.5,152.5 153.9,152.4 154.3,153.1 154.7,152.1 155.1,152.0 155.5,152.1 155.9,151.4 156.3,152.5 156.7,151.5 157.1,152.0 157.5,152.1 157.9,151.5 158.3,150.8 158.7,151.1 159.1,151.3 159.5,150.7 159.9,150.9 160.3,151.1 160.7,150.6 161.1,150.5 161.6,151.2 162.0,150.9 162.4,151.0 162.8,150.6 163.2,150.9 163.6,150.4 164.0,151.0 164.4,150.6 164.9,150.4 165.3,151.1 165.7,150.0 166.1,150.3 166.5,149.9 166.9,150.0 167.4,150.6 167.8,150.6 168.2,149.9 168.6,150.3 169.0,149.9 169.5,150.7 169.9,150.5 170.3,150.1 170.7,150.1 171.1,150.3 171.6,150.1 172.0,149.7 172.4,150.5 172.9,150.4 173.3,150.8 173.7,149.9 174.1,150.3 174.6,150.4 175.0,150.7 175.4,150.4 175.9,150.7 176.3,150.6 176.7,150.7 177.2,150.7 177.6,150.8 178.0,150.6 178.5,151.5 178.9,150.6 179.3,151.5 179.8,151.3 180.2,151.5 180.7,151.2 181.1,151.7 181.5,152.3 182.0,152.2 182.4,152.0 182.9,152.6 183.3,152.6 183.8,152.6 184.2,152.9 184.7,152.8 185.1,153.3 185.5,153.6 186.0,153.5 186.4,153.6 186.9,154.1 187.3,154.3 187.8,154.8 188.3,155.8 188.7,156.1 189.2,157.8 189.6,158.8 190.1,157.9 190.5,159.1 191.0,160.4 191.4,160.3 191.9,161.8 192.4,162.4 192.8,163.0 193.3,165.0 193.7,166.1 194.2,165.3 194.7,167.4 195.1,170.5 195.6,168.8 196.1,173.6"/>
<polyline stroke="#00ff00" stroke-width="0.85" points="195.6,168.8 196.1,173.6 196.5,169.7 197.0,172.1 197.5,173.1 197.9,175.7 198.4,174.0 198.9,181.9 199.3,177.7 199.8,180.8 200.3,185.4 200.8,185.7 201.2,182.3 201.7,184.4 202.2,189.2 202.7,204.3 203.1,207.9 203.6,193.7 204.1,214.5 204.6,204.0 205.1,206.5 205.5,216.3 206.0,207.2 206.5,195.6 207.0,197.3 207.5,218.1 208.0,218.6 208.4,198.1 208.9,209.6 209.4,200.9 209.9,197.1 210.4,195.9 210.9,197.3 211.4,209.1 211.9,219.0 212.4,200.2 212.9,213.7 213.4,198.1 213.8,213.0 214.3,206.1 214.8,207.0 215.3,205.0 215.8,198.6 216.3,195.4 216.8,208.9 217.3,192.1 217.8,219.3 218.3,205.3 218.9,211.8 219.4,209.4 219.9,202.7 220.4,197.5 220.9,204.0 221.4,199.4 221.9,204.5 222.4,211.7 222.9,193.3 223.4,194.5 223.9,219.0 224.5,198.3 225.0,209.5 225.5,214.6 226.0,202.1 226.5,215.1 227.0,202.7 227.6,198.2 228.1,205.7 228.6,202.5 229.1,210.2 229.7,205.6 230.2,200.9 230.7,197.4 231.2,198.7 231.8,203.2 232.3,197.4 232.8,195.4 233.3,202.5 233.9,216.6 234.4,202.4 234.9,209.0 235.5,198.8 236.0,218.9 236.6,203.4 237.1,202.5 237.6,205.0 238.2,197.1 238.7,197.3 239.2,211.3 239.8,204.7 240.3,202.2 240.9,195.5 241.4,207.5 242.0,199.3 242.5,209.5 243.1,200.6 243.6,196.3 244.2,219.2 244.7,194.9 245.3,198.8 245.8,204.4 246.4,199.5 246.9,219.0 247.5,205.8 248.0,212.4 248.6,198.8 249.2,196.4 249.7,208.4 250.3,199.1 250.8,202.3 251.4,205.3 252.0,194.4 252.5,209.6 253.1,205.9 253.7,206.2 254.2,201.4 254.8,218.9 255.4,200.7 255.9,219.1 256.5,207.9 257.1,209.4 257.7,208.6 258.2,210.9 258.8,210.6 259.4,211.8 260.0,210.1 260.6,210.1 261.1,202.9 261.7,198.7 262.3,210.6 262.9,218.8 263.5,196.2 264.1,219.1 264.6,210.8 265.2,199.7 265.8,203.4 266.4,203.6 267.0,199.4 267.6,198.1 268.2,217.7 268.8,200.9 269.4,201.7 270.0,208.6 270.6,198.3 271.2,200.1 271.8,200.7 272.4,200.3 273.0,202.2 273.6,206.7 274.2,197.5 274.8,204.5 275.4,204.3 276.0,193.6 276.6,206.2 277.3,208.8 277.9,199.1 278.5,209.2 279.1,219.0 279.7,198.9 280.3,210.5 280.9,207.8 281.6,200.3 282.2,195.5 282.8,199.0 283.4,202.0 284.1,205.5 284.7,205.8 285.3,204.3 285.9,201.6 286.6,201.2 287.2,218.8 287.8,195.0 288.5,205.7 289.1,213.2 289.7,210.1 290.4,202.1 291.0,219.0 291.7,201.5 292.3,200.2 292.9,201.0 293.6,196.3 294.2,192.6 294.9,219.0 295.5,196.4 296.2,201.8 296.8,199.9 297.5,199.1 298.1,211.4 298.8,196.4 299.4,201.7 300.1,202.0 300.8,206.2 301.4,218.5 302.1,202.5 302.7,199.2 303.4,205.2 304.1,194.2 304.7,211.5 305.4,203.7 306.1,199.8 306.7,205.8 307.4,201.8 308.1,206.0 308.8,202.8 309.4,213.4 310.1,195.4 310.8,198.7 311.5,213.0 312.1,196.0 312.8,206.2 313.5,195.3 314.2,201.9 314.9,202.9 315.6,219.0 316.3,201.8 317.0,210.7 317.6,200.8 318.3,193.7 319.0,219.0 319.7,219.0 320.4,199.9 321.1,202.2 321.8,203.3 322.5,211.5 323.2,198.3 323.9,203.6 324.6,203.2 325.4,207.1 326.1,213.9 326.8,194.1 327.5,209.0 328.2,199.8 328.9,218.9 329.6,218.5 330.4,219.2 331.1,206.9 331.8,209.0 332.5,213.9 333.2,218.9 334.0,204.0 334.7,205.8 335.4,200.4 336.2,198.3 336.9,212.6 337.6,196.1 338.4,200.3 339.1,195.3 339.8,193.2 340.6,214.6 341.3,197.0 342.1,198.7 342.8,216.1 343.6,207.1 344.3,193.7 345.0,205.5"/>
<polyline stroke="#ff0000" stroke-width="0.85" points="48.0,208.5 48.2,200.6 48.5,209.6 48.8,203.7 49.0,205.5 49.3,206.4 49.5,212.7 49.8,206.0 50.0,214.5 50.3,211.8 50.5,205.2 50.8,207.9 51.0,208.5 51.3,213.9 51.5,202.2 51.8,204.4 52.0,208.9 52.3,211.8 52.5,210.5 52.8,203.5 53.1,214.0 53.3,205.6 53.6,210.1 53.8,209.5 54.1,208.1 54.3,199.0 54.6,205.6 54.9,203.9 55.1,209.9 55.4,203.1 55.6,218.4 55.9,207.2 56.2,205.1 56.4,206.9 56.7,208.4 56.9,198.5 57.2,207.2 57.5,217.9 57.7,199.8 58.0,207.9 58.2,202.9 58.5,217.7 58.8,217.6 59.0,202.7 59.3,202.3 59.6,216.1 59.8,199.0 60.1,196.7 60.4,200.4 60.6,203.5 60.9,206.2 61.2,206.5 61.4,207.8 61.7,197.2 62.0,197.2 62.2,199.5 62.5,199.8 62.8,194.9 63.0,207.9 63.3,199.5 63.6,197.3 63.8,205.0 64.1,204.8 64.4,203.1 64.6,201.0 64.9,215.8 65.2,197.0 65.5,200.5 65.7,201.1 66.0,202.8 66.3,200.2 66.6,215.3 66.8,200.8 67.1,197.9 67.4,199.6 67.6,211.4 67.9,205.9 68.2,199.6 68.5,202.8 68.7,195.8 69.0,197.0 69.3,214.5 69.6,193.9 69.9,203.9 70.1,199.5 70.4,199.8 70.7,199.7 71.0,212.0 71.2,203.1 71.5,213.8 71.8,196.9 72.1,205.3 72.4,211.2 72.6,213.4 72.9,207.2 73.2,202.2 73.5,209.6 73.8,194.7 74.1,206.6 74.3,204.9 74.6,200.6 74.9,205.1 75.2,200.0 75.5,207.3 75.8,201.5 76.1,198.6 76.3,195.1 76.6,208.0 76.9,193.7 77.2,208.1 77.5,197.1 77.8,202.2 78.1,202.7 78.3,211.8 78.6,196.2 78.9,201.4 79.2,199.4 79.5,205.9 79.8,200.4 80.1,205.3 80.4,206.5 80.7,202.2 81.0,194.9 81.3,204.7 81.5,211.0 81.8,205.8 82.1,200.4 82.4,200.4 82.7,203.3 83.0,193.1 83.3,199.8 83.6,198.3 83.9,192.3 84.2,201.9 84.5,195.9 84.8,203.9 85.1,194.8 85.4,200.0 85.7,191.1 86.0,209.3 86.3,195.3 86.6,196.2 86.9,209.0 87.2,194.2 87.5,197.1 87.8,195.6 88.1,195.2 88.4,200.7 88.7,205.8 89.0,191.6 89.3,191.4 89.6,197.5 89.9,189.9 90.2,200.6 90.5,190.5 90.8,196.4 91.1,183.6 91.4,187.4 91.7,196.6 92.0,202.3 92.4,193.6 92.7,191.1 93.0,191.4 93.3,191.6 93.6,191.5 93.9,190.3 94.2,185.2 94.5,186.8 94.8,197.6 95.1,188.1 95.4,187.4 95.8,193.6 96.1,190.1 96.4,186.3 96.7,192.5 97.0,196.7 97.3,193.3 97.6,186.2 98.0,187.9 98.3,190.3 98.6,184.1 98.9,190.9 99.2,189.7 99.5,188.9 99.9,185.3 100.2,194.8 100.5,187.1 100.8,188.9 101.1,189.2 101.5,191.5 101.8,189.0 102.1,185.0 102.4,183.0 102.7,188.0 103.1,190.2 103.4,188.1 103.7,188.2 104.0,184.6 104.4,185.5 104.7,187.6 105.0,182.7 105.3,187.4 105.7,186.2 106.0,183.1 106.3,182.6 106.6,188.3 107.0,184.0 107.3,190.7 107.6,187.3 107.9,186.0 108.3,186.4 108.6,180.7 108.9,183.1 109.3,189.5 109.6,182.9 109.9,182.3 110.3,181.6 110.6,179.4 110.9,180.0 111.3,183.1 111.6,181.4 111.9,180.1 112.3,184.4 112.6,176.2 112.9,177.4 113.3,177.1 113.6,180.7 113.9,180.8 114.3,176.0 114.6,177.3 115.0,177.6 115.3,177.4 115.6,177.9 116.0,178.4 116.3,178.6 116.7,179.3 117.0,179.2 117.3,175.7 117.7,182.4 118.0,179.8 118.4,177.3"/>
<polyline stroke="#ff0000" points="118.0,179.8 118.4,177.3 118.7,173.8 119.1,176.8 119.4,178.6 119.8,177.3 120.1,175.9 120.5,178.0 120.8,176.7 121.1,174.3 121.5,176.7 121.8,176.2 122.2,174.2 122.5,175.5 122.9,173.1 123.2,174.7 123.6,175.0 124.0,174.4 124.3,175.5 124.7,178.0 125.0,174.8 125.4,175.1 125.7,173.6 126.1,174.6 126.4,176.7 126.8,173.0 127.1,173.7 127.5,174.7 127.9,175.5 128.2,172.4 128.6,174.7 128.9,172.6 129.3,173.6 129.7,172.8 130.0,173.5 130.4,173.3 130.7,175.1 131.1,171.5 131.5,173.0 131.8,173.0 132.2,171.7 132.6,174.9 132.9,170.8 133.3,173.5 133.7,171.9 134.0,171.0 134.4,171.6 134.8,171.4 135.1,171.4 135.5,172.2 135.9,170.4 136.2,172.0 136.6,171.8 137.0,170.3 137.3,171.0 137.7,171.9 138.1,171.5 138.5,170.4 138.8,170.8 139.2,170.3 139.6,170.0 140.0,171.0 140.3,169.6 140.7,168.7 141.1,171.1 141.5,169.7 141.9,171.7 142.2,169.1 142.6,168.7 143.0,170.8 143.4,169.9 143.8,168.7 144.1,167.7 144.5,168.7 144.9,167.7 145.3,167.8 145.7,167.8 146.1,167.9 146.4,168.0 146.8,167.8 147.2,167.5 147.6,167.7 148.0,166.8 148.4,166.8 148.8,166.4 149.2,166.7 149.6,167.2 149.9,166.5 150.3,166.5 150.7,167.1 151.1,165.7 151.5,165.9 151.9,166.1 152.3,165.0 152.7,164.3 153.1,166.3 153.5,165.4 153.9,166.5 154.3,165.6 154.7,165.6 155.1,165.2 155.5,165.0 155.9,165.3 156.3,164.2 156.7,164.5 157.1,164.3 157.5,163.7 157.9,164.4 158.3,163.9 158.7,163.9 159.1,165.2 159.5,164.6 159.9,163.6 160.3,164.6 160.7,164.9 161.1,163.8 161.6,163.2 162.0,163.2 162.4,163.9 162.8,164.3 163.2,162.7 163.6,164.5 164.0,163.2 164.4,163.5 164.9,164.0 165.3,162.9 165.7,163.6 166.1,162.8 166.5,163.2 166.9,163.6 167.4,164.0 167.8,164.1 168.2,163.5 168.6,163.7 169.0,164.4 169.5,163.4 169.9,162.7 170.3,163.0 170.7,163.2 171.1,163.6 171.6,164.2 172.0,162.8 172.4,163.7 172.9,163.5 173.3,166.1 173.7,164.5 174.1,164.4 174.6,164.4 175.0,163.5 175.4,164.5 175.9,164.1 176.3,164.8 176.7,164.1 177.2,164.6 177.6,163.9 178.0,163.8 178.5,164.4 178.9,164.0 179.3,166.1 179.8,165.4 180.2,165.3 180.7,164.6 181.1,165.9 181.5,165.3 182.0,164.8 182.4,166.5 182.9,165.2 183.3,167.6 183.8,166.4 184.2,166.7 184.7,165.5 185.1,166.3 185.5,167.5 186.0,168.4 186.4,167.4 186.9,168.1 187.3,167.7 187.8,169.2 188.3,170.0 188.7,169.5 189.2,169.8 189.6,171.9 190.1,171.9 190.5,172.7 191.0,175.7 191.4,174.0"/>
<polyline stroke="#ff0000" stroke-width="0.85" points="191.0,175.7 191.4,174.0 191.9,175.7 192.4,174.5 192.8,175.5 193.3,177.0 193.7,179.1 194.2,179.8 194.7,182.3 195.1,178.7 195.6,181.8 196.1,180.0 196.5,178.2 197.0,182.7 197.5,184.0 197.9,185.7 198.4,182.7 198.9,194.7 199.3,190.9 199.8,195.5 200.3,183.4 200.8,193.3 201.2,187.1 201.7,189.5 202.2,198.1 202.7,192.3 203.1,195.9 203.6,204.1 204.1,216.3 204.6,200.1 205.1,199.4 205.5,207.5 206.0,209.2 206.5,208.3 207.0,211.4 207.5,206.0 208.0,216.6 208.4,201.0 208.9,204.7 209.4,201.4 209.9,203.5 210.4,219.7 210.9,212.5 211.4,212.5 211.9,220.1 212.4,203.2 212.9,207.6 213.4,219.9 213.8,210.7 214.3,206.6 214.8,204.2 215.3,200.3 215.8,214.2 216.3,214.3 216.8,214.7 217.3,205.7 217.8,201.2 218.3,211.3 218.9,214.4 219.4,204.6 219.9,220.0 220.4,220.0 220.9,206.3 221.4,208.5 221.9,202.9 222.4,196.2 222.9,208.8 223.4,218.4 223.9,199.7 224.5,213.9 225.0,219.9 225.5,204.0 226.0,208.4 226.5,208.3 227.0,201.3 227.6,212.5 228.1,207.1 228.6,209.0 229.1,199.3 229.7,204.5 230.2,220.1 230.7,202.6 231.2,199.4 231.8,208.7 232.3,211.5 232.8,206.0 233.3,219.9 233.9,206.6 234.4,200.8 234.9,204.5 235.5,207.0 236.0,219.9 236.6,207.2 237.1,209.5 237.6,205.7 238.2,219.8 238.7,206.7 239.2,205.5 239.8,211.8 240.3,218.0 240.9,220.2 241.4,208.2 242.0,209.2 242.5,205.9 243.1,209.7 243.6,213.1 244.2,213.4 244.7,205.0 245.3,208.5 245.8,205.5 246.4,203.1 246.9,205.3 247.5,208.8 248.0,214.8 248.6,219.9 249.2,204.5 249.7,215.0 250.3,220.2 250.8,210.0 251.4,210.8 252.0,203.7 252.5,205.2 253.1,205.7 253.7,202.0 254.2,199.7 254.8,204.4 255.4,199.6 255.9,207.3 256.5,206.2 257.1,217.2 257.7,201.7 258.2,209.3 258.8,204.6 259.4,207.3 260.0,197.1 260.6,220.1 261.1,219.4 261.7,211.8 262.3,217.7 262.9,213.3 263.5,199.3 264.1,205.7 264.6,212.9 265.2,210.2 265.8,206.5 266.4,209.1 267.0,211.9 267.6,208.0 268.2,200.7 268.8,219.2 269.4,206.3 270.0,213.6 270.6,208.1 271.2,219.9 271.8,207.4 272.4,203.0 273.0,204.7 273.6,204.4 274.2,220.0 274.8,199.9 275.4,201.6 276.0,204.5 276.6,202.0 277.3,219.9 277.9,206.8 278.5,211.6 279.1,219.8 279.7,205.9 280.3,206.1 280.9,217.7 281.6,205.3 282.2,204.6 282.8,213.3 283.4,203.0 284.1,202.1 284.7,208.2 285.3,203.1 285.9,207.9 286.6,212.9 287.2,203.2 287.8,209.7 288.5,202.0 289.1,220.2 289.7,206.0 290.4,212.7 291.0,219.9 291.7,217.4 292.3,203.2 292.9,201.0 293.6,208.2 294.2,199.9 294.9,206.5 295.5,210.7 296.2,200.4 296.8,213.5 297.5,208.4 298.1,212.3 298.8,212.7 299.4,200.2 300.1,206.1 300.8,202.0 301.4,215.6 302.1,201.5 302.7,216.8 303.4,214.4 304.1,220.3 304.7,211.4 305.4,220.2 306.1,209.3 306.7,211.1 307.4,214.1 308.1,219.8 308.8,203.2 309.4,204.3 310.1,210.2 310.8,211.6 311.5,202.9 312.1,199.7 312.8,214.2 313.5,204.9 314.2,212.8 314.9,203.1 315.6,212.6 316.3,197.5 317.0,210.8 317.6,212.6 318.3,201.0 319.0,206.7 319.7,199.8 320.4,205.6 321.1,203.0 321.8,206.2 322.5,204.0 323.2,212.1 323.9,208.1 324.6,219.9 325.4,217.0 326.1,210.5 326.8,220.4 327.5,206.5 328.2,208.8 328.9,202.6 329.6,217.6 330.4,207.6 331.1,217.0 331.8,220.0 332.5,220.2 333.2,208.3 334.0,216.2 334.7,210.8 335.4,212.6 336.2,212.6 336.9,220.0 337.6,216.4 338.4,198.7 339.1,206.2 339.8,208.1 340.6,205.1 341.3,207.0 342.1,213.7 342.8,204.8 343.6,207.9 344.3,206.4 345.0,205.7"/>
</g>
<g clip-path="url(#cb)" fill="none" stroke-width="1" stroke-linejoin="round">
<polyline stroke="#ff80ff" points="48.0,303.1 48.2,305.9 48.5,303.7 48.8,302.8 49.0,307.2 49.3,305.1 49.5,302.8 49.8,303.8 50.0,307.6 50.3,302.7 50.5,305.7 50.8,303.1 51.0,304.0 51.3,303.2 51.5,305.7 51.8,301.6 52.0,303.6 52.3,303.7 52.5,302.0 52.8,302.7 53.1,302.9 53.3,302.1 53.6,303.3 53.8,305.2 54.1,301.2 54.3,302.9 54.6,301.9 54.9,301.9 55.1,302.0 55.4,303.5 55.6,301.3 55.9,303.5 56.2,302.6 56.4,302.9 56.7,302.1 56.9,302.6 57.2,302.3 57.5,301.1 57.7,299.7 58.0,300.7 58.2,301.2 58.5,301.7 58.8,302.5 59.0,300.2 59.3,301.1 59.6,301.8 59.8,302.2 60.1,300.9 60.4,299.0 60.6,300.4 60.9,303.5 61.2,300.4 61.4,299.5 61.7,299.7 62.0,299.8 62.2,299.0 62.5,301.3 62.8,298.5 63.0,299.3 63.3,300.8 63.6,299.4 63.8,297.8 64.1,299.0 64.4,299.6 64.6,297.9 64.9,298.4 65.2,298.1 65.5,298.7 65.7,298.1 66.0,298.6 66.3,298.0 66.6,298.1 66.8,296.8 67.1,297.0 67.4,297.2 67.6,296.4 67.9,298.0 68.2,297.1 68.5,298.0 68.7,296.5 69.0,296.3 69.3,296.7 69.6,298.1 69.9,296.7 70.1,296.4 70.4,295.8 70.7,296.9 71.0,296.2 71.2,295.4 71.5,295.6 71.8,295.9 72.1,295.3 72.4,296.2 72.6,296.0 72.9,294.8 73.2,296.1 73.5,294.9 73.8,295.3 74.1,295.0 74.3,294.4 74.6,294.9 74.9,294.8 75.2,294.8 75.5,294.5 75.8,294.2 76.1,293.9 76.3,294.3 76.6,294.1 76.9,293.7 77.2,293.5 77.5,293.2 77.8,293.6 78.1,293.5 78.3,293.1 78.6,292.5 78.9,293.0 79.2,292.6 79.5,292.4 79.8,292.4 80.1,292.7 80.4,291.8 80.7,292.5 81.0,292.0 81.3,291.9 81.5,291.8 81.8,291.4 82.1,291.2 82.4,291.4 82.7,291.4 83.0,290.9 83.3,290.1 83.6,290.9 83.9,290.3 84.2,290.0 84.5,290.0 84.8,290.0 85.1,290.2 85.4,289.9 85.7,289.4 86.0,289.1 86.3,289.0 86.6,289.1 86.9,288.7 87.2,288.5 87.5,288.5 87.8,288.3 88.1,288.1 88.4,288.2 88.7,287.6 89.0,287.9 89.3,287.4 89.6,287.7 89.9,287.0 90.2,287.7 90.5,287.0 90.8,287.1 91.1,286.8 91.4,286.6 91.7,286.0 92.0,286.4 92.4,286.3 92.7,285.9 93.0,285.9 93.3,285.2 93.6,285.7 93.9,285.3 94.2,285.4 94.5,284.9 94.8,284.9 95.1,284.9 95.4,284.4 95.8,284.4 96.1,284.4 96.4,284.4 96.7,284.0 97.0,283.5 97.3,283.9 97.6,283.5 98.0,283.6 98.3,283.2 98.6,283.0 98.9,282.7 99.2,282.6 99.5,282.4 99.9,282.4 100.2,282.1 100.5,282.0 100.8,281.9 101.1,281.6 101.5,281.9 101.8,281.4 102.1,281.4 102.4,281.2 102.7,280.9 103.1,281.1 103.4,280.8 103.7,280.9 104.0,280.4 104.4,280.0 104.7,280.2 105.0,279.9 105.3,279.6 105.7,279.7 106.0,279.6 106.3,279.3 106.6,278.8 107.0,278.7 107.3,279.0 107.6,278.7 107.9,278.5 108.3,278.5 108.6,277.7 108.9,278.0 109.3,278.1 109.6,277.4 109.9,277.1 110.3,277.2 110.6,277.0 110.9,277.1 111.3,276.9 111.6,276.6 111.9,276.8 112.3,276.2 112.6,275.6 112.9,275.6 113.3,275.6 113.6,275.3 113.9,275.2 114.3,274.8 114.6,274.8 115.0,274.7 115.3,274.2 115.6,274.1 116.0,274.0 116.3,273.8 116.7,273.1 117.0,273.3 117.3,272.8 117.7,272.9 118.0,272.5 118.4,272.3 118.7,271.8 119.1,271.5 119.4,271.5 119.8,271.0 120.1,271.1 120.5,270.8 120.8,270.6 121.1,270.4 121.5,270.0 121.8,269.8 122.2,269.8 122.5,269.2 122.9,268.7 123.2,269.0 123.6,268.8 124.0,268.6 124.3,268.4 124.7,268.1 125.0,267.8 125.4,267.9 125.7,267.5 126.1,267.3 126.4,266.9 126.8,267.0 127.1,266.4 127.5,266.1 127.9,266.1 128.2,265.9 128.6,265.5 128.9,265.2 129.3,264.7 129.7,264.7 130.0,264.2 130.4,264.5 130.7,263.8 131.1,263.7 131.5,263.9 131.8,263.4 132.2,262.9 132.6,262.7 132.9,262.7 133.3,262.6 133.7,262.5 134.0,261.9 134.4,262.2 134.8,261.4 135.1,261.2 135.5,261.1 135.9,260.6 136.2,260.6 136.6,260.3 137.0,260.4 137.3,259.7 137.7,259.9 138.1,259.9 138.5,259.4 138.8,259.1 139.2,258.9 139.6,259.0 140.0,258.6 140.3,257.9 140.7,257.7 141.1,257.9 141.5,257.4 141.9,257.0 142.2,257.0 142.6,256.5 143.0,256.8 143.4,256.1 143.8,256.3 144.1,255.9 144.5,255.5 144.9,255.6 145.3,255.2 145.7,254.7 146.1,254.2 146.4,253.9 146.8,254.1 147.2,253.8 147.6,253.4 148.0,252.9 148.4,252.7 148.8,252.5 149.2,252.1 149.6,251.9 149.9,252.0 150.3,251.7 150.7,251.6 151.1,251.0 151.5,250.9 151.9,250.7 152.3,250.7 152.7,250.0 153.1,249.9 153.5,249.3 153.9,249.3 154.3,249.0 154.7,249.0 155.1,248.1 155.5,248.3 155.9,248.0 156.3,247.8 156.7,247.5 157.1,247.6 157.5,246.9 157.9,246.7 158.3,246.4 158.7,246.2 159.1,245.9 159.5,245.7 159.9,245.7 160.3,245.6 160.7,245.2 161.1,244.9 161.6,244.9 162.0,244.6 162.4,244.3 162.8,244.0 163.2,243.5 163.6,243.7 164.0,243.2 164.4,243.1 164.9,242.9 165.3,242.5 165.7,242.3 166.1,242.5 166.5,242.3 166.9,242.2 167.4,242.2 167.8,241.7 168.2,241.3 168.6,241.1 169.0,241.3 169.5,241.3 169.9,240.9 170.3,240.7 170.7,240.1 171.1,239.9 171.6,240.4 172.0,240.1 172.4,239.5 172.9,239.5 173.3,239.5 173.7,239.4 174.1,238.6 174.6,239.1 175.0,238.5 175.4,238.4 175.9,237.8 176.3,238.0 176.7,237.7 177.2,237.2 177.6,237.6 178.0,237.2 178.5,236.6 178.9,236.6 179.3,236.4 179.8,236.1 180.2,235.7 180.7,236.0 181.1,235.7 181.5,235.7 182.0,235.8 182.4,234.9 182.9,234.5 183.3,234.4 183.8,234.6 184.2,234.3 184.7,233.7 185.1,233.7 185.5,233.6 186.0,233.1 186.4,232.8 186.9,233.1 187.3,232.5 187.8,232.2 188.3,232.0 188.7,231.9 189.2,232.1 189.6,231.8 190.1,231.1 190.5,230.9 191.0,230.7 191.4,230.8 191.9,230.3 192.4,230.2 192.8,230.0 193.3,229.8 193.7,229.5 194.2,229.2 194.7,229.1 195.1,229.0 195.6,228.8 196.1,228.8 196.5,228.4 197.0,227.9 197.5,228.0 197.9,227.8 198.4,227.5 198.9,227.4 199.3,227.4 199.8,226.9 200.3,227.1 200.8,226.8 201.2,227.0 201.7,227.1 202.2,226.9 202.7,227.1 203.1,227.1 203.6,226.8 204.1,226.8 204.6,226.7 205.1,226.8 205.5,226.7 206.0,226.5 206.5,226.7 207.0,226.5 207.5,226.6 208.0,226.4 208.4,226.6 208.9,226.9 209.4,226.5 209.9,226.6 210.4,226.6 210.9,226.7 211.4,226.5 211.9,226.5 212.4,226.9 212.9,226.7 213.4,227.2 213.8,226.9 214.3,226.8 214.8,226.9 215.3,227.0 215.8,227.1 216.3,227.6 216.8,227.2 217.3,228.0 217.8,227.7 218.3,227.9 218.9,228.3 219.4,228.4 219.9,228.3 220.4,228.6 220.9,228.8 221.4,228.6 221.9,228.6 222.4,228.7 222.9,229.1 223.4,229.3 223.9,229.8 224.5,229.5 225.0,229.9 225.5,229.6 226.0,230.3 226.5,229.7 227.0,230.3 227.6,230.2 228.1,230.9 228.6,230.9 229.1,231.2 229.7,231.3 230.2,231.5 230.7,231.8 231.2,232.3 231.8,232.4 232.3,232.4 232.8,232.8 233.3,233.0 233.9,233.1 234.4,233.8 234.9,233.6 235.5,234.2 236.0,234.2 236.6,234.7 237.1,235.1 237.6,235.5 238.2,235.6 238.7,236.2 239.2,236.7 239.8,237.2 240.3,237.7 240.9,237.6 241.4,238.0 242.0,238.4 242.5,238.6 243.1,238.9 243.6,239.2 244.2,240.0 244.7,240.5 245.3,240.5 245.8,240.8 246.4,241.4 246.9,241.3 247.5,242.0 248.0,242.0 248.6,242.7 249.2,243.3 249.7,243.4 250.3,244.5 250.8,244.5 251.4,244.8 252.0,245.3 252.5,245.8 253.1,246.0 253.7,246.7 254.2,246.7 254.8,247.4 255.4,248.0 255.9,248.0 256.5,248.2 257.1,248.7 257.7,249.2 258.2,249.7 258.8,250.2 259.4,250.3 260.0,251.1 260.6,251.3 261.1,252.4 261.7,252.4 262.3,253.6 262.9,254.0 263.5,254.6 264.1,255.1 264.6,256.2 265.2,256.4 265.8,257.3 266.4,258.1 267.0,258.4 267.6,259.4 268.2,259.6 268.8,260.7 269.4,261.2 270.0,261.9 270.6,262.5 271.2,263.6 271.8,263.8 272.4,264.7 273.0,265.5 273.6,266.1 274.2,266.4 274.8,267.1 275.4,268.1 276.0,268.5 276.6,269.5 277.3,269.9 277.9,270.7 278.5,271.5 279.1,272.3 279.7,273.0 280.3,273.6 280.9,274.6 281.6,275.2 282.2,275.6 282.8,276.7 283.4,277.4 284.1,278.0 284.7,279.2 285.3,279.4 285.9,280.7 286.6,281.2 287.2,281.9 287.8,283.1 288.5,283.2 289.1,284.4 289.7,284.5 290.4,284.9 291.0,285.7 291.7,286.4 292.3,286.4 292.9,286.7 293.6,287.2 294.2,287.1 294.9,287.5 295.5,287.5 296.2,287.3 296.8,287.4 297.5,287.5 298.1,286.9 298.8,286.8 299.4,285.9 300.1,285.3 300.8,284.8 301.4,283.5 302.1,282.4 302.7,281.0 303.4,279.1 304.1,277.8 304.7,276.2 305.4,274.7 306.1,273.0 306.7,271.6 307.4,270.1 308.1,268.4 308.8,266.5 309.4,264.5 310.1,263.0 310.8,261.4 311.5,259.8 312.1,258.5 312.8,257.4 313.5,256.0 314.2,254.9 314.9,253.4 315.6,252.9 316.3,251.9 317.0,250.9 317.6,250.8 318.3,250.1 319.0,250.1 319.7,249.5 320.4,249.2 321.1,249.1 321.8,248.8 322.5,249.0 323.2,248.7 323.9,248.8 324.6,249.5 325.4,249.2 326.1,250.0 326.8,250.2 327.5,251.0 328.2,251.5 328.9,251.6 329.6,252.3 330.4,252.9 331.1,254.6 331.8,255.4 332.5,256.6 333.2,257.9 334.0,259.3 334.7,260.3 335.4,261.4 336.2,263.2 336.9,264.2 337.6,266.0 338.4,267.5 339.1,269.2 339.8,270.5 340.6,272.0 341.3,273.8 342.1,275.0 342.8,277.1 343.6,278.1 344.3,279.3 345.0,280.9"/>
<polyline stroke="#ff0080" stroke-width="0.85" points="48.0,305.9 48.2,304.4 48.5,305.8 48.8,307.2 49.0,305.0 49.3,307.4 49.5,312.6 49.8,312.4 50.0,306.0 50.3,308.1 50.5,313.3 50.8,305.7 51.0,305.5 51.3,307.3 51.5,304.7 51.8,305.4 52.0,305.3 52.3,305.0 52.5,307.0 52.8,305.4 53.1,306.5 53.3,308.9 53.6,310.4 53.8,305.0 54.1,307.8 54.3,305.5 54.6,304.1 54.9,305.0 55.1,308.7 55.4,304.9 55.6,303.1 55.9,306.1 56.2,305.8 56.4,306.9 56.7,305.2 56.9,308.5 57.2,304.2 57.5,307.6 57.7,311.6 58.0,305.4 58.2,304.8 58.5,306.0 58.8,304.1 59.0,304.9 59.3,304.8 59.6,304.8 59.8,304.2 60.1,309.0 60.4,305.4 60.6,303.8 60.9,304.6 61.2,305.4 61.4,307.6 61.7,305.0 62.0,307.1 62.2,316.9 62.5,310.0 62.8,305.4 63.0,307.1 63.3,302.5 63.6,305.5 63.8,304.1 64.1,308.0 64.4,305.1 64.6,312.2 64.9,308.1 65.2,303.4 65.5,309.3 65.7,304.9 66.0,307.2 66.3,308.9 66.6,304.3 66.8,307.8 67.1,302.3 67.4,305.6 67.6,307.1 67.9,305.3 68.2,304.7 68.5,304.6 68.7,304.9 69.0,304.7 69.3,306.1 69.6,307.8 69.9,303.8 70.1,304.0 70.4,303.6 70.7,302.7 71.0,304.7 71.2,304.0 71.5,304.4 71.8,303.6 72.1,302.6 72.4,304.4 72.6,303.0 72.9,304.3 73.2,302.5 73.5,304.0 73.8,301.7 74.1,305.8 74.3,302.9 74.6,305.6 74.9,305.9 75.2,301.5 75.5,302.8 75.8,308.2 76.1,303.1 76.3,308.2 76.6,303.1 76.9,305.0 77.2,306.0 77.5,309.0 77.8,309.0 78.1,303.1 78.3,301.6 78.6,302.9 78.9,301.8 79.2,301.6 79.5,302.4 79.8,301.5 80.1,302.0 80.4,305.9 80.7,307.7 81.0,301.3 81.3,302.3 81.5,302.2 81.8,301.7"/>
<polyline stroke="#ff0080" points="81.5,302.2 81.8,301.7 82.1,308.1 82.4,304.4 82.7,303.8 83.0,301.3 83.3,300.9 83.6,302.9 83.9,304.1 84.2,301.4 84.5,301.2 84.8,301.6 85.1,302.4 85.4,301.6 85.7,301.0 86.0,301.4 86.3,300.7 86.6,301.1 86.9,300.8 87.2,300.0 87.5,300.3 87.8,300.3 88.1,303.9 88.4,300.5 88.7,300.6 89.0,299.6 89.3,300.0 89.6,298.9 89.9,299.8 90.2,300.5 90.5,299.9 90.8,299.4 91.1,299.9 91.4,299.4 91.7,299.1 92.0,301.1 92.4,298.5 92.7,300.8 93.0,298.4 93.3,298.5 93.6,298.5 93.9,298.4 94.2,299.4 94.5,298.1 94.8,297.9 95.1,297.7 95.4,297.4 95.8,298.5 96.1,297.9 96.4,297.0 96.7,296.8 97.0,296.8 97.3,296.3 97.6,296.4 98.0,295.7 98.3,295.4 98.6,295.6 98.9,294.9 99.2,294.8 99.5,295.1 99.9,294.6 100.2,294.5 100.5,294.1 100.8,294.0 101.1,293.5 101.5,294.0 101.8,293.3 102.1,293.5 102.4,293.4 102.7,293.0 103.1,292.6 103.4,292.5 103.7,292.4 104.0,292.5 104.4,292.3 104.7,291.4 105.0,291.8 105.3,292.0 105.7,291.3 106.0,291.5 106.3,291.0 106.6,290.9 107.0,290.7 107.3,290.6 107.6,290.7 107.9,290.2 108.3,290.3 108.6,289.9 108.9,289.9 109.3,289.8 109.6,289.5 109.9,288.9 110.3,288.9 110.6,289.0 110.9,288.8 111.3,288.3 111.6,288.2 111.9,287.9 112.3,287.8 112.6,287.9 112.9,287.5 113.3,287.5 113.6,287.3 113.9,286.7 114.3,286.5 114.6,286.1 115.0,286.2 115.3,285.7 115.6,285.2 116.0,285.5 116.3,285.2 116.7,284.8 117.0,285.0 117.3,284.5 117.7,284.1 118.0,284.4 118.4,283.8 118.7,283.3 119.1,283.3 119.4,283.2 119.8,282.6 120.1,282.6 120.5,282.4 120.8,281.9 121.1,281.8 121.5,281.7 121.8,281.5 122.2,281.5 122.5,280.9 122.9,280.7 123.2,280.6 123.6,280.3 124.0,279.9 124.3,279.8 124.7,279.4 125.0,279.5 125.4,279.0 125.7,279.0 126.1,278.8 126.4,278.0 126.8,278.4 127.1,277.9 127.5,277.6 127.9,277.5 128.2,277.4 128.6,276.9 128.9,276.6 129.3,276.7 129.7,276.2 130.0,275.9 130.4,275.8 130.7,275.9 131.1,275.1 131.5,275.2 131.8,275.0 132.2,274.5 132.6,274.4 132.9,274.3 133.3,274.1 133.7,273.8 134.0,273.6 134.4,273.1 134.8,273.2 135.1,272.8 135.5,272.9 135.9,272.3 136.2,272.6 136.6,272.3 137.0,271.7 137.3,271.7 137.7,271.5 138.1,270.9 138.5,271.3 138.8,270.7 139.2,270.5 139.6,270.0 140.0,270.4 140.3,270.1 140.7,269.6 141.1,269.4 141.5,269.1 141.9,269.2 142.2,269.1 142.6,268.9 143.0,268.7 143.4,268.5 143.8,268.2 144.1,267.8 144.5,267.8 144.9,267.6 145.3,267.2 145.7,267.3 146.1,266.8 146.4,266.6 146.8,266.7 147.2,266.3 147.6,266.3 148.0,266.0 148.4,265.8 148.8,265.5 149.2,265.4 149.6,265.3 149.9,264.9 150.3,265.1 150.7,264.7 151.1,264.4 151.5,263.9 151.9,263.9 152.3,263.7 152.7,263.6 153.1,263.6 153.5,263.1 153.9,263.1 154.3,262.8 154.7,262.9 155.1,262.1 155.5,262.4 155.9,262.4 156.3,261.6 156.7,261.6 157.1,261.4 157.5,261.1 157.9,260.9 158.3,260.8 158.7,260.6 159.1,260.1 159.5,260.1 159.9,259.7 160.3,259.5 160.7,259.3 161.1,259.0 161.6,258.6 162.0,258.7 162.4,258.4 162.8,258.4 163.2,257.6 163.6,258.1 164.0,257.5 164.4,257.3 164.9,256.5 165.3,256.1 165.7,256.0 166.1,255.8 166.5,255.6 166.9,255.1 167.4,254.9 167.8,254.3 168.2,254.1 168.6,253.8 169.0,253.1 169.5,253.1 169.9,252.7 170.3,252.5 170.7,252.1 171.1,251.7 171.6,251.7 172.0,250.7 172.4,250.9 172.9,250.4 173.3,250.9 173.7,250.0 174.1,249.9 174.6,250.3 175.0,249.3 175.4,249.5 175.9,249.7 176.3,249.6 176.7,249.0 177.2,249.2 177.6,248.8 178.0,248.6 178.5,248.6 178.9,248.7 179.3,248.4 179.8,248.7 180.2,248.2 180.7,248.0 181.1,248.1 181.5,247.8 182.0,247.8 182.4,247.1 182.9,247.5 183.3,247.3 183.8,246.8 184.2,246.6 184.7,246.2 185.1,246.1 185.5,245.7 186.0,245.9 186.4,245.4 186.9,245.1 187.3,244.8 187.8,244.5 188.3,244.4 188.7,244.1 189.2,243.7 189.6,244.0 190.1,243.5 190.5,243.3 191.0,243.1 191.4,242.8 191.9,242.6 192.4,242.4 192.8,242.1 193.3,242.1 193.7,242.0 194.2,241.6 194.7,241.6 195.1,240.6 195.6,240.7 196.1,240.3 196.5,240.0 197.0,240.1 197.5,239.7 197.9,239.6 198.4,239.5 198.9,239.3 199.3,239.0 199.8,238.9 200.3,239.0 200.8,239.3 201.2,238.7 201.7,238.9 202.2,239.3 202.7,238.9 203.1,238.8 203.6,239.1 204.1,239.2 204.6,238.9 205.1,239.1 205.5,239.3 206.0,239.3 206.5,239.4 207.0,239.4 207.5,239.2 208.0,239.1 208.4,239.4 208.9,239.1 209.4,239.4 209.9,239.7 210.4,239.4 210.9,239.5 211.4,239.7 211.9,239.6 212.4,240.0 212.9,239.6 213.4,240.3 213.8,240.2 214.3,240.4 214.8,240.2 215.3,240.8 215.8,240.9 216.3,240.7 216.8,241.1 217.3,241.3 217.8,241.6 218.3,241.9 218.9,242.6 219.4,242.3 219.9,242.6 220.4,242.7 220.9,243.0 221.4,243.5 221.9,243.7 222.4,243.9 222.9,243.8 223.4,244.3 223.9,244.2 224.5,244.4 225.0,244.8 225.5,245.4 226.0,245.5 226.5,245.8 227.0,245.8 227.6,246.9 228.1,246.9 228.6,247.0 229.1,247.6 229.7,248.0 230.2,248.5 230.7,248.7 231.2,249.4 231.8,249.8 232.3,250.4 232.8,250.9 233.3,251.5 233.9,251.8 234.4,252.7 234.9,252.9 235.5,253.4 236.0,254.1 236.6,254.2 237.1,255.1 237.6,255.5 238.2,256.1 238.7,256.8 239.2,257.3 239.8,257.9 240.3,258.9 240.9,259.4 241.4,260.1 242.0,260.7 242.5,261.5 243.1,262.5 243.6,263.0 244.2,264.0 244.7,265.0 245.3,265.7 245.8,266.7 246.4,268.0 246.9,268.7 247.5,269.3 248.0,270.5 248.6,271.4 249.2,272.4 249.7,273.3 250.3,274.3 250.8,275.0 251.4,275.8 252.0,276.8 252.5,277.5 253.1,278.6 253.7,279.5 254.2,280.4 254.8,281.1 255.4,282.1 255.9,282.9 256.5,284.3 257.1,284.6 257.7,285.7 258.2,286.5 258.8,287.5 259.4,287.7 260.0,288.9 260.6,289.0 261.1,289.5 261.7,290.9 262.3,292.4 262.9,294.7 263.5,292.5 264.1,292.8 264.6,296.4 265.2,294.2 265.8,295.2 266.4,295.6 267.0,295.3 267.6,297.1"/>
<polyline stroke="#ff0080" stroke-width="0.85" points="267.0,295.3 267.6,297.1 268.2,298.0 268.8,299.2 269.4,300.7 270.0,300.8 270.6,301.1 271.2,302.2 271.8,302.4 272.4,300.6 273.0,306.2 273.6,310.7 274.2,311.8 274.8,307.8 275.4,309.3 276.0,307.8 276.6,307.6 277.3,305.9 277.9,309.3 278.5,315.3 279.1,309.5 279.7,307.1 280.3,312.6 280.9,307.9 281.6,314.6 282.2,309.1 282.8,308.5 283.4,311.9 284.1,315.0 284.7,313.0 285.3,309.8 285.9,314.1 286.6,311.3 287.2,325.3 287.8,310.9 288.5,313.1 289.1,309.4 289.7,309.1 290.4,308.6 291.0,312.8 291.7,310.1 292.3,312.4 292.9,315.0 293.6,315.3 294.2,308.5 294.9,309.7 295.5,309.4 296.2,309.3 296.8,314.9 297.5,308.3 298.1,319.6 298.8,308.1 299.4,305.7 300.1,306.3 300.8,305.7 301.4,304.9"/>
<polyline stroke="#ff0080" points="300.8,305.7 301.4,304.9 302.1,306.6 302.7,303.1 303.4,300.8 304.1,300.2 304.7,300.7 305.4,297.3 306.1,295.9 306.7,294.3 307.4,293.1 308.1,292.2 308.8,290.7 309.4,289.1 310.1,287.8 310.8,286.4 311.5,285.1 312.1,283.4 312.8,282.0 313.5,280.7 314.2,279.4 314.9,277.7 315.6,276.8 316.3,275.2 317.0,274.3 317.6,272.6 318.3,272.0 319.0,270.8 319.7,269.6 320.4,268.2 321.1,267.8 321.8,267.6 322.5,266.8 323.2,266.8 323.9,266.5 324.6,265.9 325.4,266.4 326.1,265.5 326.8,266.1 327.5,265.9 328.2,266.2 328.9,266.9 329.6,267.3 330.4,268.2 331.1,268.8 331.8,269.7 332.5,270.7 333.2,272.1 334.0,273.7 334.7,274.7 335.4,276.4 336.2,278.5 336.9,279.7 337.6,281.7 338.4,283.8 339.1,285.3 339.8,287.4 340.6,289.1 341.3,290.3 342.1,292.0 342.8,293.7 343.6,294.4 344.3,295.7 345.0,296.9"/>
<polyline stroke="#8000ff" stroke-width="0.85" points="48.0,320.3 48.2,314.5 48.5,314.4 48.8,316.1 49.0,324.6 49.3,315.7 49.5,313.2 49.8,319.8 50.0,324.3 50.3,315.1 50.5,313.7 50.8,355.8 51.0,311.8 51.3,356.3 51.5,313.8 51.8,314.5 52.0,315.4 52.3,330.3 52.5,325.9 52.8,329.9 53.1,325.6 53.3,322.2 53.6,313.2 53.8,355.6 54.1,323.7 54.3,312.9 54.6,312.6 54.9,323.4 55.1,317.7 55.4,315.3 55.6,315.8 55.9,314.8 56.2,321.0 56.4,315.9 56.7,314.1 56.9,323.1 57.2,321.7 57.5,315.9 57.7,314.1 58.0,318.9 58.2,315.4 58.5,316.7 58.8,323.4 59.0,317.0 59.3,315.5 59.6,315.8 59.8,318.0 60.1,319.9 60.4,314.2 60.6,314.4 60.9,313.7 61.2,321.1 61.4,317.6 61.7,315.8 62.0,316.8 62.2,315.2 62.5,315.1 62.8,315.8 63.0,322.9 63.3,331.1 63.6,314.9 63.8,335.1 64.1,318.3 64.4,315.5 64.6,314.0 64.9,317.0 65.2,325.3 65.5,316.7 65.7,314.7 66.0,313.9 66.3,315.5 66.6,321.7 66.8,327.8 67.1,313.6 67.4,356.1 67.6,315.1 67.9,313.7 68.2,326.5 68.5,313.6 68.7,320.5 69.0,314.3 69.3,320.2 69.6,316.6 69.9,315.7 70.1,315.0 70.4,314.5 70.7,324.2 71.0,315.8 71.2,316.3 71.5,316.4 71.8,314.5 72.1,312.6 72.4,317.1 72.6,313.0 72.9,312.6 73.2,317.8 73.5,311.7 73.8,315.9 74.1,314.0 74.3,313.9 74.6,316.9 74.9,314.8 75.2,312.2 75.5,323.6 75.8,315.0 76.1,315.0 76.3,311.1 76.6,321.9 76.9,310.9 77.2,354.8 77.5,315.7 77.8,316.8 78.1,332.2 78.3,314.8 78.6,328.9 78.9,317.5 79.2,316.5 79.5,313.0 79.8,315.7 80.1,312.9 80.4,310.2 80.7,311.5 81.0,333.5 81.3,314.1 81.5,318.7 81.8,311.9 82.1,311.9 82.4,315.6 82.7,312.7 83.0,314.0 83.3,312.6 83.6,310.3 83.9,313.2 84.2,310.3 84.5,309.2 84.8,314.8 85.1,309.5 85.4,309.2 85.7,308.1 86.0,319.4 86.3,310.6 86.6,312.8 86.9,308.6 87.2,308.7 87.5,307.6 87.8,313.9 88.1,312.5 88.4,308.9 88.7,313.1 89.0,306.3 89.3,305.8 89.6,304.2 89.9,306.0 90.2,305.0 90.5,304.1 90.8,305.9 91.1,307.6 91.4,304.2 91.7,306.9 92.0,303.9 92.4,304.4 92.7,302.9 93.0,303.5 93.3,301.8 93.6,303.8 93.9,302.4 94.2,302.7 94.5,303.5 94.8,303.4 95.1,300.3 95.4,302.3 95.8,302.5 96.1,300.7"/>
<polyline stroke="#8000ff" points="95.8,302.5 96.1,300.7 96.4,303.2 96.7,304.4 97.0,302.7 97.3,300.4 97.6,302.6 98.0,302.8 98.3,300.6 98.6,299.9 98.9,302.5 99.2,300.2 99.5,299.7 99.9,300.2 100.2,299.5 100.5,299.6 100.8,299.1 101.1,299.1 101.5,299.1 101.8,299.8 102.1,298.4 102.4,298.1 102.7,298.5 103.1,298.3 103.4,298.8 103.7,297.3 104.0,297.8 104.4,297.5 104.7,297.6 105.0,296.9 105.3,296.3 105.7,295.8 106.0,296.1 106.3,296.0 106.6,295.4 107.0,295.7 107.3,295.4 107.6,295.2 107.9,294.6 108.3,294.7 108.6,293.9 108.9,294.0 109.3,294.0 109.6,293.3 109.9,293.3 110.3,293.3 110.6,292.7 110.9,292.8 111.3,292.4 111.6,292.2 111.9,292.6 112.3,291.8 112.6,292.0 112.9,291.7 113.3,291.2 113.6,291.0 113.9,290.4 114.3,290.4 114.6,290.1 115.0,289.9 115.3,289.8 115.6,289.7 116.0,289.5 116.3,288.7 116.7,289.0 117.0,288.6 117.3,288.0 117.7,288.2 118.0,288.2 118.4,287.7 118.7,287.4 119.1,287.0 119.4,287.4 119.8,286.9 120.1,286.7 120.5,286.5 120.8,285.9 121.1,286.0 121.5,285.6 121.8,285.9 122.2,285.3 122.5,285.3 122.9,285.0 123.2,284.8 123.6,284.7 124.0,284.1 124.3,284.0 124.7,283.7 125.0,283.8 125.4,283.6 125.7,283.2 126.1,283.1 126.4,282.7 126.8,282.1 127.1,281.7 127.5,282.1 127.9,281.8 128.2,281.5 128.6,281.2 128.9,281.0 129.3,280.9 129.7,280.8 130.0,280.4 130.4,280.0 130.7,279.9 131.1,279.5 131.5,279.4 131.8,279.4 132.2,279.0 132.6,278.8 132.9,278.7 133.3,278.8 133.7,278.2 134.0,278.3 134.4,277.6 134.8,277.6 135.1,277.4 135.5,277.3 135.9,277.3 136.2,277.0 136.6,276.8 137.0,276.6 137.3,276.4 137.7,276.3 138.1,276.2 138.5,276.0 138.8,275.7 139.2,275.7 139.6,275.4 140.0,275.3 140.3,275.2 140.7,275.2 141.1,274.8 141.5,274.6 141.9,274.4 142.2,274.2 142.6,273.8 143.0,274.1 143.4,273.9 143.8,273.8 144.1,273.5 144.5,273.4 144.9,273.0 145.3,272.9 145.7,272.9 146.1,272.4 146.4,272.4 146.8,272.2 147.2,271.9 147.6,271.8 148.0,271.7 148.4,271.6 148.8,271.5 149.2,271.0 149.6,271.2 149.9,270.9 150.3,270.7 150.7,270.4 151.1,270.0 151.5,270.0 151.9,270.1 152.3,269.7 152.7,269.4 153.1,269.2 153.5,269.0 153.9,268.9 154.3,268.4 154.7,268.1 155.1,268.2 155.5,267.9 155.9,268.2 156.3,267.3 156.7,267.6 157.1,267.2 157.5,267.0 157.9,266.7 158.3,266.2 158.7,266.1 159.1,265.7 159.5,265.8 159.9,265.4 160.3,265.4 160.7,264.6 161.1,264.8 161.6,264.3 162.0,264.4 162.4,264.3 162.8,264.2 163.2,263.5 163.6,263.4 164.0,263.1 164.4,262.9 164.9,263.0 165.3,262.6 165.7,262.2 166.1,262.3 166.5,261.8 166.9,261.5 167.4,261.1 167.8,261.3 168.2,261.2 168.6,260.4 169.0,260.0 169.5,259.8 169.9,259.9 170.3,259.9 170.7,259.4 171.1,259.5 171.6,259.0 172.0,258.9 172.4,258.4 172.9,258.4 173.3,258.1 173.7,257.4 174.1,257.3 174.6,257.5 175.0,257.4 175.4,257.2 175.9,256.6 176.3,256.2 176.7,256.2 177.2,256.3 177.6,255.7 178.0,255.9 178.5,255.5 178.9,255.3 179.3,255.0 179.8,254.8 180.2,254.9 180.7,254.6 181.1,254.5 181.5,254.5 182.0,254.1 182.4,253.8 182.9,253.9 183.3,253.5 183.8,253.6 184.2,253.2 184.7,252.8 185.1,252.6 185.5,252.8 186.0,252.4 186.4,252.1 186.9,252.3 187.3,251.8 187.8,251.8 188.3,251.4 188.7,251.0 189.2,251.4 189.6,250.9 190.1,251.0 190.5,250.6 191.0,251.0 191.4,250.2 191.9,250.5 192.4,250.3 192.8,249.8 193.3,249.8 193.7,249.4 194.2,248.9 194.7,249.1 195.1,249.1 195.6,248.7 196.1,248.3 196.5,248.1 197.0,248.2 197.5,248.4 197.9,248.1 198.4,247.9 198.9,248.1 199.3,247.7 199.8,248.0 200.3,247.5 200.8,247.9 201.2,247.8 201.7,248.0 202.2,248.2 202.7,248.2 203.1,248.3 203.6,248.1 204.1,248.3 204.6,248.5 205.1,248.9 205.5,248.9 206.0,249.5 206.5,249.5 207.0,249.6 207.5,249.6 208.0,249.8 208.4,250.2 208.9,250.0 209.4,250.2 209.9,250.1 210.4,250.3 210.9,250.6 211.4,250.6 211.9,250.8 212.4,251.1 212.9,251.1 213.4,251.6 213.8,251.8 214.3,252.1 214.8,252.3 215.3,252.4 215.8,252.6 216.3,252.8 216.8,252.8 217.3,253.1 217.8,253.3 218.3,254.0 218.9,254.4 219.4,254.9 219.9,254.8 220.4,255.3 220.9,255.5 221.4,256.0 221.9,256.2 222.4,256.2 222.9,257.3 223.4,257.7 223.9,257.4 224.5,258.1 225.0,259.0 225.5,259.2 226.0,259.8 226.5,260.6 227.0,261.0 227.6,261.5 228.1,262.4 228.6,263.2 229.1,263.9 229.7,264.6 230.2,265.3 230.7,266.1 231.2,266.7 231.8,268.1 232.3,268.7 232.8,269.5 233.3,270.3 233.9,271.2 234.4,272.2 234.9,273.1 235.5,274.5 236.0,275.3 236.6,275.8 237.1,277.1 237.6,278.0 238.2,278.9 238.7,279.7 239.2,280.9 239.8,281.7 240.3,282.8 240.9,283.8 241.4,284.7 242.0,285.9 242.5,286.7 243.1,287.7 243.6,288.8 244.2,289.0 244.7,289.7 245.3,292.3 245.8,290.6 246.4,291.7 246.9,294.1"/>
<polyline stroke="#8000ff" stroke-width="0.85" points="246.4,291.7 246.9,294.1 247.5,293.6 248.0,292.8 248.6,293.5 249.2,294.4 249.7,298.9 250.3,316.0 250.8,297.0 251.4,299.5 252.0,300.2 252.5,306.7 253.1,299.9 253.7,301.4 254.2,301.3 254.8,307.8 255.4,301.6 255.9,325.8 256.5,307.0 257.1,300.1 257.7,305.2 258.2,306.8 258.8,346.9 259.4,328.8 260.0,307.5 260.6,306.2 261.1,306.1 261.7,306.2 262.3,310.4 262.9,310.5 263.5,312.0 264.1,315.7 264.6,336.3 265.2,312.5 265.8,310.4 266.4,312.4 267.0,313.2 267.6,322.7 268.2,317.2 268.8,314.9 269.4,339.5 270.0,317.8 270.6,337.1 271.2,330.1 271.8,361.0 272.4,322.1 273.0,320.2 273.6,352.4 274.2,321.8 274.8,331.4 275.4,319.9 276.0,336.0 276.6,321.1 277.3,331.3 277.9,328.3 278.5,326.5 279.1,318.2 279.7,320.5 280.3,323.8 280.9,321.7 281.6,323.7 282.2,318.4 282.8,316.6 283.4,323.1 284.1,328.4 284.7,322.2 285.3,324.8 285.9,327.4 286.6,328.2 287.2,348.3 287.8,321.1 288.5,321.5 289.1,336.9 289.7,322.2 290.4,321.7 291.0,318.7 291.7,318.4 292.3,320.0 292.9,326.6 293.6,327.3 294.2,323.3 294.9,319.6 295.5,323.0 296.2,319.7 296.8,320.5 297.5,318.6 298.1,319.3 298.8,316.5 299.4,314.1 300.1,314.3 300.8,314.5 301.4,312.7 302.1,311.2 302.7,309.7 303.4,309.4 304.1,309.1 304.7,306.3 305.4,305.2"/>
<polyline stroke="#8000ff" points="304.7,306.3 305.4,305.2 306.1,303.7 306.7,304.4 307.4,301.7 308.1,301.2 308.8,299.9 309.4,298.0 310.1,296.6 310.8,295.8 311.5,294.5 312.1,293.7 312.8,292.8 313.5,291.2 314.2,290.5 314.9,289.6 315.6,288.7 316.3,287.5 317.0,286.7 317.6,285.6 318.3,284.8 319.0,284.0 319.7,282.6 320.4,282.2 321.1,281.1 321.8,280.7 322.5,280.1 323.2,279.0 323.9,278.7 324.6,278.8 325.4,277.9 326.1,277.8 326.8,278.1 327.5,278.1 328.2,278.6 328.9,279.8 329.6,280.1 330.4,281.3 331.1,282.6 331.8,283.4 332.5,284.4 333.2,285.6 334.0,287.0 334.7,288.5 335.4,289.9 336.2,291.1 336.9,293.1 337.6,294.5 338.4,296.3 339.1,297.9 339.8,299.8 340.6,301.8 341.3,303.7 342.1,306.0 342.8,308.1 343.6,309.8 344.3,312.2 345.0,313.7"/>
<polyline stroke="#ff8000" stroke-width="0.85" points="48.0,327.5 48.2,327.4 48.5,332.7 48.8,330.9 49.0,327.7 49.3,327.8 49.5,334.3 49.8,332.2 50.0,331.4 50.3,328.3 50.5,329.0 50.8,327.9 51.0,337.5 51.3,328.5 51.5,331.0 51.8,330.0 52.0,329.2 52.3,329.7 52.5,328.0 52.8,330.0 53.1,330.3 53.3,328.3 53.6,329.5 53.8,328.2 54.1,334.3 54.3,332.4 54.6,332.5 54.9,328.7 55.1,330.7 55.4,332.8 55.6,329.1 55.9,329.3 56.2,330.0 56.4,327.4 56.7,328.0 56.9,329.0 57.2,327.6 57.5,329.5 57.7,328.5 58.0,330.5 58.2,327.5 58.5,327.7 58.8,328.4 59.0,330.9 59.3,327.7 59.6,329.8 59.8,331.1 60.1,331.9 60.4,328.5 60.6,330.2 60.9,329.8 61.2,328.8 61.4,329.7 61.7,334.8 62.0,331.5 62.2,337.7 62.5,328.1 62.8,327.6 63.0,331.6 63.3,328.2 63.6,330.0 63.8,332.5 64.1,328.5 64.4,328.5 64.6,330.7 64.9,328.9 65.2,329.4 65.5,330.1 65.7,328.7 66.0,326.3 66.3,327.7 66.6,329.8 66.8,328.2 67.1,328.1 67.4,329.7 67.6,330.2 67.9,330.2 68.2,329.8 68.5,327.3 68.7,331.8 69.0,337.2 69.3,328.8 69.6,327.9 69.9,330.0 70.1,327.8 70.4,329.2 70.7,328.7 71.0,326.4 71.2,326.4 71.5,329.3 71.8,327.0 72.1,326.6 72.4,326.7 72.6,330.3 72.9,328.1 73.2,326.0 73.5,327.2 73.8,331.9 74.1,325.2 74.3,325.4 74.6,325.7 74.9,331.8 75.2,328.6 75.5,328.7 75.8,337.2 76.1,326.2 76.3,326.4 76.6,326.9 76.9,326.4 77.2,323.9 77.5,324.3 77.8,324.6 78.1,327.8 78.3,325.7 78.6,323.8 78.9,322.2 79.2,326.3 79.5,322.8 79.8,324.3 80.1,324.6 80.4,322.9 80.7,325.1 81.0,322.7 81.3,324.3 81.5,321.6 81.8,324.3 82.1,323.9 82.4,325.0 82.7,321.3 83.0,322.2 83.3,324.1 83.6,319.4 83.9,321.2 84.2,321.5 84.5,319.9 84.8,320.9 85.1,320.2"/>
<polyline stroke="#ff8000" points="84.8,320.9 85.1,320.2 85.4,320.4 85.7,320.9 86.0,318.7 86.3,319.2 86.6,321.5 86.9,321.3 87.2,318.2 87.5,318.3 87.8,321.5 88.1,317.2 88.4,318.7 88.7,316.6 89.0,317.6 89.3,317.3 89.6,318.7 89.9,317.0 90.2,318.7 90.5,316.7 90.8,316.5 91.1,316.5 91.4,315.1 91.7,316.5 92.0,316.4 92.4,317.3 92.7,316.3 93.0,316.0 93.3,314.5 93.6,314.9 93.9,314.4 94.2,315.7 94.5,314.4 94.8,314.4 95.1,313.4 95.4,314.0 95.8,313.9 96.1,313.6 96.4,313.4 96.7,313.0 97.0,313.7 97.3,313.1 97.6,312.8 98.0,313.3 98.3,312.3 98.6,313.4 98.9,311.7 99.2,311.5 99.5,311.9 99.9,311.6 100.2,312.0 100.5,311.1 100.8,311.7 101.1,311.0 101.5,311.5 101.8,310.5 102.1,310.4 102.4,310.3 102.7,309.4 103.1,310.1 103.4,309.9 103.7,309.3 104.0,309.0 104.4,308.7 104.7,308.7 105.0,308.5 105.3,308.4 105.7,307.9 106.0,307.7 106.3,308.0 106.6,307.5 107.0,307.0 107.3,306.9 107.6,306.7 107.9,306.5 108.3,306.3 108.6,306.7 108.9,305.8 109.3,305.8 109.6,305.8 109.9,305.6 110.3,305.0 110.6,305.0 110.9,304.7 111.3,304.6 111.6,304.1 111.9,304.3 112.3,303.7 112.6,303.6 112.9,303.3 113.3,303.1 113.6,302.9 113.9,302.5 114.3,302.5 114.6,302.3 115.0,301.6 115.3,301.5 115.6,301.4 116.0,301.0 116.3,300.6 116.7,300.5 117.0,300.2 117.3,299.9 117.7,299.7 118.0,299.8 118.4,299.8 118.7,299.1 119.1,298.8 119.4,298.4 119.8,298.4 120.1,298.4 120.5,298.2 120.8,297.9 121.1,297.3 121.5,297.2 121.8,297.1 122.2,296.9 122.5,296.4 122.9,296.5 123.2,296.3 123.6,295.8 124.0,296.0 124.3,295.4 124.7,295.0 125.0,294.8 125.4,294.8 125.7,294.0 126.1,293.9 126.4,293.3 126.8,293.1 127.1,293.2 127.5,292.7 127.9,292.3 128.2,292.1 128.6,291.9 128.9,291.9 129.3,291.3 129.7,291.0 130.0,290.9 130.4,290.7 130.7,290.3 131.1,289.9 131.5,289.5 131.8,289.3 132.2,288.9 132.6,288.7 132.9,288.4 133.3,288.2 133.7,288.0 134.0,287.7 134.4,287.3 134.8,287.0 135.1,286.7 135.5,286.3 135.9,286.3 136.2,285.9 136.6,285.7 137.0,285.2 137.3,284.8 137.7,284.7 138.1,284.6 138.5,284.3 138.8,283.9 139.2,283.9 139.6,283.6 140.0,283.4 140.3,283.2 140.7,282.7 141.1,282.3 141.5,282.5 141.9,282.1 142.2,282.2 142.6,281.9 143.0,281.6 143.4,281.2 143.8,281.1 144.1,281.1 144.5,281.0 144.9,280.5 145.3,280.7 145.7,280.4 146.1,280.1 146.4,280.0 146.8,279.4 147.2,279.4 147.6,280.0 148.0,279.1 148.4,278.8 148.8,278.8 149.2,278.9 149.6,278.4 149.9,278.3 150.3,277.9 150.7,277.9 151.1,278.2 151.5,277.6 151.9,277.2 152.3,277.4 152.7,277.1 153.1,277.0 153.5,276.7 153.9,276.3 154.3,276.1 154.7,275.6 155.1,275.5 155.5,275.2 155.9,275.1 156.3,275.2 156.7,274.9 157.1,274.5 157.5,274.1 157.9,274.3 158.3,273.8 158.7,273.8 159.1,273.2 159.5,273.6 159.9,272.9 160.3,272.7 160.7,272.5 161.1,272.4 161.6,272.4 162.0,271.7 162.4,271.6 162.8,271.4 163.2,271.3 163.6,271.0 164.0,270.6 164.4,270.5 164.9,270.9 165.3,270.6 165.7,270.0 166.1,269.8 166.5,269.4 166.9,269.4 167.4,269.2 167.8,269.0 168.2,268.9 168.6,268.7 169.0,268.7 169.5,268.3 169.9,267.9 170.3,268.0 170.7,267.9 171.1,267.7 171.6,267.3 172.0,267.2 172.4,267.1 172.9,266.8 173.3,266.6 173.7,266.6 174.1,266.7 174.6,266.0 175.0,266.0 175.4,265.5 175.9,265.4 176.3,265.2 176.7,265.1 177.2,264.7 177.6,264.5 178.0,263.9 178.5,264.0 178.9,263.4 179.3,263.4 179.8,263.6 180.2,262.8 180.7,262.7 181.1,262.8 181.5,262.4 182.0,262.1 182.4,261.9 182.9,261.9 183.3,261.3 183.8,261.7 184.2,261.2 184.7,261.3 185.1,260.7 185.5,260.8 186.0,260.4 186.4,260.3 186.9,260.3 187.3,260.0 187.8,260.0 188.3,259.6 188.7,260.1 189.2,259.5 189.6,259.7 190.1,259.3 190.5,259.4 191.0,259.1 191.4,259.1 191.9,259.3 192.4,259.0 192.8,258.5 193.3,258.6 193.7,258.7 194.2,259.0 194.7,258.7 195.1,258.4 195.6,258.7 196.1,258.4 196.5,258.7 197.0,258.3 197.5,258.4 197.9,258.5 198.4,258.8 198.9,258.6 199.3,258.7 199.8,259.1 200.3,258.8 200.8,259.1 201.2,259.3 201.7,259.3 202.2,259.4 202.7,259.7 203.1,259.9 203.6,260.4 204.1,260.4 204.6,260.8 205.1,260.4 205.5,260.6 206.0,261.2 206.5,261.2 207.0,261.6 207.5,261.8 208.0,261.9 208.4,262.4 208.9,262.5 209.4,263.0 209.9,263.7 210.4,263.4 210.9,263.5 211.4,264.5 211.9,265.0 212.4,265.1 212.9,265.3 213.4,265.9 213.8,266.2 214.3,266.4 214.8,267.0 215.3,267.6 215.8,267.9 216.3,268.0 216.8,268.8 217.3,269.2 217.8,269.6 218.3,270.3 218.9,270.6 219.4,270.8 219.9,271.4 220.4,272.5 220.9,272.8 221.4,273.3 221.9,274.0 222.4,274.2 222.9,274.9 223.4,275.7 223.9,276.4 224.5,277.0 225.0,278.1 225.5,278.5 226.0,279.7 226.5,280.1 227.0,281.3 227.6,282.3 228.1,283.0 228.6,284.5 229.1,285.2 229.7,286.4 230.2,287.5 230.7,288.5 231.2,289.7 231.8,290.6 232.3,291.4 232.8,292.7 233.3,294.0 233.9,294.6 234.4,295.8 234.9,296.7 235.5,298.2 236.0,298.7 236.6,300.4 237.1,301.5 237.6,302.4 238.2,303.0 238.7,304.2 239.2,305.8 239.8,305.9 240.3,307.8 240.9,307.9 241.4,309.8 242.0,310.4 242.5,311.1 243.1,315.4 243.6,313.5"/>
<polyline stroke="#ff8000" stroke-width="0.85" points="243.1,315.4 243.6,313.5 244.2,318.0 244.7,315.3 245.3,316.4 245.8,317.4 246.4,316.4 246.9,315.3 247.5,314.5 248.0,325.0 248.6,314.3 249.2,320.8 249.7,316.7 250.3,315.2 250.8,314.1 251.4,317.0 252.0,317.9 252.5,349.3 253.1,316.3 253.7,327.8 254.2,331.4 254.8,320.5 255.4,322.9 255.9,352.4 256.5,322.4 257.1,328.9 257.7,331.0 258.2,340.5 258.8,327.4 259.4,324.1 260.0,334.4 260.6,325.0 261.1,341.1 261.7,334.3 262.3,325.1 262.9,346.9 263.5,328.2 264.1,327.2 264.6,360.3 265.2,331.3 265.8,329.5 266.4,328.5 267.0,336.2 267.6,338.1 268.2,362.3 268.8,336.0 269.4,345.0 270.0,334.2 270.6,330.9 271.2,333.1 271.8,329.4 272.4,363.5 273.0,329.5 273.6,337.8 274.2,329.6 274.8,333.1 275.4,339.5 276.0,339.9 276.6,341.4 277.3,331.6 277.9,336.8 278.5,333.6 279.1,334.8 279.7,334.2 280.3,364.8 280.9,344.2 281.6,334.6 282.2,334.3 282.8,332.1 283.4,346.0 284.1,337.4 284.7,332.8 285.3,346.7 285.9,336.0 286.6,336.0 287.2,334.4 287.8,334.0 288.5,362.2 289.1,332.2 289.7,341.5 290.4,336.9 291.0,334.8 291.7,330.6 292.3,338.2 292.9,333.1 293.6,342.9 294.2,340.5 294.9,363.0 295.5,361.8 296.2,362.2 296.8,334.0 297.5,333.2 298.1,359.4 298.8,328.6 299.4,329.1 300.1,328.3 300.8,326.7 301.4,320.6 302.1,320.0 302.7,320.3"/>
<polyline stroke="#ff8000" points="302.1,320.0 302.7,320.3 303.4,318.2 304.1,317.4 304.7,314.7 305.4,313.0 306.1,313.2 306.7,310.2 307.4,308.6 308.1,307.4 308.8,306.0 309.4,304.4 310.1,302.9 310.8,301.0 311.5,300.2 312.1,298.7 312.8,297.4 313.5,295.3 314.2,294.5 314.9,294.0 315.6,292.9 316.3,292.4 317.0,291.8 317.6,291.5 318.3,291.0 319.0,290.3 319.7,289.9 320.4,289.9 321.1,289.5 321.8,289.1 322.5,288.6 323.2,288.8 323.9,288.7 324.6,288.5 325.4,288.2 326.1,288.4 326.8,288.5 327.5,288.9 328.2,289.1 328.9,289.6 329.6,290.5 330.4,291.2 331.1,292.0 331.8,292.6 332.5,293.8 333.2,295.0 334.0,295.8 334.7,297.3 335.4,299.4 336.2,300.8 336.9,303.4 337.6,305.4 338.4,307.5 339.1,309.8 339.8,312.6 340.6,315.2 341.3,318.4 342.1,321.6 342.8,324.8 343.6,327.8 344.3,330.2 345.0,332.4"/>
<polyline stroke="#008000" stroke-width="0.85" points="48.0,333.7 48.2,335.6 48.5,334.2 48.8,359.9 49.0,346.3 49.3,330.4 49.5,335.3 49.8,332.9 50.0,348.3 50.3,333.5 50.5,340.1 50.8,332.7 51.0,338.1 51.3,340.1 51.5,347.6 51.8,344.1 52.0,345.0 52.3,333.2 52.5,334.4 52.8,333.0 53.1,333.8 53.3,339.5 53.6,339.0 53.8,334.3 54.1,333.6 54.3,340.0 54.6,333.4 54.9,336.9 55.1,333.3 55.4,336.9 55.6,337.3 55.9,332.6 56.2,337.3 56.4,334.9 56.7,334.4 56.9,336.9 57.2,331.1 57.5,334.5 57.7,337.1 58.0,333.9 58.2,337.7 58.5,331.2 58.8,334.6 59.0,335.7 59.3,346.4 59.6,333.0 59.8,342.2 60.1,332.0 60.4,333.2 60.6,336.1 60.9,333.3 61.2,365.0 61.4,336.5 61.7,337.7 62.0,339.0 62.2,365.1 62.5,332.0 62.8,333.1 63.0,333.8 63.3,340.6 63.6,332.5 63.8,335.7 64.1,336.7 64.4,332.7 64.6,341.7 64.9,334.8 65.2,334.0 65.5,336.8 65.7,335.0 66.0,339.4 66.3,334.5 66.6,340.9 66.8,335.5 67.1,348.7 67.4,336.6 67.6,338.5 67.9,336.3 68.2,334.3 68.5,349.7 68.7,338.9 69.0,338.9 69.3,333.7 69.6,334.9 69.9,332.7 70.1,333.6 70.4,334.5 70.7,335.1 71.0,334.5 71.2,330.2 71.5,338.6 71.8,334.0 72.1,336.8 72.4,337.4 72.6,332.3 72.9,334.1 73.2,333.7 73.5,333.4 73.8,335.0 74.1,335.3 74.3,334.8 74.6,332.6 74.9,341.3 75.2,335.1 75.5,334.5 75.8,331.0 76.1,335.7 76.3,339.0 76.6,331.8 76.9,333.4 77.2,333.7 77.5,338.6 77.8,331.8 78.1,334.0 78.3,334.7 78.6,331.8 78.9,336.4 79.2,331.0 79.5,338.0 79.8,336.9 80.1,331.1 80.4,331.1 80.7,330.5 81.0,334.8 81.3,332.1 81.5,333.5 81.8,330.7 82.1,328.7 82.4,333.7 82.7,337.3 83.0,329.1 83.3,333.0 83.6,338.3 83.9,329.3 84.2,328.1 84.5,328.0 84.8,331.3 85.1,334.0 85.4,328.7 85.7,328.1 86.0,325.1 86.3,341.5 86.6,325.9 86.9,331.5 87.2,330.5 87.5,324.5 87.8,326.6 88.1,328.6 88.4,325.1 88.7,325.1 89.0,328.9 89.3,331.2 89.6,323.6 89.9,327.7 90.2,323.1 90.5,331.9 90.8,322.9 91.1,323.4 91.4,322.3 91.7,327.2 92.0,322.0 92.4,321.1 92.7,322.3 93.0,321.8 93.3,322.9 93.6,321.5 93.9,323.0 94.2,320.6 94.5,320.6 94.8,323.3 95.1,320.6"/>
<polyline stroke="#008000" points="94.8,323.3 95.1,320.6 95.4,321.6 95.8,323.2 96.1,321.3 96.4,319.3 96.7,321.6 97.0,319.3 97.3,321.4 97.6,321.9 98.0,319.8 98.3,318.0 98.6,319.3 98.9,319.1 99.2,319.4 99.5,318.7 99.9,318.1 100.2,320.1 100.5,319.9 100.8,317.4 101.1,317.7 101.5,318.5 101.8,318.5 102.1,317.2 102.4,317.8 102.7,317.3 103.1,316.8 103.4,317.0 103.7,316.4 104.0,316.1 104.4,316.3 104.7,316.2 105.0,316.7 105.3,316.5 105.7,315.5 106.0,316.0 106.3,315.9 106.6,315.5 107.0,314.8 107.3,314.9 107.6,314.8 107.9,314.5 108.3,314.2 108.6,314.1 108.9,314.6 109.3,314.0 109.6,313.3 109.9,313.3 110.3,312.9 110.6,313.0 110.9,312.7 111.3,312.4 111.6,312.4 111.9,312.5 112.3,312.0 112.6,311.9 112.9,311.2 113.3,311.1 113.6,311.2 113.9,310.8 114.3,310.5 114.6,310.4 115.0,310.0 115.3,309.6 115.6,309.7 116.0,309.3 116.3,309.0 116.7,308.9 117.0,308.4 117.3,308.5 117.7,308.1 118.0,307.9 118.4,307.6 118.7,307.3 119.1,307.3 119.4,306.6 119.8,306.9 120.1,306.2 120.5,306.1 120.8,305.7 121.1,305.7 121.5,305.3 121.8,304.9 122.2,304.8 122.5,304.3 122.9,304.2 123.2,304.2 123.6,304.0 124.0,303.7 124.3,303.6 124.7,303.4 125.0,303.0 125.4,302.7 125.7,302.5 126.1,302.5 126.4,302.5 126.8,301.9 127.1,301.7 127.5,301.3 127.9,301.0 128.2,300.7 128.6,300.4 128.9,300.6 129.3,300.0 129.7,300.2 130.0,299.5 130.4,299.0 130.7,298.7 131.1,298.8 131.5,298.9 131.8,298.2 132.2,298.1 132.6,297.6 132.9,297.7 133.3,297.3 133.7,297.2 134.0,296.7 134.4,296.5 134.8,296.0 135.1,295.8 135.5,295.6 135.9,295.5 136.2,295.1 136.6,294.4 137.0,294.8 137.3,293.8 137.7,293.8 138.1,293.6 138.5,292.9 138.8,292.9 139.2,292.5 139.6,292.6 140.0,292.0 140.3,291.9 140.7,291.4 141.1,291.3 141.5,291.0 141.9,290.9 142.2,290.7 142.6,290.6 143.0,290.3 143.4,289.8 143.8,289.6 144.1,289.3 144.5,289.3 144.9,288.9 145.3,289.3 145.7,288.5 146.1,288.2 146.4,288.4 146.8,287.9 147.2,288.0 147.6,287.7 148.0,287.4 148.4,287.3 148.8,286.9 149.2,287.0 149.6,286.6 149.9,286.6 150.3,286.1 150.7,286.0 151.1,285.9 151.5,285.6 151.9,285.5 152.3,285.4 152.7,285.0 153.1,284.8 153.5,284.6 153.9,284.4 154.3,284.3 154.7,284.4 155.1,283.8 155.5,283.5 155.9,283.4 156.3,283.2 156.7,282.6 157.1,282.8 157.5,282.5 157.9,282.3 158.3,281.8 158.7,282.3 159.1,281.7 159.5,282.0 159.9,281.7 160.3,281.1 160.7,281.0 161.1,280.7 161.6,280.7 162.0,280.1 162.4,280.3 162.8,280.1 163.2,279.8 163.6,279.7 164.0,279.2 164.4,279.2 164.9,279.4 165.3,279.0 165.7,279.1 166.1,278.5 166.5,278.5 166.9,278.4 167.4,278.1 167.8,277.9 168.2,277.8 168.6,277.6 169.0,277.6 169.5,277.2 169.9,277.3 170.3,277.2 170.7,276.9 171.1,276.7 171.6,276.4 172.0,276.2 172.4,276.1 172.9,275.9 173.3,275.8 173.7,275.6 174.1,275.6 174.6,275.2 175.0,275.1 175.4,274.7 175.9,274.9 176.3,274.9 176.7,274.4 177.2,273.8 177.6,274.2 178.0,274.0 178.5,273.7 178.9,273.3 179.3,273.0 179.8,272.8 180.2,272.9 180.7,272.5 181.1,272.7 181.5,272.7 182.0,272.4 182.4,272.3 182.9,271.7 183.3,272.2 183.8,271.9 184.2,271.7 184.7,271.3 185.1,271.6 185.5,271.3 186.0,271.5 186.4,271.2 186.9,271.0 187.3,271.3 187.8,270.9 188.3,270.9 188.7,271.0 189.2,270.8 189.6,270.8 190.1,270.8 190.5,270.7 191.0,270.5 191.4,270.6 191.9,270.7 192.4,270.4 192.8,270.7 193.3,270.2 193.7,270.7 194.2,270.7 194.7,270.9 195.1,270.8 195.6,270.6 196.1,270.8 196.5,270.8 197.0,271.1 197.5,270.9 197.9,271.3 198.4,271.3 198.9,271.5 199.3,271.2 199.8,271.7 200.3,272.1 200.8,272.0 201.2,272.2 201.7,272.7 202.2,272.9 202.7,273.4 203.1,273.6 203.6,273.8 204.1,274.3 204.6,274.7 205.1,275.0 205.5,275.3 206.0,275.6 206.5,276.2 207.0,276.7 207.5,276.7 208.0,277.7 208.4,278.3 208.9,278.6 209.4,279.2 209.9,280.0 210.4,280.3 210.9,281.0 211.4,281.6 211.9,281.7 212.4,282.7 212.9,283.2 213.4,284.0 213.8,284.1 214.3,284.9 214.8,285.5 215.3,285.7 215.8,286.7 216.3,287.1 216.8,288.2 217.3,288.9 217.8,289.2 218.3,290.2 218.9,290.4 219.4,291.1 219.9,291.9 220.4,292.5 220.9,293.2 221.4,293.9 221.9,294.9 222.4,295.7 222.9,296.3 223.4,297.3 223.9,298.6 224.5,299.0 225.0,300.2 225.5,301.4 226.0,302.4 226.5,303.8 227.0,305.1 227.6,306.7 228.1,308.0 228.6,309.3 229.1,310.2 229.7,311.1 230.2,312.0 230.7,313.8 231.2,315.0 231.8,315.3 232.3,316.0 232.8,316.7 233.3,317.6 233.9,320.1 234.4,320.5 234.9,319.3"/>
<polyline stroke="#008000" stroke-width="0.85" points="234.4,320.5 234.9,319.3 235.5,325.5 236.0,320.3 236.6,320.4 237.1,320.3 237.6,322.1 238.2,328.0 238.7,320.4 239.2,332.3 239.8,327.0 240.3,324.8 240.9,326.4 241.4,325.3 242.0,333.1 242.5,330.1 243.1,327.0 243.6,325.0 244.2,324.4 244.7,324.9 245.3,328.8 245.8,324.2 246.4,323.8 246.9,349.0 247.5,324.8 248.0,333.5 248.6,325.5 249.2,328.7 249.7,328.1 250.3,326.4 250.8,335.1 251.4,326.1 252.0,340.2 252.5,330.1 253.1,332.3 253.7,327.2 254.2,329.5 254.8,331.2 255.4,333.5 255.9,332.5 256.5,329.4 257.1,332.5 257.7,343.3 258.2,336.0 258.8,344.4 259.4,339.8 260.0,340.9 260.6,332.8 261.1,342.0 261.7,342.4 262.3,333.5 262.9,335.5 263.5,332.1 264.1,336.8 264.6,335.3 265.2,341.4 265.8,331.7 266.4,335.5 267.0,334.7 267.6,335.4 268.2,335.8 268.8,337.4 269.4,346.3 270.0,334.4 270.6,337.5 271.2,336.9 271.8,337.9 272.4,338.7 273.0,338.1 273.6,337.2 274.2,336.5 274.8,337.9 275.4,338.4 276.0,344.1 276.6,353.3 277.3,355.4 277.9,338.0 278.5,338.8 279.1,338.5 279.7,335.6 280.3,336.6 280.9,343.1 281.6,346.0 282.2,339.7 282.8,338.5 283.4,336.4 284.1,347.6 284.7,343.5 285.3,338.2 285.9,337.4 286.6,338.2 287.2,340.5 287.8,340.9 288.5,337.1 289.1,346.7 289.7,337.2 290.4,337.0 291.0,334.1 291.7,339.7 292.3,367.3 292.9,336.4 293.6,339.3 294.2,337.9 294.9,332.5 295.5,333.3 296.2,347.3 296.8,335.4 297.5,342.2 298.1,330.2 298.8,341.1 299.4,331.1 300.1,331.4 300.8,329.0 301.4,327.6 302.1,331.5 302.7,327.3"/>
<polyline stroke="#008000" points="302.1,331.5 302.7,327.3 303.4,326.8 304.1,328.1 304.7,326.9 305.4,327.0 306.1,323.9 306.7,323.3 307.4,322.2 308.1,321.8 308.8,320.1 309.4,320.3 310.1,319.0 310.8,317.5 311.5,317.1 312.1,315.9 312.8,314.7 313.5,314.0 314.2,313.0 314.9,312.2 315.6,311.2 316.3,310.5 317.0,309.6 317.6,308.7 318.3,308.0 319.0,307.0 319.7,306.5 320.4,305.5 321.1,304.9 321.8,304.3 322.5,303.3 323.2,303.2 323.9,302.8 324.6,302.3 325.4,302.3 326.1,302.2 326.8,302.3 327.5,302.4 328.2,303.3 328.9,303.4 329.6,304.5 330.4,304.8 331.1,305.8 331.8,307.0 332.5,307.8 333.2,308.8 334.0,310.3 334.7,313.1 335.4,316.0 336.2,318.6 336.9,321.9 337.6,323.8 338.4,326.0 339.1,327.3 339.8,329.0 340.6,330.1 341.3,331.4 342.1,332.5 342.8,333.9 343.6,334.9 344.3,336.5 345.0,337.9"/>
<polyline stroke="#00ff00" stroke-width="0.85" points="48.0,347.6 48.2,357.5 48.5,375.8 48.8,350.8 49.0,348.4 49.3,358.6 49.5,357.1 49.8,348.3 50.0,346.9 50.3,347.6 50.5,349.0 50.8,353.6 51.0,349.0 51.3,356.1 51.5,353.9 51.8,349.2 52.0,357.1 52.3,355.1 52.5,348.9 52.8,349.9 53.1,346.8 53.3,356.7 53.6,346.4 53.8,354.3 54.1,350.7 54.3,350.9 54.6,353.0 54.9,350.3 55.1,359.1 55.4,347.7 55.6,357.6 55.9,350.0 56.2,353.6 56.4,348.1 56.7,350.5 56.9,347.7 57.2,364.6 57.5,350.3 57.7,349.7 58.0,353.1 58.2,359.0 58.5,360.0 58.8,349.2 59.0,353.7 59.3,353.0 59.6,346.7 59.8,348.8 60.1,349.2 60.4,352.9 60.6,353.7 60.9,348.6 61.2,358.0 61.4,364.8 61.7,347.8 62.0,349.2 62.2,349.4 62.5,360.7 62.8,352.0 63.0,350.8 63.3,352.8 63.6,353.1 63.8,351.3 64.1,350.5 64.4,351.1 64.6,357.4 64.9,350.0 65.2,352.9 65.5,352.1 65.7,350.1 66.0,348.7 66.3,353.8 66.6,351.9 66.8,351.4 67.1,355.0 67.4,349.1 67.6,350.5 67.9,349.4 68.2,353.1 68.5,351.5 68.7,349.9 69.0,355.0 69.3,355.5 69.6,375.2 69.9,348.9 70.1,375.2 70.4,349.7 70.7,347.9 71.0,355.1 71.2,357.0 71.5,354.8 71.8,356.1 72.1,345.4 72.4,349.1 72.6,365.1 72.9,358.9 73.2,348.2 73.5,356.9 73.8,349.3 74.1,359.0 74.3,349.3 74.6,353.4 74.9,361.6 75.2,349.1 75.5,348.7 75.8,346.8 76.1,346.8 76.3,363.7 76.6,349.0 76.9,343.7 77.2,348.6 77.5,351.7 77.8,351.2 78.1,345.9 78.3,364.3 78.6,347.0 78.9,345.3 79.2,344.9 79.5,343.4 79.8,347.9 80.1,355.5 80.4,347.3 80.7,343.5 81.0,341.7 81.3,341.0 81.5,343.6 81.8,351.5 82.1,343.3 82.4,343.7 82.7,340.8 83.0,343.9 83.3,354.3 83.6,339.2 83.9,341.1 84.2,348.6 84.5,340.4 84.8,338.4 85.1,339.9 85.4,340.7 85.7,341.6 86.0,342.3 86.3,345.8 86.6,341.6 86.9,349.7 87.2,338.8 87.5,341.9 87.8,338.3 88.1,337.4 88.4,336.6 88.7,337.5 89.0,337.5 89.3,337.0 89.6,336.1 89.9,334.5 90.2,336.0 90.5,335.6 90.8,338.2 91.1,336.5 91.4,339.7 91.7,338.9 92.0,341.2 92.4,334.2 92.7,334.6 93.0,334.0 93.3,337.8 93.6,335.1 93.9,336.8 94.2,334.7 94.5,332.5 94.8,334.3 95.1,333.1 95.4,336.0 95.8,334.0"/>
<polyline stroke="#00ff00" points="95.4,336.0 95.8,334.0 96.1,334.3 96.4,332.9 96.7,335.3 97.0,333.0 97.3,333.8 97.6,334.6 98.0,334.9 98.3,333.6 98.6,334.4 98.9,331.4 99.2,332.2 99.5,332.8 99.9,331.5 100.2,331.8 100.5,330.9 100.8,330.1 101.1,331.4 101.5,331.5 101.8,331.2 102.1,330.2 102.4,330.0 102.7,329.9 103.1,331.3 103.4,329.6 103.7,329.3 104.0,328.6 104.4,328.9 104.7,328.4 105.0,328.5 105.3,328.4 105.7,328.0 106.0,327.6 106.3,327.1 106.6,327.3 107.0,326.9 107.3,327.0 107.6,326.6 107.9,326.7 108.3,326.6 108.6,325.8 108.9,325.9 109.3,325.2 109.6,325.1 109.9,325.1 110.3,324.9 110.6,324.6 110.9,324.3 111.3,324.2 111.6,323.7 111.9,324.0 112.3,323.4 112.6,323.0 112.9,323.0 113.3,322.7 113.6,322.4 113.9,322.4 114.3,322.2 114.6,321.6 115.0,321.6 115.3,321.7 115.6,320.6 116.0,320.5 116.3,320.3 116.7,320.4 117.0,320.0 117.3,319.5 117.7,319.1 118.0,319.0 118.4,318.6 118.7,318.5 119.1,318.0 119.4,317.9 119.8,317.6 120.1,317.3 120.5,317.2 120.8,317.2 121.1,316.6 121.5,316.4 121.8,316.4 122.2,316.0 122.5,315.8 122.9,315.5 123.2,315.1 123.6,314.9 124.0,315.0 124.3,314.7 124.7,314.2 125.0,313.9 125.4,313.9 125.7,313.5 126.1,313.2 126.4,313.0 126.8,312.8 127.1,312.3 127.5,312.2 127.9,312.1 128.2,311.8 128.6,311.7 128.9,311.3 129.3,311.1 129.7,310.7 130.0,311.1 130.4,310.2 130.7,310.2 131.1,310.5 131.5,309.9 131.8,309.8 132.2,309.6 132.6,309.3 132.9,308.6 133.3,308.5 133.7,308.3 134.0,308.1 134.4,307.9 134.8,307.8 135.1,307.7 135.5,307.0 135.9,307.1 136.2,306.9 136.6,306.3 137.0,306.4 137.3,305.9 137.7,305.8 138.1,305.2 138.5,305.3 138.8,304.7 139.2,304.4 139.6,304.6 140.0,304.1 140.3,303.4 140.7,303.4 141.1,303.2 141.5,303.3 141.9,303.0 142.2,302.6 142.6,302.2 143.0,302.0 143.4,301.8 143.8,301.5 144.1,301.4 144.5,301.3 144.9,300.8 145.3,300.7 145.7,300.4 146.1,300.3 146.4,300.3 146.8,299.9 147.2,299.5 147.6,299.4 148.0,299.4 148.4,298.8 148.8,299.1 149.2,298.6 149.6,298.2 149.9,298.4 150.3,297.5 150.7,297.8 151.1,297.7 151.5,297.1 151.9,297.0 152.3,297.0 152.7,296.7 153.1,296.2 153.5,296.4 153.9,296.5 154.3,296.1 154.7,295.8 155.1,295.5 155.5,295.4 155.9,295.0 156.3,295.3 156.7,294.6 157.1,294.6 157.5,294.4 157.9,294.3 158.3,293.9 158.7,293.7 159.1,293.6 159.5,293.4 159.9,293.4 160.3,293.1 160.7,293.1 161.1,292.8 161.6,293.0 162.0,292.4 162.4,292.4 162.8,292.4 163.2,292.1 163.6,292.0 164.0,291.3 164.4,291.4 164.9,291.4 165.3,291.4 165.7,291.2 166.1,291.2 166.5,290.7 166.9,290.9 167.4,291.0 167.8,290.5 168.2,290.0 168.6,290.4 169.0,290.6 169.5,290.0 169.9,290.0 170.3,289.7 170.7,289.5 171.1,289.4 171.6,289.2 172.0,289.3 172.4,289.3 172.9,289.1 173.3,289.2 173.7,288.8 174.1,288.5 174.6,288.5 175.0,288.1 175.4,288.3 175.9,288.3 176.3,288.0 176.7,287.9 177.2,287.4 177.6,287.5 178.0,287.6 178.5,287.2 178.9,287.0 179.3,287.3 179.8,287.0 180.2,287.0 180.7,287.0 181.1,287.2 181.5,286.6 182.0,286.9 182.4,286.5 182.9,286.5 183.3,286.2 183.8,286.3 184.2,285.9 184.7,286.2 185.1,286.1 185.5,285.8 186.0,285.9 186.4,285.7 186.9,285.6 187.3,285.7 187.8,285.8 188.3,285.6 188.7,285.2 189.2,285.4 189.6,285.5 190.1,285.7 190.5,285.8 191.0,285.7 191.4,286.1 191.9,286.0 192.4,286.0 192.8,286.4 193.3,286.3 193.7,286.0 194.2,286.1 194.7,286.4 195.1,286.5 195.6,286.6 196.1,287.0 196.5,287.1 197.0,286.9 197.5,287.4 197.9,287.6 198.4,288.1 198.9,288.5 199.3,288.4 199.8,289.0 200.3,289.4 200.8,289.9 201.2,290.2 201.7,290.8 202.2,291.2 202.7,291.4 203.1,291.9 203.6,292.3 204.1,293.1 204.6,293.2 205.1,293.9 205.5,294.3 206.0,294.4 206.5,294.9 207.0,295.7 207.5,296.1 208.0,296.7 208.4,297.2 208.9,297.7 209.4,298.5 209.9,298.7 210.4,299.6 210.9,299.8 211.4,300.7 211.9,300.9 212.4,302.0 212.9,302.6 213.4,303.1 213.8,303.6 214.3,304.5 214.8,305.0 215.3,306.3 215.8,307.3 216.3,308.5 216.8,309.7 217.3,310.9 217.8,311.9 218.3,313.3 218.9,314.3 219.4,315.3 219.9,316.4 220.4,317.0 220.9,318.0 221.4,318.8 221.9,319.7 222.4,320.5 222.9,320.9 223.4,322.0 223.9,322.5 224.5,323.5 225.0,324.4 225.5,325.2 226.0,325.7 226.5,326.3 227.0,327.5 227.6,328.2 228.1,329.1 228.6,329.8 229.1,330.7 229.7,331.3 230.2,331.8 230.7,332.3 231.2,333.1 231.8,333.7 232.3,333.9 232.8,334.6 233.3,334.9 233.9,335.0 234.4,335.6 234.9,335.8 235.5,336.3 236.0,336.9 236.6,336.9 237.1,336.6 237.6,337.0 238.2,337.4 238.7,337.9 239.2,338.1 239.8,338.3 240.3,339.0 240.9,339.0 241.4,340.0 242.0,340.1 242.5,340.1 243.1,341.0 243.6,340.6 244.2,341.0 244.7,341.7 245.3,341.6 245.8,341.0 246.4,341.3 246.9,342.0 247.5,343.7"/>
<polyline stroke="#00ff00" stroke-width="0.85" points="246.9,342.0 247.5,343.7 248.0,345.2 248.6,343.7 249.2,342.2 249.7,346.2 250.3,344.1 250.8,349.9 251.4,344.2 252.0,344.9 252.5,350.0 253.1,347.0 253.7,359.6 254.2,350.3 254.8,342.7 255.4,356.9 255.9,344.4 256.5,349.4 257.1,366.1 257.7,346.6 258.2,347.6 258.8,349.1 259.4,344.6 260.0,347.9 260.6,355.9 261.1,374.7 261.7,351.4 262.3,353.0 262.9,353.2 263.5,349.6 264.1,358.4 264.6,367.1 265.2,347.7 265.8,351.0 266.4,350.1 267.0,354.2 267.6,351.5 268.2,377.1 268.8,366.4 269.4,350.4 270.0,351.2 270.6,360.1 271.2,351.5 271.8,352.7 272.4,351.2 273.0,349.6 273.6,363.7 274.2,351.7 274.8,353.3 275.4,351.3 276.0,352.9 276.6,351.1 277.3,351.6 277.9,353.8 278.5,355.2 279.1,361.4 279.7,349.0 280.3,362.7 280.9,363.8 281.6,349.6 282.2,376.2 282.8,349.7 283.4,348.2 284.1,358.7 284.7,352.0 285.3,347.3 285.9,348.5 286.6,355.5 287.2,373.6 287.8,356.5 288.5,368.0 289.1,345.3 289.7,353.7 290.4,340.6 291.0,343.2 291.7,343.0 292.3,343.2 292.9,340.7 293.6,343.0 294.2,339.6 294.9,342.0 295.5,338.6"/>
<polyline stroke="#00ff00" points="294.9,342.0 295.5,338.6 296.2,338.4 296.8,338.8 297.5,337.7 298.1,336.7 298.8,335.6 299.4,335.6 300.1,334.8 300.8,334.0 301.4,333.6 302.1,333.4 302.7,332.2 303.4,331.9 304.1,331.3 304.7,330.8 305.4,330.1 306.1,329.5 306.7,329.2 307.4,328.7 308.1,328.4 308.8,327.7 309.4,326.6 310.1,326.3 310.8,325.4 311.5,324.5 312.1,323.8 312.8,323.3 313.5,323.0 314.2,321.8 314.9,321.2 315.6,320.6 316.3,320.5 317.0,319.4 317.6,319.3 318.3,318.8 319.0,318.5 319.7,317.6 320.4,317.6 321.1,317.1 321.8,316.5 322.5,316.1 323.2,315.6 323.9,315.7 324.6,315.5 325.4,315.5 326.1,315.2 326.8,315.8 327.5,316.0 328.2,316.3 328.9,316.7 329.6,317.1 330.4,317.8 331.1,318.4 331.8,319.2 332.5,319.8 333.2,321.4 334.0,322.5 334.7,324.6 335.4,326.6 336.2,329.0 336.9,331.2 337.6,334.2 338.4,336.0 339.1,337.5 339.8,340.0 340.6,342.0 341.3,343.5 342.1,345.5 342.8,347.8 343.6,349.3 344.3,350.9 345.0,353.3"/>
<polyline stroke="#000080" stroke-width="0.85" points="48.0,361.8 48.2,360.6 48.5,363.4 48.8,363.9 49.0,361.4 49.3,360.0 49.5,360.6 49.8,366.7 50.0,364.2 50.3,363.7 50.5,366.8 50.8,366.0 51.0,361.3 51.3,362.4 51.5,366.2 51.8,361.3 52.0,364.1 52.3,361.3 52.5,359.9 52.8,360.3 53.1,363.1 53.3,361.8 53.6,362.0 53.8,362.1 54.1,362.7 54.3,360.5 54.6,362.3 54.9,361.3 55.1,360.2 55.4,360.7 55.6,362.7 55.9,360.5 56.2,359.3"/>
<polyline stroke="#000080" points="55.9,360.5 56.2,359.3 56.4,362.0 56.7,362.6 56.9,366.8 57.2,361.9 57.5,360.9 57.7,360.5 58.0,358.7 58.2,360.2 58.5,362.0 58.8,361.5 59.0,362.7 59.3,360.2 59.6,358.5 59.8,359.3 60.1,357.8 60.4,361.6 60.6,357.9 60.9,362.3 61.2,362.8 61.4,361.8 61.7,360.6 62.0,361.9 62.2,358.7 62.5,359.1 62.8,360.3 63.0,361.6 63.3,359.0 63.6,358.5 63.8,357.2 64.1,359.3 64.4,357.2 64.6,359.3 64.9,360.7 65.2,359.0 65.5,355.2 65.7,358.5 66.0,356.9 66.3,355.7 66.6,358.6 66.8,356.5 67.1,358.7 67.4,360.5 67.6,357.9 67.9,360.1 68.2,358.6 68.5,356.2 68.7,355.9 69.0,358.5 69.3,359.1 69.6,358.0 69.9,355.9 70.1,356.7 70.4,358.1 70.7,356.4 71.0,357.7 71.2,359.5 71.5,357.9 71.8,357.5 72.1,359.5 72.4,357.2 72.6,355.7 72.9,355.7 73.2,355.9 73.5,356.1 73.8,357.9 74.1,356.0 74.3,355.5 74.6,355.0 74.9,355.8 75.2,354.0 75.5,354.6 75.8,355.1 76.1,354.9 76.3,353.4 76.6,355.3 76.9,353.8 77.2,353.6 77.5,355.1 77.8,355.4 78.1,355.1 78.3,354.6 78.6,353.3 78.9,353.2 79.2,354.4 79.5,353.8 79.8,352.9 80.1,353.4 80.4,354.1 80.7,352.9 81.0,353.6 81.3,352.4 81.5,352.5 81.8,353.6 82.1,353.2 82.4,352.8 82.7,352.6 83.0,353.4 83.3,352.1 83.6,351.2 83.9,351.9 84.2,352.2 84.5,352.1 84.8,352.3 85.1,352.4 85.4,351.3 85.7,351.8 86.0,351.4 86.3,351.8 86.6,351.9 86.9,351.2 87.2,350.6 87.5,350.2 87.8,350.8 88.1,350.2 88.4,349.8 88.7,350.3 89.0,349.7 89.3,350.1 89.6,349.2 89.9,349.2 90.2,349.1 90.5,348.8 90.8,348.7 91.1,348.2 91.4,348.3 91.7,348.1 92.0,347.8 92.4,347.7 92.7,347.7 93.0,347.3 93.3,346.8 93.6,346.8 93.9,346.5 94.2,346.1 94.5,346.1 94.8,346.0 95.1,345.1 95.4,345.0 95.8,344.7 96.1,344.6 96.4,344.5 96.7,343.9 97.0,344.0 97.3,343.9 97.6,343.5 98.0,343.3 98.3,343.1 98.6,343.0 98.9,343.1 99.2,342.1 99.5,342.0 99.9,342.0 100.2,341.9 100.5,341.7 100.8,341.2 101.1,341.3 101.5,341.2 101.8,340.3 102.1,340.3 102.4,340.3 102.7,340.3 103.1,339.7 103.4,339.8 103.7,339.5 104.0,339.3 104.4,339.3 104.7,338.9 105.0,338.5 105.3,338.4 105.7,338.1 106.0,337.8 106.3,337.7 106.6,337.6 107.0,337.5 107.3,337.4 107.6,337.0 107.9,336.9 108.3,336.8 108.6,336.4 108.9,336.1 109.3,335.9 109.6,336.0 109.9,335.3 110.3,335.2 110.6,335.1 110.9,334.6 111.3,334.5 111.6,334.1 111.9,334.1 112.3,333.9 112.6,333.7 112.9,333.6 113.3,333.0 113.6,332.7 113.9,333.0 114.3,332.2 114.6,332.1 115.0,331.9 115.3,331.6 115.6,331.3 116.0,331.0 116.3,330.9 116.7,330.4 117.0,330.2 117.3,329.9 117.7,329.6 118.0,329.7 118.4,329.2 118.7,328.6 119.1,328.5 119.4,328.3 119.8,327.9 120.1,327.7 120.5,327.5 120.8,327.6 121.1,326.8 121.5,326.8 121.8,326.3 122.2,326.4 122.5,326.3 122.9,325.6 123.2,325.6 123.6,325.6 124.0,324.8 124.3,324.9 124.7,325.0 125.0,324.3 125.4,324.4 125.7,323.6 126.1,323.9 126.4,323.1 126.8,322.9 127.1,322.8 127.5,322.7 127.9,322.1 128.2,322.0 128.6,321.6 128.9,321.5 129.3,321.5 129.7,321.1 130.0,321.0 130.4,320.8 130.7,320.6 131.1,320.1 131.5,320.1 131.8,319.4 132.2,319.8 132.6,319.6 132.9,319.0 133.3,319.1 133.7,318.7 134.0,318.1 134.4,318.2 134.8,318.1 135.1,317.6 135.5,317.8 135.9,317.6 136.2,317.4 136.6,316.8 137.0,316.8 137.3,317.0 137.7,316.7 138.1,316.3 138.5,316.3 138.8,316.0 139.2,315.8 139.6,315.5 140.0,315.2 140.3,314.9 140.7,315.1 141.1,314.7 141.5,314.2 141.9,313.8 142.2,313.7 142.6,313.5 143.0,313.2 143.4,312.9 143.8,313.1 144.1,312.6 144.5,312.5 144.9,312.2 145.3,311.7 145.7,311.4 146.1,311.1 146.4,311.0 146.8,310.3 147.2,310.4 147.6,310.4 148.0,309.8 148.4,309.5 148.8,309.3 149.2,308.9 149.6,309.0 149.9,309.0 150.3,308.5 150.7,308.4 151.1,307.8 151.5,307.6 151.9,307.3 152.3,307.3 152.7,307.6 153.1,306.9 153.5,307.1 153.9,306.8 154.3,306.3 154.7,306.1 155.1,305.9 155.5,305.6 155.9,305.4 156.3,305.4 156.7,304.9 157.1,305.1 157.5,304.7 157.9,304.8 158.3,304.1 158.7,304.5 159.1,303.8 159.5,303.9 159.9,304.2 160.3,303.6 160.7,303.3 161.1,303.3 161.6,303.4 162.0,303.0 162.4,303.0 162.8,302.8 163.2,302.2 163.6,302.3 164.0,301.8 164.4,301.9 164.9,301.9 165.3,301.5 165.7,301.7 166.1,301.5 166.5,301.2 166.9,301.1 167.4,301.0 167.8,300.9 168.2,300.9 168.6,300.6 169.0,300.4 169.5,300.1 169.9,300.6 170.3,299.9 170.7,299.7 171.1,299.9 171.6,299.7 172.0,299.4 172.4,299.3 172.9,299.5 173.3,299.4 173.7,299.1 174.1,299.0 174.6,299.0 175.0,299.0 175.4,299.0 175.9,298.6 176.3,298.8 176.7,299.2 177.2,298.7 177.6,298.7 178.0,298.7 178.5,298.4 178.9,298.6 179.3,298.3 179.8,298.4 180.2,298.5 180.7,298.2 181.1,298.5 181.5,298.0 182.0,297.8 182.4,297.9 182.9,297.8 183.3,298.0 183.8,298.1 184.2,297.9 184.7,297.6 185.1,297.9 185.5,297.8 186.0,297.7 186.4,298.1 186.9,298.0 187.3,298.1 187.8,297.5 188.3,297.4 188.7,297.6 189.2,297.8 189.6,297.8 190.1,297.6 190.5,298.0 191.0,297.9 191.4,298.5 191.9,298.3 192.4,298.4 192.8,298.4 193.3,298.3 193.7,299.3 194.2,298.8 194.7,299.2 195.1,299.3 195.6,299.6 196.1,300.1 196.5,300.1 197.0,300.6 197.5,301.1 197.9,301.1 198.4,301.5 198.9,302.4 199.3,302.4 199.8,302.9 200.3,303.3 200.8,304.0 201.2,304.1 201.7,304.5 202.2,305.0 202.7,305.4 203.1,305.8 203.6,306.3 204.1,306.7 204.6,307.8 205.1,308.4 205.5,308.9 206.0,309.4 206.5,310.0 207.0,311.0 207.5,311.4 208.0,312.2 208.4,312.8 208.9,313.7 209.4,314.6 209.9,315.1 210.4,315.9 210.9,316.9 211.4,317.8 211.9,318.7 212.4,319.6 212.9,320.4 213.4,321.3 213.8,322.0 214.3,323.3 214.8,323.9 215.3,324.9 215.8,325.7 216.3,326.8 216.8,327.6 217.3,328.4 217.8,329.2 218.3,330.4 218.9,331.0 219.4,331.8 219.9,332.7 220.4,333.7 220.9,334.4 221.4,335.1 221.9,335.7 222.4,336.8 222.9,337.6 223.4,337.7 223.9,339.1 224.5,339.2 225.0,339.8 225.5,340.5 226.0,341.2 226.5,341.9 227.0,342.4 227.6,343.3 228.1,344.0 228.6,344.2 229.1,344.7 229.7,345.4 230.2,345.8 230.7,346.4 231.2,346.5 231.8,347.2 232.3,347.3 232.8,347.7 233.3,347.9 233.9,348.1 234.4,348.8 234.9,348.9 235.5,349.5 236.0,349.6 236.6,350.1 237.1,350.6 237.6,350.6 238.2,350.7 238.7,350.7 239.2,351.2 239.8,351.8 240.3,351.6 240.9,352.3 241.4,352.6 242.0,352.4 242.5,352.9 243.1,353.3 243.6,353.7 244.2,354.0 244.7,354.4 245.3,354.3 245.8,354.6 246.4,355.0 246.9,355.6 247.5,355.3 248.0,355.6 248.6,356.1 249.2,357.3 249.7,357.0 250.3,357.0 250.8,356.7 251.4,357.2 252.0,357.2 252.5,358.5 253.1,358.6 253.7,358.1 254.2,359.3 254.8,359.8 255.4,359.3 255.9,359.0 256.5,361.2 257.1,360.5 257.7,359.8 258.2,361.5 258.8,360.8 259.4,361.7 260.0,361.6 260.6,361.7 261.1,363.2 261.7,362.7 262.3,363.0 262.9,362.5 263.5,363.9 264.1,364.0 264.6,363.2 265.2,364.2 265.8,362.6 266.4,363.6 267.0,363.8 267.6,363.5 268.2,364.7 268.8,363.8 269.4,364.1 270.0,364.1 270.6,364.3 271.2,364.8 271.8,365.1 272.4,365.6 273.0,364.2 273.6,364.7 274.2,364.9 274.8,364.3 275.4,364.4 276.0,363.4 276.6,364.9 277.3,364.1 277.9,364.2 278.5,364.7 279.1,363.2 279.7,364.5 280.3,363.3 280.9,362.4 281.6,362.3 282.2,361.5 282.8,361.6 283.4,360.6 284.1,360.4 284.7,360.3 285.3,359.4 285.9,358.9 286.6,358.6 287.2,357.8 287.8,357.1 288.5,356.8 289.1,356.0 289.7,355.2 290.4,354.4 291.0,353.4 291.7,353.1 292.3,352.0 292.9,351.7 293.6,351.2 294.2,350.5 294.9,350.0 295.5,349.2 296.2,348.5 296.8,347.6 297.5,347.1 298.1,346.4 298.8,345.8 299.4,344.7 300.1,344.4 300.8,343.9 301.4,343.3 302.1,343.1 302.7,342.5 303.4,341.8 304.1,341.3 304.7,340.8 305.4,340.4 306.1,340.1 306.7,339.4 307.4,339.0 308.1,338.3 308.8,337.9 309.4,337.3 310.1,337.2 310.8,336.4 311.5,335.9 312.1,335.6 312.8,334.7 313.5,334.6 314.2,334.0 314.9,333.6 315.6,333.1 316.3,332.6 317.0,331.8 317.6,331.6 318.3,331.1 319.0,330.9 319.7,330.5 320.4,329.9 321.1,329.3 321.8,328.7 322.5,328.4 323.2,327.6 323.9,326.7 324.6,326.6 325.4,326.5 326.1,326.6 326.8,326.6 327.5,326.9 328.2,327.5 328.9,328.0 329.6,328.2 330.4,328.9 331.1,330.4 331.8,330.5 332.5,332.1 333.2,334.1 334.0,336.0 334.7,338.4 335.4,340.6 336.2,343.4 336.9,345.3 337.6,347.6 338.4,349.6 339.1,351.6 339.8,353.2 340.6,355.6 341.3,357.3 342.1,359.6 342.8,361.9 343.6,363.9 344.3,365.7 345.0,367.6"/>
<polyline stroke="#ff8000" stroke-width="0.85" points="48.0,369.5 48.2,371.1 48.5,371.9 48.8,371.9 49.0,372.2 49.3,369.1 49.5,372.7 49.8,371.3 50.0,377.4 50.3,378.3 50.5,371.9 50.8,368.5 51.0,389.0 51.3,384.5 51.5,369.0 51.8,378.2 52.0,376.5 52.3,373.8 52.5,370.1 52.8,370.0 53.1,385.8 53.3,382.6 53.6,377.9 53.8,371.8 54.1,369.0 54.3,372.9 54.6,370.7 54.9,370.4 55.1,372.7 55.4,372.7 55.6,375.6 55.9,379.0 56.2,371.4 56.4,371.2 56.7,371.5 56.9,372.0 57.2,370.8 57.5,367.6 57.7,370.3 58.0,371.7 58.2,375.3 58.5,369.2 58.8,373.3 59.0,371.0 59.3,370.6 59.6,372.8 59.8,368.9 60.1,369.3 60.4,375.7 60.6,370.7 60.9,372.9 61.2,372.6 61.4,370.7 61.7,378.7 62.0,370.1 62.2,370.6 62.5,370.0 62.8,375.6 63.0,381.9 63.3,370.5 63.6,371.1 63.8,386.8 64.1,370.1 64.4,370.4 64.6,370.3 64.9,373.4 65.2,370.9 65.5,371.0 65.7,369.7 66.0,370.0 66.3,368.3 66.6,369.6 66.8,369.3 67.1,376.8 67.4,369.7 67.6,368.6 67.9,369.6 68.2,368.5 68.5,367.1 68.7,367.9 69.0,372.9 69.3,368.9 69.6,366.9 69.9,367.9 70.1,375.0 70.4,379.2 70.7,368.8 71.0,369.7 71.2,366.7 71.5,370.7 71.8,367.4 72.1,363.6 72.4,370.8 72.6,365.5 72.9,366.3 73.2,365.8 73.5,370.7 73.8,367.0 74.1,369.3 74.3,368.2 74.6,369.3 74.9,367.7 75.2,366.3 75.5,366.6 75.8,365.8 76.1,367.9 76.3,369.0 76.6,365.5 76.9,366.3 77.2,364.2 77.5,363.8 77.8,363.9 78.1,362.7 78.3,363.0 78.6,363.2 78.9,361.2 79.2,362.7 79.5,363.3 79.8,362.4 80.1,364.6 80.4,363.2 80.7,364.0 81.0,363.1 81.3,374.4 81.5,380.4 81.8,362.0 82.1,361.2 82.4,369.3 82.7,364.0 83.0,363.0 83.3,361.5 83.6,359.7 83.9,363.7 84.2,361.2 84.5,364.8 84.8,360.9 85.1,360.6 85.4,360.7 85.7,363.8 86.0,360.4 86.3,360.4 86.6,360.9 86.9,363.6 87.2,360.4 87.5,359.7 87.8,360.5 88.1,360.1 88.4,360.1 88.7,367.7 89.0,359.2"/>
<polyline stroke="#ff8000" points="88.7,367.7 89.0,359.2 89.3,359.7 89.6,358.8 89.9,359.3 90.2,358.1 90.5,358.4 90.8,357.7 91.1,357.5 91.4,359.6 91.7,357.3 92.0,357.1 92.4,357.0 92.7,356.5 93.0,355.7 93.3,356.3 93.6,357.8 93.9,358.1 94.2,355.0 94.5,355.4 94.8,356.5 95.1,354.3 95.4,355.0 95.8,354.8 96.1,354.7 96.4,353.5 96.7,353.5 97.0,353.3 97.3,353.0 97.6,352.5 98.0,352.9 98.3,351.7 98.6,351.1 98.9,351.0 99.2,352.0 99.5,350.7 99.9,350.4 100.2,350.3 100.5,349.9 100.8,350.8 101.1,349.8 101.5,349.9 101.8,349.2 102.1,349.5 102.4,348.5 102.7,348.1 103.1,348.0 103.4,347.7 103.7,347.2 104.0,347.1 104.4,346.5 104.7,346.5 105.0,346.5 105.3,346.0 105.7,345.9 106.0,345.9 106.3,345.8 106.6,345.0 107.0,345.1 107.3,345.0 107.6,344.3 107.9,344.5 108.3,344.2 108.6,343.6 108.9,343.2 109.3,343.5 109.6,342.9 109.9,342.9 110.3,342.6 110.6,342.4 110.9,342.1 111.3,341.7 111.6,341.8 111.9,341.6 112.3,341.3 112.6,341.1 112.9,340.9 113.3,340.7 113.6,340.1 113.9,340.1 114.3,340.0 114.6,339.7 115.0,339.9 115.3,339.0 115.6,339.0 116.0,339.1 116.3,338.5 116.7,338.2 117.0,338.2 117.3,337.8 117.7,337.6 118.0,337.3 118.4,336.9 118.7,337.0 119.1,336.3 119.4,336.4 119.8,336.0 120.1,336.1 120.5,335.4 120.8,335.2 121.1,335.0 121.5,334.9 121.8,334.7 122.2,334.7 122.5,333.9 122.9,333.6 123.2,333.7 123.6,333.4 124.0,333.3 124.3,332.6 124.7,332.4 125.0,332.6 125.4,331.7 125.7,332.0 126.1,331.6 126.4,331.4 126.8,330.7 127.1,330.9 127.5,330.8 127.9,330.8 128.2,330.6 128.6,330.2 128.9,329.6 129.3,329.3 129.7,329.2 130.0,329.2 130.4,328.6 130.7,328.6 131.1,328.1 131.5,327.8 131.8,327.9 132.2,327.8 132.6,327.2 132.9,327.4 133.3,326.9 133.7,326.6 134.0,326.3 134.4,326.3 134.8,326.1 135.1,325.9 135.5,326.0 135.9,325.3 136.2,325.3 136.6,325.1 137.0,325.2 137.3,324.5 137.7,324.3 138.1,324.4 138.5,324.1 138.8,323.7 139.2,323.3 139.6,323.4 140.0,323.0 140.3,322.7 140.7,322.4 141.1,322.1 141.5,322.1 141.9,321.7 142.2,321.7 142.6,321.5 143.0,321.4 143.4,320.9 143.8,320.3 144.1,320.3 144.5,320.2 144.9,319.8 145.3,319.7 145.7,319.4 146.1,319.0 146.4,319.4 146.8,318.6 147.2,318.5 147.6,317.9 148.0,317.7 148.4,317.5 148.8,317.7 149.2,316.9 149.6,316.8 149.9,317.0 150.3,316.6 150.7,316.4 151.1,316.0 151.5,315.8 151.9,315.7 152.3,315.5 152.7,315.2 153.1,315.0 153.5,314.7 153.9,314.7 154.3,314.6 154.7,314.1 155.1,314.3 155.5,313.8 155.9,313.6 156.3,313.7 156.7,313.1 157.1,313.1 157.5,312.7 157.9,312.6 158.3,312.4 158.7,312.4 159.1,312.2 159.5,312.0 159.9,311.8 160.3,311.7 160.7,311.6 161.1,311.7 161.6,311.5 162.0,310.7 162.4,311.1 162.8,311.1 163.2,310.5 163.6,310.4 164.0,310.5 164.4,310.0 164.9,309.9 165.3,310.2 165.7,310.2 166.1,309.5 166.5,309.3 166.9,309.1 167.4,308.8 167.8,308.9 168.2,308.9 168.6,308.4 169.0,308.5 169.5,308.5 169.9,308.1 170.3,307.8 170.7,308.0 171.1,307.7 171.6,307.6 172.0,307.4 172.4,307.5 172.9,307.4 173.3,307.2 173.7,307.2 174.1,307.3 174.6,307.1 175.0,307.0 175.4,306.8 175.9,307.1 176.3,307.1 176.7,306.9 177.2,307.0 177.6,307.2 178.0,306.9 178.5,307.0 178.9,306.9 179.3,306.8 179.8,306.8 180.2,306.8 180.7,307.2 181.1,306.5 181.5,306.7 182.0,307.3 182.4,307.0 182.9,306.5 183.3,307.1 183.8,306.5 184.2,306.9 184.7,306.7 185.1,306.6 185.5,307.0 186.0,306.3 186.4,306.7 186.9,306.6 187.3,306.8 187.8,306.5 188.3,306.7 188.7,306.9 189.2,306.8 189.6,307.5 190.1,307.3 190.5,307.1 191.0,307.2 191.4,307.4 191.9,307.9 192.4,307.6 192.8,308.3 193.3,308.2 193.7,308.4 194.2,308.5 194.7,309.0 195.1,308.9 195.6,309.1 196.1,309.3 196.5,309.7 197.0,310.3 197.5,310.7 197.9,310.5 198.4,311.2 198.9,311.8 199.3,312.0 199.8,312.2 200.3,313.2 200.8,313.4 201.2,314.2 201.7,314.4 202.2,314.6 202.7,315.5 203.1,316.0 203.6,316.7 204.1,317.2 204.6,318.1 205.1,319.1 205.5,320.1 206.0,320.5 206.5,321.0 207.0,322.0 207.5,322.8 208.0,323.8 208.4,324.3 208.9,325.2 209.4,325.9 209.9,327.1 210.4,327.5 210.9,328.1 211.4,329.1 211.9,329.9 212.4,330.8 212.9,331.3 213.4,332.1 213.8,332.8 214.3,333.6 214.8,334.6 215.3,335.7 215.8,336.3 216.3,337.1 216.8,338.2 217.3,339.0 217.8,339.9 218.3,340.7 218.9,341.7 219.4,342.7 219.9,343.4 220.4,344.0 220.9,344.9 221.4,345.3 221.9,346.3 222.4,346.9 222.9,347.8 223.4,348.7 223.9,349.1 224.5,349.8 225.0,351.0 225.5,351.5 226.0,351.8 226.5,352.8 227.0,353.3 227.6,353.4 228.1,354.1 228.6,354.6 229.1,355.0 229.7,355.2 230.2,356.1 230.7,356.7 231.2,357.2 231.8,357.4 232.3,357.9 232.8,358.3 233.3,358.4 233.9,359.0 234.4,359.4 234.9,359.7 235.5,360.3 236.0,360.4 236.6,360.8 237.1,361.3 237.6,361.6 238.2,361.9 238.7,362.5 239.2,362.6 239.8,362.3 240.3,363.6 240.9,363.0 241.4,364.4 242.0,363.9 242.5,363.8 243.1,363.6 243.6,370.0 244.2,367.4 244.7,364.8"/>
<polyline stroke="#ff8000" stroke-width="0.85" points="244.2,367.4 244.7,364.8 245.3,363.9 245.8,366.3 246.4,369.2 246.9,365.9 247.5,366.6 248.0,367.0 248.6,367.2 249.2,371.5 249.7,374.0 250.3,368.1 250.8,370.0 251.4,373.8 252.0,369.1 252.5,375.3 253.1,373.1 253.7,368.0 254.2,384.0 254.8,373.7 255.4,368.8 255.9,371.3 256.5,379.6 257.1,369.9 257.7,369.7 258.2,368.5 258.8,367.5 259.4,368.3 260.0,388.2 260.6,394.8 261.1,368.0 261.7,370.0 262.3,372.3 262.9,371.1 263.5,386.3 264.1,391.8 264.6,373.2 265.2,369.6 265.8,371.8 266.4,369.0 267.0,382.8 267.6,370.8 268.2,371.7 268.8,375.2 269.4,405.6 270.0,369.4 270.6,408.9 271.2,370.3 271.8,377.5 272.4,372.0 273.0,372.6 273.6,372.9 274.2,373.7 274.8,372.2 275.4,380.0 276.0,373.2 276.6,378.0 277.3,372.0 277.9,408.6 278.5,370.4 279.1,372.2 279.7,390.3 280.3,371.2 280.9,391.9 281.6,369.7 282.2,374.4 282.8,374.8 283.4,378.5 284.1,370.7 284.7,372.7 285.3,370.6 285.9,405.5 286.6,405.0 287.2,369.0 287.8,364.0 288.5,385.8 289.1,366.0 289.7,365.8 290.4,367.1 291.0,363.8 291.7,362.3 292.3,361.0 292.9,359.6"/>
<polyline stroke="#ff8000" points="292.3,361.0 292.9,359.6 293.6,359.7 294.2,357.7 294.9,357.8 295.5,356.9 296.2,356.8 296.8,354.5 297.5,355.2 298.1,354.2 298.8,353.8 299.4,353.0 300.1,352.1 300.8,352.0 301.4,351.2 302.1,350.3 302.7,349.8 303.4,349.2 304.1,348.8 304.7,348.1 305.4,347.2 306.1,346.7 306.7,346.2 307.4,346.1 308.1,345.9 308.8,345.3 309.4,344.7 310.1,344.7 310.8,344.1 311.5,343.6 312.1,343.4 312.8,342.6 313.5,342.5 314.2,342.2 314.9,341.7 315.6,341.3 316.3,341.0 317.0,340.7 317.6,340.0 318.3,339.1 319.0,339.1 319.7,338.5 320.4,337.7 321.1,337.1 321.8,337.1 322.5,336.5 323.2,336.5 323.9,335.8 324.6,335.5 325.4,335.6 326.1,336.0 326.8,336.1 327.5,336.6 328.2,336.8 328.9,337.1 329.6,338.0 330.4,338.9 331.1,339.7 331.8,341.2 332.5,342.9 333.2,344.7 334.0,346.4 334.7,348.5 335.4,350.4 336.2,352.7 336.9,355.4 337.6,357.9 338.4,360.5 339.1,363.9 339.8,366.3 340.6,367.9 341.3,369.5 342.1,370.7 342.8,371.8 343.6,372.9 344.3,373.6 345.0,374.5"/>
<polyline stroke="#ff00ff" stroke-width="0.85" points="48.0,386.3 48.2,382.9 48.5,386.3 48.8,380.7 49.0,385.3 49.3,381.7 49.5,384.0 49.8,382.6 50.0,383.8 50.3,383.9 50.5,387.0 50.8,383.6 51.0,381.9 51.3,384.1 51.5,387.9 51.8,380.4 52.0,383.6 52.3,381.6 52.5,385.7 52.8,383.9 53.1,382.8 53.3,383.1 53.6,385.1"/>
<polyline stroke="#ff00ff" points="53.3,383.1 53.6,385.1 53.8,379.1 54.1,382.9"/>
<polyline stroke="#ff00ff" stroke-width="0.85" points="53.8,379.1 54.1,382.9 54.3,383.5"/>
<polyline stroke="#ff00ff" points="54.1,382.9 54.3,383.5 54.6,380.5 54.9,381.3 55.1,379.3 55.4,382.8 55.6,380.9 55.9,382.2 56.2,380.4 56.4,381.1 56.7,379.5 56.9,382.3 57.2,382.4 57.5,381.1 57.7,380.8 58.0,382.9 58.2,381.7 58.5,382.4 58.8,380.3 59.0,381.8 59.3,380.2 59.6,378.8 59.8,379.9 60.1,378.9 60.4,379.4 60.6,377.7 60.9,381.9 61.2,380.9 61.4,380.0 61.7,381.8 62.0,379.5 62.2,380.0 62.5,378.7 62.8,377.1 63.0,381.4 63.3,380.3 63.6,380.0 63.8,378.0 64.1,378.9 64.4,380.8 64.6,380.7 64.9,378.9 65.2,378.0 65.5,377.2 65.7,380.5 66.0,378.0 66.3,376.7 66.6,378.8 66.8,378.0 67.1,378.9 67.4,377.7 67.6,377.0 67.9,376.9 68.2,376.9 68.5,377.1 68.7,378.4 69.0,376.2 69.3,375.1 69.6,377.7 69.9,379.8 70.1,377.9 70.4,377.1 70.7,377.3 71.0,376.4 71.2,377.8 71.5,376.6 71.8,377.2 72.1,378.4 72.4,375.0 72.6,376.4 72.9,376.8 73.2,378.8 73.5,375.5 73.8,376.5 74.1,375.6 74.3,376.2 74.6,375.8 74.9,376.0 75.2,375.2 75.5,375.1 75.8,375.0 76.1,375.6 76.3,374.5 76.6,375.1 76.9,374.8 77.2,374.1 77.5,374.6 77.8,374.7 78.1,374.7 78.3,374.1 78.6,373.8 78.9,373.2 79.2,373.9 79.5,374.0 79.8,373.3 80.1,373.4 80.4,373.8 80.7,372.9 81.0,373.0 81.3,372.6 81.5,373.5 81.8,372.5 82.1,372.6 82.4,372.8 82.7,371.7 83.0,372.5 83.3,372.4 83.6,371.7 83.9,372.4 84.2,371.2 84.5,372.0 84.8,371.5 85.1,371.6 85.4,371.7 85.7,370.9 86.0,370.6 86.3,370.8 86.6,370.8 86.9,370.5 87.2,370.1 87.5,370.2 87.8,370.1 88.1,370.3 88.4,369.9 88.7,369.5 89.0,368.9 89.3,369.6 89.6,369.4 89.9,368.9 90.2,368.9 90.5,368.5 90.8,368.6 91.1,368.8 91.4,368.2 91.7,367.9 92.0,367.5 92.4,367.5 92.7,367.5 93.0,367.5 93.3,366.8 93.6,366.7 93.9,366.8 94.2,366.5 94.5,366.2 94.8,366.1 95.1,365.8 95.4,365.6 95.8,365.7 96.1,365.0 96.4,365.1 96.7,364.4 97.0,364.4 97.3,364.3 97.6,363.8 98.0,363.9 98.3,363.6 98.6,363.6 98.9,363.2 99.2,362.9 99.5,362.9 99.9,362.8 100.2,362.1 100.5,362.2 100.8,361.9 101.1,361.8 101.5,361.1 101.8,361.3 102.1,361.2 102.4,360.5 102.7,361.0 103.1,360.4 103.4,360.1 103.7,359.9 104.0,360.0 104.4,359.3 104.7,359.6 105.0,359.2 105.3,358.8 105.7,358.7 106.0,358.2 106.3,358.2 106.6,358.1 107.0,357.6 107.3,357.3 107.6,357.1 107.9,357.4 108.3,356.6 108.6,356.3 108.9,355.7 109.3,355.9 109.6,355.7 109.9,355.7 110.3,355.5 110.6,355.0 110.9,354.8 111.3,355.0 111.6,354.4 111.9,354.4 112.3,354.2 112.6,354.1 112.9,353.5 113.3,353.3 113.6,353.1 113.9,352.7 114.3,352.6 114.6,352.7 115.0,352.1 115.3,352.0 115.6,352.0 116.0,351.6 116.3,351.4 116.7,351.1 117.0,351.0 117.3,350.0 117.7,350.3 118.0,350.0 118.4,349.8 118.7,349.2 119.1,349.4 119.4,349.0 119.8,348.8 120.1,348.7 120.5,348.1 120.8,348.3 121.1,347.6 121.5,347.5 121.8,347.5 122.2,347.3 122.5,347.1 122.9,346.6 123.2,346.3 123.6,346.1 124.0,345.9 124.3,345.6 124.7,345.3 125.0,345.3 125.4,345.0 125.7,344.6 126.1,344.2 126.4,344.3 126.8,343.8 127.1,344.2 127.5,344.0 127.9,343.8 128.2,343.4 128.6,342.8 128.9,342.8 129.3,342.5 129.7,342.1 130.0,342.3 130.4,342.2 130.7,341.8 131.1,341.3 131.5,341.5 131.8,340.9 132.2,341.1 132.6,340.6 132.9,340.6 133.3,339.8 133.7,340.4 134.0,339.4 134.4,339.1 134.8,339.4 135.1,338.8 135.5,338.8 135.9,338.3 136.2,338.5 136.6,338.0 137.0,337.9 137.3,336.9 137.7,337.0 138.1,337.0 138.5,336.5 138.8,336.4 139.2,335.8 139.6,335.9 140.0,335.6 140.3,335.5 140.7,334.9 141.1,335.0 141.5,334.3 141.9,334.7 142.2,334.0 142.6,333.7 143.0,333.7 143.4,333.0 143.8,333.1 144.1,332.6 144.5,332.1 144.9,332.2 145.3,331.8 145.7,331.9 146.1,331.5 146.4,330.9 146.8,331.0 147.2,331.0 147.6,330.5 148.0,329.8 148.4,330.1 148.8,329.3 149.2,329.4 149.6,329.1 149.9,328.9 150.3,328.5 150.7,328.5 151.1,328.3 151.5,328.0 151.9,327.7 152.3,327.8 152.7,327.3 153.1,326.9 153.5,327.1 153.9,326.5 154.3,326.2 154.7,326.6 155.1,326.1 155.5,325.9 155.9,325.8 156.3,325.7 156.7,325.2 157.1,325.1 157.5,325.1 157.9,324.6 158.3,324.8 158.7,323.9 159.1,324.1 159.5,324.1 159.9,323.4 160.3,323.6 160.7,323.6 161.1,323.4 161.6,323.1 162.0,322.7 162.4,322.8 162.8,322.7 163.2,323.1 163.6,322.8 164.0,322.4 164.4,322.6 164.9,322.3 165.3,322.2 165.7,322.2 166.1,322.0 166.5,321.9 166.9,322.1 167.4,321.7 167.8,321.2 168.2,321.5 168.6,321.2 169.0,321.4 169.5,321.2 169.9,321.2 170.3,321.0 170.7,321.1 171.1,321.1 171.6,320.8 172.0,320.8 172.4,321.0 172.9,320.6 173.3,320.5 173.7,320.3 174.1,320.6 174.6,320.1 175.0,320.5 175.4,320.1 175.9,320.6 176.3,320.0 176.7,320.0 177.2,320.0 177.6,320.0 178.0,320.4 178.5,319.9 178.9,319.7 179.3,319.7 179.8,319.7 180.2,320.0 180.7,320.1 181.1,320.2 181.5,319.5 182.0,319.7 182.4,319.7 182.9,320.1 183.3,320.3 183.8,320.2 184.2,320.0 184.7,320.1 185.1,319.9 185.5,320.4 186.0,320.3 186.4,320.4 186.9,320.6 187.3,319.9 187.8,320.7 188.3,320.4 188.7,320.4 189.2,320.1 189.6,320.3 190.1,320.6 190.5,320.8 191.0,320.4 191.4,321.0 191.9,320.7 192.4,320.9 192.8,320.8 193.3,321.5 193.7,321.4 194.2,321.8 194.7,321.8 195.1,322.3 195.6,322.6 196.1,322.7 196.5,322.8 197.0,322.8 197.5,323.4 197.9,323.6 198.4,323.9 198.9,324.4 199.3,324.9 199.8,325.6 200.3,325.8 200.8,326.1 201.2,326.5 201.7,327.2 202.2,327.6 202.7,327.8 203.1,328.6 203.6,329.2 204.1,329.8 204.6,330.4 205.1,330.3 205.5,331.7 206.0,332.2 206.5,332.7 207.0,333.6 207.5,334.5 208.0,335.0 208.4,335.9 208.9,336.2 209.4,337.1 209.9,337.6 210.4,338.9 210.9,339.5 211.4,340.5 211.9,341.1 212.4,342.4 212.9,343.5 213.4,344.3 213.8,345.0 214.3,346.2 214.8,346.8 215.3,347.7 215.8,348.7 216.3,349.9 216.8,351.3 217.3,352.1 217.8,353.3 218.3,354.0 218.9,355.3 219.4,356.4 219.9,356.7 220.4,357.5 220.9,357.6 221.4,358.6 221.9,359.0 222.4,359.5 222.9,360.5 223.4,360.9 223.9,361.1 224.5,361.7 225.0,362.1 225.5,362.7 226.0,363.4 226.5,364.1 227.0,363.9 227.6,364.3 228.1,365.4 228.6,365.6 229.1,366.2 229.7,366.4 230.2,366.6 230.7,367.1 231.2,367.9 231.8,367.7 232.3,367.9 232.8,368.5 233.3,368.9 233.9,369.0 234.4,369.2 234.9,369.5 235.5,369.9 236.0,369.8 236.6,370.0 237.1,371.0 237.6,371.2 238.2,371.0 238.7,371.3 239.2,371.6 239.8,372.0 240.3,372.4 240.9,372.6 241.4,373.2 242.0,373.1 242.5,373.6 243.1,374.4 243.6,374.7 244.2,374.5 244.7,375.2 245.3,375.5 245.8,376.3 246.4,376.7 246.9,376.6 247.5,377.3 248.0,377.1 248.6,377.9 249.2,378.2 249.7,378.5 250.3,378.0 250.8,378.8 251.4,379.1 252.0,379.7 252.5,379.8 253.1,380.6 253.7,380.0 254.2,380.9 254.8,381.2 255.4,381.4 255.9,381.4 256.5,382.5 257.1,382.9 257.7,382.9 258.2,383.1 258.8,383.4 259.4,384.1 260.0,384.5 260.6,385.0 261.1,385.3 261.7,385.7 262.3,385.8 262.9,386.6 263.5,387.4 264.1,387.3 264.6,387.4 265.2,387.8 265.8,388.2 266.4,388.2 267.0,388.0 267.6,388.5 268.2,388.4 268.8,388.6 269.4,388.9 270.0,388.4 270.6,389.3 271.2,389.2 271.8,389.0 272.4,388.9 273.0,388.9 273.6,388.5 274.2,388.1 274.8,388.0 275.4,387.5 276.0,387.0 276.6,386.7 277.3,386.2 277.9,385.7 278.5,385.4 279.1,384.7 279.7,384.7 280.3,383.8 280.9,383.7 281.6,382.6 282.2,382.1 282.8,381.4 283.4,380.4 284.1,380.3 284.7,379.3 285.3,378.3 285.9,378.0 286.6,377.2 287.2,376.5 287.8,375.4 288.5,374.7 289.1,373.8 289.7,372.4 290.4,371.8 291.0,370.8 291.7,370.0 292.3,369.2 292.9,368.2 293.6,367.6 294.2,366.9 294.9,366.2 295.5,365.4 296.2,364.2 296.8,364.1 297.5,363.0 298.1,362.2 298.8,361.9 299.4,361.0 300.1,360.4 300.8,360.0 301.4,359.3 302.1,359.0 302.7,358.2 303.4,357.7 304.1,357.5 304.7,357.3 305.4,356.6 306.1,356.7 306.7,356.1 307.4,356.2 308.1,356.1 308.8,355.6 309.4,355.4 310.1,355.5 310.8,354.9 311.5,355.4 312.1,355.1 312.8,355.0 313.5,354.8 314.2,354.9 314.9,354.5 315.6,354.6 316.3,354.1 317.0,353.6 317.6,353.9 318.3,353.2 319.0,352.2 319.7,352.0 320.4,351.0 321.1,350.7 321.8,349.9 322.5,349.5 323.2,349.1 323.9,348.1 324.6,347.6 325.4,348.0 326.1,347.9 326.8,348.2 327.5,348.5 328.2,349.2 328.9,350.1 329.6,351.3 330.4,352.2 331.1,353.2 331.8,354.5 332.5,356.0 333.2,357.9 334.0,360.5 334.7,363.2 335.4,365.8 336.2,368.0 336.9,370.1 337.6,372.4 338.4,374.6 339.1,376.8 339.8,379.2 340.6,381.4 341.3,383.0 342.1,384.8 342.8,386.3 343.6,387.9 344.3,389.3 345.0,390.7"/>
<polyline stroke="#00ffff" stroke-width="0.85" points="48.0,417.0 48.2,391.1 48.5,394.7 48.8,393.2 49.0,392.3 49.3,395.7 49.5,393.5 49.8,392.0 50.0,386.1 50.3,397.9 50.5,389.6 50.8,388.0 51.0,392.6 51.3,404.6 51.5,390.7 51.8,402.0 52.0,395.7 52.3,394.2 52.5,405.9 52.8,392.2 53.1,396.3 53.3,395.5 53.6,398.6 53.8,396.5 54.1,395.1 54.3,398.2 54.6,395.1 54.9,404.4 55.1,406.4 55.4,394.6 55.6,394.2 55.9,400.4 56.2,392.6 56.4,386.9 56.7,396.2 56.9,391.0 57.2,394.1 57.5,403.5 57.7,391.6 58.0,393.0 58.2,396.2 58.5,393.1 58.8,395.4 59.0,393.7 59.3,398.2 59.6,391.1 59.8,398.6 60.1,388.5 60.4,392.0 60.6,396.9 60.9,391.5 61.2,388.6 61.4,389.4 61.7,391.6 62.0,397.0 62.2,391.8 62.5,387.1 62.8,400.4 63.0,393.0 63.3,395.7 63.6,393.2 63.8,395.6 64.1,389.5 64.4,393.4 64.6,389.4 64.9,395.7 65.2,394.2 65.5,390.3 65.7,391.9 66.0,394.5 66.3,397.4 66.6,389.4 66.8,392.0 67.1,401.3 67.4,387.2 67.6,395.2 67.9,387.6 68.2,394.7 68.5,390.4 68.7,395.8 69.0,391.7 69.3,386.8 69.6,395.2 69.9,390.7 70.1,398.7 70.4,391.6 70.7,399.4 71.0,395.6 71.2,392.6 71.5,389.5 71.8,386.3 72.1,398.1 72.4,387.0 72.6,391.2 72.9,394.3 73.2,389.0 73.5,393.3 73.8,389.9 74.1,390.3 74.3,392.9 74.6,387.7 74.9,388.7 75.2,396.7 75.5,398.3 75.8,390.5 76.1,394.7 76.3,392.7 76.6,384.7 76.9,400.4 77.2,393.3 77.5,387.1 77.8,389.1 78.1,390.5 78.3,398.5 78.6,390.5 78.9,390.3 79.2,398.9 79.5,391.6 79.8,397.5 80.1,399.8 80.4,389.9 80.7,388.4 81.0,394.0 81.3,390.1 81.5,389.6 81.8,386.3 82.1,397.0 82.4,397.8 82.7,395.2 83.0,389.0 83.3,387.1 83.6,389.5 83.9,386.5 84.2,387.0 84.5,385.2 84.8,385.9 85.1,387.5 85.4,386.7 85.7,385.9 86.0,386.4 86.3,388.8 86.6,386.2 86.9,386.0 87.2,392.5 87.5,387.9 87.8,387.1 88.1,390.2 88.4,384.0 88.7,384.6 89.0,385.4"/>
<polyline stroke="#00ffff" points="88.7,384.6 89.0,385.4 89.3,384.0 89.6,383.8 89.9,386.7 90.2,387.1 90.5,384.3 90.8,386.1 91.1,383.1 91.4,384.1 91.7,384.6 92.0,383.8 92.4,383.2 92.7,382.9 93.0,382.5 93.3,382.9 93.6,382.3 93.9,384.0 94.2,385.4 94.5,385.9 94.8,382.9 95.1,380.7 95.4,380.9 95.8,382.6 96.1,379.6 96.4,382.5 96.7,381.2 97.0,381.5 97.3,379.6 97.6,379.0 98.0,381.2 98.3,380.5 98.6,378.8 98.9,378.4 99.2,377.3 99.5,378.7 99.9,377.3 100.2,378.0 100.5,378.2 100.8,377.6 101.1,377.8 101.5,378.0 101.8,376.6 102.1,377.0 102.4,376.6 102.7,376.1 103.1,375.9 103.4,376.4 103.7,375.8 104.0,375.6 104.4,375.4 104.7,375.2 105.0,374.8 105.3,375.1 105.7,374.7 106.0,374.5 106.3,374.1 106.6,373.7 107.0,374.1 107.3,373.5 107.6,372.9 107.9,372.9 108.3,373.1 108.6,372.7 108.9,372.4 109.3,372.2 109.6,372.2 109.9,371.8 110.3,371.5 110.6,371.4 110.9,371.2 111.3,370.7 111.6,370.5 111.9,370.2 112.3,370.2 112.6,370.1 112.9,369.5 113.3,369.6 113.6,369.5 113.9,369.1 114.3,368.9 114.6,368.4 115.0,368.4 115.3,368.1 115.6,368.0 116.0,367.6 116.3,367.6 116.7,367.0 117.0,366.8 117.3,366.5 117.7,366.2 118.0,366.2 118.4,365.6 118.7,365.6 119.1,365.3 119.4,365.3 119.8,364.8 120.1,364.9 120.5,364.5 120.8,364.1 121.1,363.6 121.5,363.8 121.8,363.3 122.2,363.1 122.5,362.7 122.9,362.4 123.2,362.5 123.6,361.9 124.0,362.2 124.3,361.5 124.7,361.4 125.0,361.5 125.4,360.9 125.7,360.8 126.1,360.5 126.4,360.2 126.8,359.9 127.1,359.4 127.5,359.1 127.9,358.9 128.2,358.7 128.6,358.7 128.9,358.4 129.3,358.0 129.7,357.7 130.0,357.3 130.4,357.3 130.7,356.9 131.1,357.0 131.5,356.6 131.8,356.6 132.2,356.3 132.6,355.7 132.9,355.9 133.3,355.5 133.7,355.2 134.0,355.1 134.4,354.8 134.8,354.5 135.1,353.9 135.5,354.1 135.9,353.9 136.2,353.9 136.6,353.0 137.0,353.1 137.3,352.8 137.7,352.6 138.1,352.3 138.5,351.9 138.8,352.3 139.2,351.4 139.6,351.6 140.0,350.8 140.3,351.3 140.7,350.8 141.1,350.7 141.5,350.5 141.9,350.3 142.2,349.7 142.6,349.4 143.0,349.5 143.4,349.0 143.8,349.3 144.1,348.7 144.5,348.3 144.9,348.6 145.3,348.1 145.7,348.1 146.1,347.6 146.4,347.5 146.8,347.4 147.2,347.2 147.6,346.8 148.0,346.8 148.4,346.6 148.8,346.4 149.2,345.9 149.6,345.7 149.9,345.5 150.3,345.2 150.7,345.3 151.1,344.9 151.5,344.9 151.9,344.7 152.3,344.4 152.7,344.0 153.1,344.1 153.5,343.7 153.9,343.6 154.3,343.5 154.7,343.2 155.1,342.9 155.5,342.6 155.9,342.5 156.3,342.6 156.7,342.4 157.1,341.7 157.5,341.7 157.9,341.5 158.3,341.7 158.7,341.2 159.1,341.2 159.5,340.9 159.9,340.9 160.3,340.5 160.7,340.7 161.1,340.4 161.6,340.0 162.0,339.8 162.4,339.7 162.8,339.8 163.2,339.3 163.6,339.2 164.0,339.1 164.4,339.0 164.9,339.0 165.3,338.7 165.7,338.9 166.1,338.7 166.5,338.5 166.9,338.3 167.4,337.9 167.8,337.9 168.2,337.9 168.6,337.9 169.0,337.6 169.5,337.2 169.9,337.7 170.3,337.0 170.7,337.2 171.1,337.0 171.6,336.9 172.0,336.6 172.4,336.4 172.9,336.8 173.3,336.5 173.7,336.1 174.1,336.5 174.6,336.3 175.0,336.5 175.4,336.5 175.9,336.0 176.3,336.9 176.7,336.6 177.2,336.3 177.6,335.7 178.0,336.2 178.5,336.3 178.9,336.1 179.3,336.2 179.8,336.4 180.2,336.2 180.7,336.5 181.1,335.8 181.5,336.3 182.0,336.0 182.4,336.4 182.9,336.1 183.3,336.6 183.8,336.3 184.2,335.9 184.7,336.4 185.1,336.1 185.5,336.6 186.0,336.3 186.4,336.5 186.9,336.3 187.3,336.7 187.8,336.7 188.3,336.6 188.7,336.7 189.2,336.5 189.6,336.8 190.1,336.8 190.5,337.0 191.0,337.1 191.4,337.0 191.9,337.5 192.4,337.7 192.8,337.7 193.3,338.2 193.7,337.8 194.2,338.3 194.7,338.7 195.1,338.9 195.6,339.4 196.1,339.3 196.5,339.8 197.0,340.0 197.5,340.3 197.9,340.7 198.4,341.1 198.9,341.4 199.3,342.0 199.8,342.5 200.3,342.7 200.8,343.4 201.2,344.2 201.7,344.8 202.2,345.4 202.7,346.4 203.1,347.2 203.6,347.3 204.1,348.2 204.6,348.7 205.1,350.2 205.5,350.9 206.0,351.8 206.5,352.3 207.0,353.6 207.5,354.8 208.0,354.9 208.4,356.5 208.9,357.2 209.4,357.7 209.9,359.0 210.4,359.6 210.9,360.3 211.4,361.8 211.9,362.5 212.4,363.4 212.9,364.3 213.4,365.5 213.8,366.4 214.3,367.2 214.8,367.4 215.3,368.1 215.8,369.2 216.3,370.0 216.8,370.9 217.3,371.8 217.8,372.2 218.3,373.1 218.9,374.1 219.4,374.6 219.9,374.9 220.4,375.9 220.9,376.3 221.4,376.7 221.9,377.7 222.4,378.4 222.9,379.2 223.4,379.5 223.9,379.7 224.5,380.5 225.0,380.8 225.5,381.9 226.0,382.3 226.5,382.4 227.0,383.1 227.6,383.5 228.1,383.8 228.6,384.5 229.1,384.8 229.7,385.3 230.2,385.8 230.7,386.0 231.2,386.4 231.8,386.7 232.3,387.0 232.8,387.8 233.3,388.1 233.9,388.3 234.4,389.1 234.9,389.5 235.5,389.6 236.0,390.3 236.6,390.9 237.1,390.9 237.6,391.4 238.2,391.7 238.7,392.2 239.2,392.2 239.8,392.4 240.3,393.3 240.9,393.8 241.4,393.0 242.0,393.7 242.5,395.0 243.1,395.2 243.6,394.7 244.2,396.2 244.7,395.7 245.3,397.4"/>
<polyline stroke="#00ffff" stroke-width="0.85" points="244.7,395.7 245.3,397.4 245.8,394.2 246.4,396.6 246.9,393.2 247.5,397.5 248.0,395.6 248.6,400.4 249.2,397.2 249.7,398.3 250.3,395.2 250.8,400.9 251.4,403.4 252.0,404.4 252.5,401.8 253.1,405.1 253.7,392.4 254.2,397.6 254.8,393.8 255.4,396.8 255.9,398.2 256.5,413.0 257.1,400.7 257.7,406.9 258.2,400.8 258.8,409.7 259.4,402.5 260.0,397.5 260.6,397.2 261.1,404.3 261.7,401.7 262.3,404.4 262.9,421.5 263.5,419.7 264.1,397.5 264.6,424.8 265.2,393.1 265.8,425.2 266.4,401.5 267.0,403.0 267.6,397.4 268.2,403.2 268.8,400.3 269.4,404.1 270.0,404.3 270.6,401.3 271.2,399.1 271.8,411.7 272.4,406.3 273.0,405.0 273.6,402.5 274.2,405.0 274.8,404.1 275.4,417.7 276.0,425.7 276.6,402.6 277.3,410.0 277.9,415.2 278.5,407.5 279.1,398.7 279.7,421.9 280.3,402.3 280.9,395.0 281.6,398.9 282.2,396.6 282.8,391.7 283.4,399.2 284.1,400.5 284.7,392.9 285.3,393.2"/>
<polyline stroke="#00ffff" points="284.7,392.9 285.3,393.2 285.9,389.5 286.6,388.6 287.2,389.8 287.8,386.3 288.5,385.3 289.1,385.2 289.7,384.5 290.4,383.3 291.0,382.5 291.7,381.7 292.3,381.0 292.9,380.7 293.6,379.6 294.2,378.8 294.9,378.0 295.5,377.9 296.2,377.3 296.8,376.4 297.5,376.0 298.1,375.4 298.8,375.0 299.4,374.3 300.1,373.9 300.8,373.3 301.4,373.1 302.1,372.3 302.7,372.0 303.4,371.1 304.1,371.0 304.7,370.3 305.4,370.1 306.1,370.3 306.7,370.3 307.4,370.0 308.1,370.1 308.8,369.8 309.4,370.1 310.1,370.4 310.8,370.1 311.5,370.2 312.1,370.4 312.8,370.8 313.5,370.7 314.2,370.1 314.9,370.2 315.6,370.4 316.3,370.4 317.0,370.2 317.6,369.9 318.3,369.6 319.0,369.1 319.7,368.5 320.4,367.9 321.1,367.6 321.8,367.0 322.5,366.1 323.2,365.8 323.9,365.2 324.6,365.0 325.4,365.0 326.1,364.7 326.8,365.0 327.5,365.0 328.2,366.1 328.9,366.9 329.6,367.9 330.4,368.7 331.1,369.9 331.8,371.3 332.5,373.3 333.2,375.6 334.0,377.8 334.7,380.3 335.4,382.4 336.2,384.4 336.9,386.3 337.6,388.3 338.4,390.0 339.1,392.3 339.8,393.5 340.6,394.5 341.3,396.2 342.1,397.9 342.8,397.1 343.6,400.0"/>
<polyline stroke="#00ffff" stroke-width="0.85" points="342.8,397.1 343.6,400.0 344.3,400.8 345.0,399.5"/>
<polyline stroke="#0000ff" stroke-width="0.85" points="48.0,397.5 48.2,409.1 48.5,401.1 48.8,396.4 49.0,414.9 49.3,394.1 49.5,409.5 49.8,395.4 50.0,407.3 50.3,402.4 50.5,395.8 50.8,400.6 51.0,410.0 51.3,422.3 51.5,396.1 51.8,408.0 52.0,406.1 52.3,405.7 52.5,407.4 52.8,422.2 53.1,406.5 53.3,394.9 53.6,393.9 53.8,411.6 54.1,410.5 54.3,410.3 54.6,417.1 54.9,403.1 55.1,403.8 55.4,398.7 55.6,399.7 55.9,399.1 56.2,395.6 56.4,403.2 56.7,398.2 56.9,411.5 57.2,410.6 57.5,401.9 57.7,402.2 58.0,397.8 58.2,396.7 58.5,399.6 58.8,393.0 59.0,401.5 59.3,394.8 59.6,399.9 59.8,393.5 60.1,400.9 60.4,396.5 60.6,398.4 60.9,408.2 61.2,410.0 61.4,396.9 61.7,395.3 62.0,420.9 62.2,400.4 62.5,395.7 62.8,420.5 63.0,400.7 63.3,403.1 63.6,400.6 63.8,407.8 64.1,407.4 64.4,399.4 64.6,400.9 64.9,395.5 65.2,399.6 65.5,406.4 65.7,401.8 66.0,397.8 66.3,409.6 66.6,406.8 66.8,400.1 67.1,415.3 67.4,400.3 67.6,397.9 67.9,393.7 68.2,403.6 68.5,401.7 68.7,408.0 69.0,395.8 69.3,400.8 69.6,404.9 69.9,404.6 70.1,401.7 70.4,395.4 70.7,398.0 71.0,420.2 71.2,411.7 71.5,403.0 71.8,406.4 72.1,404.7 72.4,402.6 72.6,419.9 72.9,408.3 73.2,399.2 73.5,404.0 73.8,404.9 74.1,395.3 74.3,397.2 74.6,399.3 74.9,400.5 75.2,407.6 75.5,397.1 75.8,401.2 76.1,398.6 76.3,401.9 76.6,390.7 76.9,396.5 77.2,397.7 77.5,397.7 77.8,392.3 78.1,397.6 78.3,398.7 78.6,396.3 78.9,400.0 79.2,399.4 79.5,395.5 79.8,395.7 80.1,392.0 80.4,397.6 80.7,414.5 81.0,397.5 81.3,407.2 81.5,396.1 81.8,403.2 82.1,393.7 82.4,399.9 82.7,419.0 83.0,398.0 83.3,401.0 83.6,400.7 83.9,390.5 84.2,391.9 84.5,408.1 84.8,398.3 85.1,396.0 85.4,394.6 85.7,394.6 86.0,395.4 86.3,392.9 86.6,398.2 86.9,396.0 87.2,388.4 87.5,394.1 87.8,396.3 88.1,402.0 88.4,392.1 88.7,389.6 89.0,400.0 89.3,396.9 89.6,396.2 89.9,392.7 90.2,389.1 90.5,393.7 90.8,392.9 91.1,392.2 91.4,403.1 91.7,404.5 92.0,393.0 92.4,397.9 92.7,392.4 93.0,391.7 93.3,390.1 93.6,398.8 93.9,392.6 94.2,399.9 94.5,390.3 94.8,405.9 95.1,395.5 95.4,391.5 95.8,389.1 96.1,393.2 96.4,391.1 96.7,393.9 97.0,387.1 97.3,390.7 97.6,393.5 98.0,389.1 98.3,390.9 98.6,394.1 98.9,389.0 99.2,386.5 99.5,392.5 99.9,390.2 100.2,391.6 100.5,390.2"/>
<polyline stroke="#0000ff" points="100.2,391.6 100.5,390.2 100.8,388.0 101.1,392.1 101.5,388.7 101.8,390.0 102.1,388.5 102.4,390.8 102.7,388.4 103.1,388.1 103.4,388.9 103.7,388.0 104.0,388.5 104.4,387.6 104.7,388.0 105.0,388.1 105.3,387.5 105.7,387.4 106.0,388.4 106.3,387.8 106.6,386.3 107.0,387.8 107.3,386.1 107.6,386.9 107.9,387.6 108.3,386.0 108.6,385.5 108.9,385.7 109.3,386.7 109.6,385.9 109.9,385.5 110.3,384.9 110.6,384.5 110.9,385.9 111.3,385.1 111.6,384.5 111.9,384.8 112.3,384.4 112.6,384.8 112.9,383.6 113.3,383.6 113.6,384.7 113.9,383.4 114.3,382.7 114.6,383.1 115.0,383.1 115.3,382.5 115.6,382.2 116.0,382.2 116.3,381.9 116.7,381.9 117.0,381.4 117.3,381.3 117.7,380.9 118.0,380.6 118.4,379.8 118.7,380.3 119.1,380.4 119.4,379.6 119.8,380.1 120.1,379.0 120.5,379.3 120.8,378.7 121.1,379.0 121.5,378.3 121.8,377.9 122.2,377.9 122.5,377.8 122.9,377.3 123.2,377.3 123.6,377.3 124.0,376.8 124.3,376.9 124.7,376.1 125.0,376.4 125.4,376.0 125.7,375.8 126.1,376.1 126.4,375.3 126.8,375.1 127.1,375.0 127.5,374.1 127.9,374.4 128.2,373.9 128.6,373.9 128.9,373.4 129.3,373.5 129.7,373.2 130.0,372.9 130.4,372.5 130.7,372.4 131.1,372.0 131.5,372.0 131.8,371.8 132.2,371.6 132.6,371.2 132.9,370.4 133.3,370.7 133.7,370.1 134.0,370.1 134.4,369.7 134.8,369.3 135.1,369.1 135.5,368.9 135.9,368.4 136.2,368.0 136.6,367.8 137.0,367.6 137.3,367.1 137.7,366.5 138.1,366.1 138.5,365.9 138.8,365.0 139.2,365.1 139.6,364.9 140.0,364.7 140.3,364.1 140.7,363.9 141.1,363.6 141.5,363.7 141.9,362.9 142.2,362.9 142.6,362.7 143.0,362.6 143.4,362.5 143.8,362.2 144.1,361.8 144.5,361.4 144.9,361.3 145.3,360.8 145.7,360.9 146.1,360.6 146.4,360.2 146.8,359.9 147.2,359.9 147.6,359.7 148.0,359.3 148.4,359.0 148.8,359.1 149.2,358.3 149.6,358.6 149.9,358.6 150.3,358.4 150.7,358.2 151.1,357.7 151.5,357.3 151.9,357.1 152.3,357.1 152.7,357.0 153.1,356.4 153.5,356.6 153.9,356.4 154.3,356.4 154.7,356.2 155.1,355.6 155.5,356.0 155.9,355.5 156.3,355.2 156.7,354.8 157.1,355.0 157.5,355.3 157.9,354.6 158.3,354.4 158.7,354.0 159.1,353.9 159.5,354.0 159.9,353.8 160.3,353.6 160.7,353.6 161.1,353.4 161.6,353.4 162.0,353.3 162.4,352.9 162.8,352.9 163.2,352.9 163.6,352.6 164.0,352.7 164.4,352.5 164.9,352.6 165.3,352.6 165.7,352.3 166.1,352.0 166.5,351.8 166.9,351.6 167.4,351.6 167.8,351.4 168.2,351.4 168.6,351.3 169.0,351.2 169.5,351.6 169.9,351.0 170.3,350.6 170.7,350.6 171.1,350.3 171.6,350.4 172.0,350.3 172.4,350.4 172.9,350.3 173.3,350.5 173.7,350.2 174.1,350.0 174.6,350.3 175.0,350.0 175.4,349.8 175.9,349.8 176.3,349.5 176.7,349.5 177.2,349.9 177.6,349.6 178.0,349.3 178.5,349.7 178.9,349.2 179.3,349.5 179.8,349.9 180.2,349.3 180.7,349.2 181.1,349.1 181.5,349.6 182.0,349.3 182.4,349.6 182.9,349.7 183.3,349.5 183.8,349.3 184.2,349.6 184.7,349.3 185.1,349.6 185.5,349.5 186.0,349.3 186.4,349.2 186.9,349.6 187.3,349.2 187.8,349.7 188.3,349.4 188.7,349.4 189.2,349.5 189.6,349.5 190.1,350.0 190.5,349.6 191.0,350.0 191.4,350.3 191.9,350.3 192.4,350.4 192.8,350.6 193.3,351.0 193.7,351.0 194.2,351.5 194.7,351.8 195.1,351.8 195.6,351.9 196.1,352.0 196.5,352.1 197.0,352.9 197.5,353.1 197.9,353.4 198.4,353.5 198.9,354.4 199.3,355.0 199.8,354.9 200.3,355.4 200.8,356.1 201.2,356.5 201.7,356.4 202.2,357.4 202.7,358.5 203.1,358.7 203.6,359.1 204.1,359.9 204.6,360.2 205.1,360.8 205.5,361.3 206.0,362.1 206.5,362.8 207.0,363.7 207.5,364.4 208.0,364.7 208.4,365.3 208.9,366.2 209.4,367.3 209.9,367.7 210.4,368.1 210.9,369.1 211.4,369.9 211.9,370.9 212.4,371.7 212.9,372.7 213.4,373.3 213.8,373.8 214.3,374.8 214.8,376.0 215.3,376.4 215.8,377.2 216.3,378.3 216.8,379.1 217.3,380.0 217.8,380.8 218.3,381.6 218.9,382.5 219.4,383.8 219.9,384.1 220.4,385.2 220.9,385.5 221.4,386.6 221.9,387.4 222.4,388.8 222.9,388.7 223.4,390.5 223.9,391.5 224.5,391.1 225.0,392.7 225.5,392.5 226.0,392.6 226.5,392.6 227.0,393.9"/>
<polyline stroke="#0000ff" stroke-width="0.85" points="226.5,392.6 227.0,393.9 227.6,393.6 228.1,397.8 228.6,394.1 229.1,392.1 229.7,394.8 230.2,397.9 230.7,394.1 231.2,397.2 231.8,399.3 232.3,395.5 232.8,396.8 233.3,403.7 233.9,419.9 234.4,398.4 234.9,408.3 235.5,400.0 236.0,402.7 236.6,396.0 237.1,393.0 237.6,391.7 238.2,398.7 238.7,421.1 239.2,407.3 239.8,405.1 240.3,404.3 240.9,397.6 241.4,402.0 242.0,395.2 242.5,403.9 243.1,396.8 243.6,419.2 244.2,395.0 244.7,394.2 245.3,421.5 245.8,422.2 246.4,405.4 246.9,403.3 247.5,401.6 248.0,422.4 248.6,422.4 249.2,399.9 249.7,407.2 250.3,397.7 250.8,395.5 251.4,396.0 252.0,406.8 252.5,394.7 253.1,414.4 253.7,393.2 254.2,405.4 254.8,398.6 255.4,397.1 255.9,422.6 256.5,395.7 257.1,395.6 257.7,414.8 258.2,402.9 258.8,408.1 259.4,419.5 260.0,401.0 260.6,400.5 261.1,403.0 261.7,410.3 262.3,415.8 262.9,399.9 263.5,422.9 264.1,404.2 264.6,408.7 265.2,423.1 265.8,405.7 266.4,413.0 267.0,405.7 267.6,400.0 268.2,399.8 268.8,422.6 269.4,410.0 270.0,402.7 270.6,423.0 271.2,393.0 271.8,405.4 272.4,402.8 273.0,400.9 273.6,423.2 274.2,417.3 274.8,402.7 275.4,398.5 276.0,417.4 276.6,403.0 277.3,409.1 277.9,400.8 278.5,396.0 279.1,401.2 279.7,391.8 280.3,403.2 280.9,394.6 281.6,404.7 282.2,408.0 282.8,408.4 283.4,422.3 284.1,406.2 284.7,402.8 285.3,398.0 285.9,408.7 286.6,396.4 287.2,402.6 287.8,407.9 288.5,395.9 289.1,393.5 289.7,399.7 290.4,398.9 291.0,395.3"/>
<polyline stroke="#0000ff" points="290.4,398.9 291.0,395.3 291.7,393.9 292.3,393.2 292.9,392.8 293.6,393.7 294.2,390.9 294.9,391.2 295.5,390.7 296.2,389.9 296.8,389.1 297.5,388.9 298.1,387.9 298.8,387.3 299.4,387.1 300.1,386.9 300.8,386.5 301.4,386.5 302.1,386.2 302.7,386.1 303.4,385.5 304.1,385.6 304.7,385.8 305.4,385.3 306.1,384.8 306.7,385.1 307.4,385.1 308.1,384.6 308.8,384.9 309.4,384.7 310.1,384.7 310.8,385.0 311.5,384.4 312.1,384.9 312.8,384.7 313.5,384.7 314.2,384.7 314.9,384.6 315.6,384.2 316.3,384.3 317.0,384.4 317.6,384.2 318.3,383.5 319.0,382.5 319.7,382.7 320.4,382.1 321.1,381.0 321.8,380.1 322.5,379.6 323.2,379.6 323.9,379.3 324.6,379.0 325.4,378.5 326.1,378.5 326.8,378.7 327.5,379.1 328.2,379.1 328.9,380.3 329.6,381.4 330.4,382.8 331.1,382.8 331.8,383.8 332.5,385.8 333.2,387.1 334.0,389.5 334.7,390.5 335.4,392.9 336.2,395.0 336.9,397.0 337.6,398.7 338.4,401.8 339.1,402.6 339.8,403.2 340.6,406.0 341.3,405.5 342.1,406.4"/>
<polyline stroke="#0000ff" stroke-width="0.85" points="341.3,405.5 342.1,406.4 342.8,406.3 343.6,405.7 344.3,406.6 345.0,406.4"/>
<polyline stroke="#00ff00" stroke-width="0.85" points="48.0,409.0 48.2,407.2 48.5,406.6 48.8,404.4 49.0,418.2 49.3,412.4 49.5,404.2 49.8,413.2 50.0,405.7 50.3,409.2 50.5,407.1 50.8,406.1 51.0,415.7 51.3,408.7 51.5,422.5 51.8,415.7 52.0,405.7 52.3,406.5 52.5,418.9 52.8,407.2 53.1,408.1 53.3,406.1 53.6,406.1 53.8,405.3 54.1,404.5 54.3,422.4 54.6,408.1 54.9,406.5 55.1,410.2 55.4,422.4 55.6,406.5 55.9,406.3 56.2,408.4 56.4,405.7 56.7,406.4 56.9,405.7 57.2,405.4 57.5,403.9 57.7,404.5 58.0,411.9 58.2,413.1 58.5,410.5 58.8,417.2 59.0,406.0 59.3,404.5 59.6,413.3 59.8,406.7 60.1,406.4 60.4,410.2 60.6,422.4 60.9,402.2 61.2,412.9 61.4,403.3 61.7,421.8 62.0,406.1 62.2,421.7 62.5,405.5 62.8,409.6 63.0,405.8 63.3,416.4 63.6,404.9 63.8,418.2 64.1,403.7 64.4,411.2 64.6,404.1 64.9,418.3 65.2,410.9 65.5,405.5 65.7,404.0 66.0,406.5 66.3,403.3 66.6,408.9 66.8,405.7 67.1,410.0 67.4,406.1 67.6,403.5 67.9,407.0 68.2,403.0 68.5,407.0 68.7,412.6 69.0,413.0 69.3,411.3 69.6,406.8 69.9,403.4 70.1,410.3 70.4,403.3 70.7,404.9 71.0,408.2 71.2,406.9 71.5,404.6 71.8,405.1 72.1,411.2 72.4,420.6 72.6,405.0 72.9,403.0 73.2,405.3 73.5,403.7 73.8,403.7 74.1,404.5 74.3,404.0 74.6,403.2 74.9,404.9 75.2,413.8 75.5,411.4 75.8,411.4 76.1,404.9 76.3,404.6 76.6,408.1 76.9,401.2 77.2,404.4 77.5,408.2 77.8,409.2 78.1,408.3 78.3,401.1 78.6,407.3 78.9,402.8 79.2,405.2 79.5,403.9 79.8,401.9 80.1,414.1 80.4,404.2 80.7,411.3 81.0,404.0 81.3,405.6 81.5,404.0 81.8,401.9 82.1,407.7 82.4,404.0 82.7,403.9 83.0,403.4 83.3,407.0 83.6,406.4 83.9,409.0 84.2,409.3 84.5,402.3 84.8,403.6 85.1,402.8 85.4,401.8 85.7,408.1 86.0,407.6 86.3,419.0 86.6,403.9 86.9,409.1 87.2,409.1 87.5,404.2 87.8,412.0 88.1,402.9 88.4,403.2 88.7,401.6 89.0,401.2 89.3,405.2 89.6,399.7 89.9,412.8 90.2,406.6 90.5,418.2 90.8,404.9 91.1,404.9 91.4,405.9 91.7,410.3 92.0,401.5 92.4,415.6 92.7,401.9 93.0,402.9 93.3,401.4 93.6,402.6 93.9,400.3 94.2,403.9 94.5,402.4 94.8,405.9 95.1,406.3 95.4,403.4 95.8,410.5 96.1,404.9 96.4,417.3 96.7,402.0 97.0,405.5 97.3,403.1 97.6,400.7 98.0,399.7 98.3,403.2 98.6,405.4 98.9,399.9 99.2,403.3 99.5,402.6 99.9,400.9 100.2,404.4 100.5,401.3 100.8,400.2 101.1,401.0 101.5,400.1 101.8,406.2 102.1,400.5 102.4,400.4 102.7,402.6 103.1,399.5 103.4,400.7 103.7,401.0 104.0,404.4 104.4,400.9 104.7,399.0 105.0,399.2 105.3,401.5 105.7,398.3 106.0,399.4 106.3,397.3 106.6,397.7 107.0,397.0"/>
<polyline stroke="#00ff00" points="106.6,397.7 107.0,397.0 107.3,396.8 107.6,399.0 107.9,396.6 108.3,397.3 108.6,397.7 108.9,396.5 109.3,395.8 109.6,395.7 109.9,396.8 110.3,395.1 110.6,396.3 110.9,394.4 111.3,394.1 111.6,394.3 111.9,395.5 112.3,394.4 112.6,395.0 112.9,393.8 113.3,393.4 113.6,393.7 113.9,395.6 114.3,392.9 114.6,392.7 115.0,392.3 115.3,394.1 115.6,392.3 116.0,392.4 116.3,392.0 116.7,391.3 117.0,391.1 117.3,392.0 117.7,391.8 118.0,391.3 118.4,392.6 118.7,390.9 119.1,389.9 119.4,391.8 119.8,391.7 120.1,390.8 120.5,390.0 120.8,390.7 121.1,389.7 121.5,390.1 121.8,389.6 122.2,389.4 122.5,389.1 122.9,389.6 123.2,388.6 123.6,388.5 124.0,388.4 124.3,388.0 124.7,388.6 125.0,388.4 125.4,387.6 125.7,387.7 126.1,387.1 126.4,387.4 126.8,387.2 127.1,387.6 127.5,386.6 127.9,386.3 128.2,386.1 128.6,386.0 128.9,385.9 129.3,385.9 129.7,386.2 130.0,385.8 130.4,385.8 130.7,385.5 131.1,384.9 131.5,384.8 131.8,384.6 132.2,384.2 132.6,384.2 132.9,384.0 133.3,384.0 133.7,383.4 134.0,383.9 134.4,383.2 134.8,383.2 135.1,382.6 135.5,382.5 135.9,382.3 136.2,381.9 136.6,382.6 137.0,381.7 137.3,381.1 137.7,381.2 138.1,381.1 138.5,380.7 138.8,380.4 139.2,380.4 139.6,379.7 140.0,379.2 140.3,379.4 140.7,379.0 141.1,379.0 141.5,378.7 141.9,378.5 142.2,378.8 142.6,378.3 143.0,378.2 143.4,377.3 143.8,377.4 144.1,377.3 144.5,377.1 144.9,376.3 145.3,376.3 145.7,376.4 146.1,375.6 146.4,375.8 146.8,375.7 147.2,375.1 147.6,374.5 148.0,374.8 148.4,374.8 148.8,374.6 149.2,374.2 149.6,374.0 149.9,374.4 150.3,373.7 150.7,373.5 151.1,373.4 151.5,373.1 151.9,373.8 152.3,372.9 152.7,373.0 153.1,372.5 153.5,372.2 153.9,372.3 154.3,372.9 154.7,371.9 155.1,371.7 155.5,371.9 155.9,371.1 156.3,371.5 156.7,371.5 157.1,370.8 157.5,370.9 157.9,370.7 158.3,370.6 158.7,370.7 159.1,370.7 159.5,370.1 159.9,370.5 160.3,370.0 160.7,369.6 161.1,370.7 161.6,369.8 162.0,369.5 162.4,369.7 162.8,369.3 163.2,368.7 163.6,369.4 164.0,368.8 164.4,368.6 164.9,369.4 165.3,369.2 165.7,369.0 166.1,369.1 166.5,368.6 166.9,368.0 167.4,367.9 167.8,367.9 168.2,367.6 168.6,367.6 169.0,367.3 169.5,368.0 169.9,367.3 170.3,367.6 170.7,367.1 171.1,366.9 171.6,366.9 172.0,366.7 172.4,366.3 172.9,366.8 173.3,366.8 173.7,367.5 174.1,366.9 174.6,366.5 175.0,366.4 175.4,366.4 175.9,366.1 176.3,366.3 176.7,366.4 177.2,366.1 177.6,366.3 178.0,366.2 178.5,366.1 178.9,366.7 179.3,366.3 179.8,366.0 180.2,366.1 180.7,365.9 181.1,366.2 181.5,365.6 182.0,366.3 182.4,365.7 182.9,366.4 183.3,365.7 183.8,366.2 184.2,366.9 184.7,366.5 185.1,366.2 185.5,366.0 186.0,365.5 186.4,366.0 186.9,365.7 187.3,366.4 187.8,366.9 188.3,365.9 188.7,366.3 189.2,366.2 189.6,366.2 190.1,366.1 190.5,367.1 191.0,366.7 191.4,366.6 191.9,366.7 192.4,366.8 192.8,367.4 193.3,367.9 193.7,367.3 194.2,367.5 194.7,368.4 195.1,368.0 195.6,369.2 196.1,368.6 196.5,369.4 197.0,369.4 197.5,369.6 197.9,369.8 198.4,370.3 198.9,370.4 199.3,370.8 199.8,370.9 200.3,371.6 200.8,371.9 201.2,372.5 201.7,373.7 202.2,374.2 202.7,372.9 203.1,374.3 203.6,374.4 204.1,375.3 204.6,375.5 205.1,375.8 205.5,376.7 206.0,378.7 206.5,378.1 207.0,380.7 207.5,378.0"/>
<polyline stroke="#00ff00" stroke-width="0.85" points="207.0,380.7 207.5,378.0 208.0,379.7 208.4,380.1 208.9,380.8 209.4,382.3 209.9,383.1 210.4,393.1 210.9,384.5 211.4,388.8 211.9,389.0 212.4,387.8 212.9,403.5 213.4,390.5 213.8,395.5 214.3,390.0 214.8,393.4 215.3,393.3 215.8,392.2 216.3,395.4 216.8,397.7 217.3,396.4 217.8,395.6 218.3,402.1 218.9,400.5 219.4,401.9 219.9,404.4 220.4,406.4 220.9,397.9 221.4,396.2 221.9,400.9 222.4,400.7 222.9,400.1 223.4,403.1 223.9,407.1 224.5,409.9 225.0,400.5 225.5,406.2 226.0,399.4 226.5,415.1 227.0,411.7 227.6,399.5 228.1,401.3 228.6,418.8 229.1,402.5 229.7,401.2 230.2,403.1 230.7,419.0 231.2,419.4 231.8,405.5 232.3,409.5 232.8,401.3 233.3,405.3 233.9,403.4 234.4,413.1 234.9,402.0 235.5,419.9 236.0,401.7 236.6,419.9 237.1,405.2 237.6,420.0 238.2,407.6 238.7,419.8 239.2,402.6 239.8,401.5 240.3,403.4 240.9,402.3 241.4,412.0 242.0,404.1 242.5,410.6 243.1,404.9 243.6,404.5 244.2,403.8 244.7,414.4 245.3,400.9 245.8,419.9 246.4,411.5 246.9,403.3 247.5,408.3 248.0,401.5 248.6,405.0 249.2,404.0 249.7,402.6 250.3,412.6 250.8,400.7 251.4,409.1 252.0,404.4 252.5,401.2 253.1,419.7 253.7,400.2 254.2,404.6 254.8,408.0 255.4,407.9 255.9,408.3 256.5,399.5 257.1,403.5 257.7,403.6 258.2,408.4 258.8,399.5 259.4,419.7 260.0,414.8 260.6,411.2 261.1,403.7 261.7,417.7 262.3,402.8 262.9,402.4 263.5,401.0 264.1,402.6 264.6,401.8 265.2,404.2 265.8,404.7 266.4,399.7 267.0,403.2 267.6,409.2 268.2,408.6 268.8,419.1 269.4,401.2 270.0,403.7 270.6,402.6 271.2,402.8 271.8,415.7 272.4,418.9 273.0,401.8 273.6,405.3 274.2,407.0 274.8,401.7 275.4,418.3 276.0,401.3 276.6,409.5 277.3,412.3 277.9,402.7 278.5,401.1 279.1,406.7 279.7,405.8 280.3,399.3 280.9,406.8 281.6,409.7 282.2,405.7 282.8,399.2 283.4,398.1 284.1,417.1 284.7,400.5 285.3,401.5 285.9,399.9 286.6,400.4 287.2,399.0 287.8,400.2 288.5,398.2 289.1,401.8 289.7,405.4 290.4,397.3 291.0,405.6 291.7,411.0 292.3,398.9 292.9,398.4 293.6,407.8 294.2,398.6 294.9,398.7 295.5,408.6 296.2,395.5 296.8,411.0 297.5,402.2 298.1,401.2 298.8,413.1 299.4,396.3 300.1,395.8 300.8,397.6 301.4,400.7 302.1,398.4 302.7,402.0 303.4,395.4 304.1,394.3 304.7,403.0 305.4,405.3 306.1,398.5 306.7,400.3 307.4,397.5 308.1,394.9 308.8,395.3 309.4,411.0 310.1,397.1 310.8,402.1 311.5,409.3 312.1,402.0 312.8,408.3 313.5,396.5 314.2,396.9 314.9,406.6 315.6,403.5 316.3,395.5 317.0,410.8 317.6,392.9 318.3,393.2 319.0,396.8 319.7,409.9 320.4,391.8 321.1,396.1 321.8,393.8 322.5,393.8 323.2,398.2 323.9,392.6 324.6,393.9 325.4,395.6 326.1,399.2 326.8,393.4 327.5,399.9 328.2,401.6 328.9,406.9 329.6,406.1 330.4,396.5 331.1,410.3 331.8,395.2 332.5,410.1 333.2,399.6 334.0,399.3 334.7,418.7 335.4,402.2 336.2,404.6 336.9,403.5 337.6,411.1 338.4,407.5 339.1,417.4 339.8,404.9 340.6,407.8 341.3,408.9 342.1,416.5 342.8,407.3 343.6,414.5 344.3,425.0 345.0,409.7"/>
<polyline stroke="#ff0000" stroke-width="0.85" points="48.0,408.9 48.2,408.4 48.5,406.3 48.8,421.4 49.0,411.2 49.3,409.3 49.5,417.0 49.8,408.3 50.0,412.9 50.3,420.1 50.5,414.6 50.8,413.5 51.0,413.0 51.3,413.8 51.5,407.5 51.8,424.0 52.0,409.0 52.3,423.7 52.5,416.1 52.8,413.3 53.1,412.4 53.3,423.6 53.6,412.2 53.8,413.9 54.1,410.5 54.3,414.2 54.6,406.3 54.9,423.0 55.1,410.9 55.4,409.4 55.6,405.0 55.9,412.6 56.2,412.2 56.4,408.6 56.7,409.4 56.9,417.3 57.2,417.2 57.5,417.6 57.7,420.0 58.0,422.1 58.2,416.4 58.5,414.9 58.8,407.8 59.0,418.8 59.3,411.3 59.6,411.3 59.8,404.9 60.1,410.5 60.4,414.2 60.6,423.4 60.9,409.2 61.2,408.7 61.4,412.2 61.7,411.7 62.0,423.4 62.2,416.4 62.5,409.4 62.8,414.4 63.0,423.1 63.3,412.5 63.6,411.7 63.8,423.3 64.1,406.6 64.4,405.4 64.6,423.2 64.9,417.6 65.2,407.2 65.5,412.5 65.7,408.9 66.0,406.2 66.3,412.7 66.6,408.4 66.8,411.2 67.1,412.5 67.4,422.3 67.6,411.9 67.9,409.6 68.2,407.1 68.5,405.7 68.7,414.7 69.0,406.3 69.3,411.9 69.6,403.4 69.9,408.6 70.1,417.2 70.4,417.0 70.7,403.7 71.0,408.4 71.2,407.7 71.5,408.8 71.8,410.4 72.1,408.4 72.4,422.4 72.6,410.4 72.9,409.5 73.2,423.0 73.5,408.2 73.8,411.0 74.1,419.5 74.3,413.5 74.6,411.0 74.9,422.6 75.2,422.6 75.5,410.2 75.8,422.6 76.1,410.8 76.3,418.9 76.6,422.6 76.9,410.3 77.2,414.7 77.5,415.7 77.8,404.9 78.1,406.1 78.3,407.0 78.6,405.5 78.9,414.6 79.2,403.3 79.5,414.6 79.8,407.2 80.1,407.1 80.4,421.2 80.7,407.4 81.0,403.5 81.3,409.8 81.5,413.3 81.8,414.7 82.1,404.6 82.4,406.5 82.7,407.5 83.0,407.1 83.3,422.5 83.6,421.6 83.9,407.5 84.2,404.7 84.5,411.5 84.8,408.6 85.1,422.4 85.4,407.9 85.7,409.2 86.0,403.6 86.3,409.4 86.6,407.8 86.9,410.0 87.2,402.2 87.5,406.9 87.8,416.1 88.1,405.6 88.4,403.9 88.7,407.9 89.0,405.9 89.3,415.4 89.6,404.6 89.9,411.6 90.2,406.0 90.5,412.0 90.8,410.9 91.1,417.1 91.4,408.7 91.7,405.0 92.0,411.2 92.4,409.9 92.7,422.1 93.0,413.6 93.3,421.1 93.6,408.0 93.9,404.3 94.2,407.1 94.5,405.7 94.8,410.4 95.1,417.0 95.4,406.8 95.8,405.2 96.1,411.3 96.4,405.1 96.7,407.5 97.0,410.8 97.3,409.1 97.6,409.5 98.0,410.8 98.3,409.8 98.6,411.5 98.9,416.0 99.2,410.8 99.5,416.3 99.9,404.6 100.2,421.9 100.5,411.9 100.8,405.4 101.1,405.8 101.5,406.8 101.8,409.7 102.1,402.1 102.4,404.3 102.7,407.7 103.1,407.3 103.4,418.2 103.7,421.9 104.0,411.1 104.4,404.0 104.7,408.8 105.0,406.7 105.3,410.2 105.7,417.6 106.0,421.8 106.3,408.5 106.6,408.4 107.0,412.8 107.3,409.6 107.6,412.2 107.9,407.3 108.3,403.0 108.6,413.9 108.9,406.1 109.3,408.6 109.6,414.3 109.9,411.8 110.3,411.9 110.6,413.6 110.9,413.3 111.3,399.3 111.6,413.0 111.9,401.1 112.3,410.0 112.6,401.1 112.9,408.0 113.3,402.6 113.6,414.9 113.9,412.9 114.3,404.9 114.6,405.8 115.0,408.4 115.3,414.7 115.6,409.3 116.0,401.1 116.3,408.2 116.7,405.5 117.0,399.4 117.3,406.8 117.7,400.9 118.0,404.6 118.4,407.5 118.7,404.6 119.1,400.8 119.4,402.3 119.8,405.6 120.1,403.7 120.5,405.5 120.8,402.7 121.1,401.2 121.5,402.2 121.8,404.7 122.2,401.1 122.5,401.0 122.9,407.8 123.2,403.1 123.6,407.5 124.0,403.5 124.3,404.6 124.7,407.6 125.0,403.1 125.4,400.2 125.7,400.0 126.1,402.4 126.4,402.7 126.8,401.1 127.1,401.2 127.5,399.1 127.9,399.8 128.2,397.7 128.6,396.9 128.9,398.6 129.3,402.3 129.7,403.8 130.0,399.4 130.4,403.0 130.7,397.9 131.1,398.2 131.5,400.0 131.8,401.8 132.2,400.6 132.6,397.4 132.9,397.3 133.3,399.5 133.7,399.2 134.0,400.8 134.4,396.2 134.8,394.8 135.1,400.3"/>
<polyline stroke="#ff0000" points="134.8,394.8 135.1,400.3 135.5,396.3 135.9,396.0 136.2,396.0 136.6,396.2 137.0,395.4 137.3,394.8 137.7,393.8 138.1,396.1 138.5,394.8 138.8,394.6 139.2,394.5 139.6,394.4 140.0,392.5 140.3,393.8 140.7,392.9 141.1,394.0 141.5,391.2 141.9,391.3 142.2,393.4 142.6,393.2 143.0,391.4 143.4,391.8 143.8,389.9 144.1,389.0 144.5,388.4 144.9,393.5 145.3,391.2 145.7,392.9 146.1,390.5 146.4,390.7 146.8,391.1 147.2,390.0 147.6,388.0 148.0,388.9 148.4,387.5 148.8,387.9 149.2,389.8 149.6,387.4 149.9,388.0 150.3,389.1 150.7,386.6 151.1,387.2 151.5,387.0 151.9,388.0 152.3,387.1 152.7,388.3 153.1,387.7 153.5,386.0 153.9,385.7 154.3,385.7 154.7,385.2 155.1,386.2 155.5,385.5 155.9,384.9 156.3,385.3 156.7,386.4 157.1,385.6 157.5,386.0 157.9,383.7 158.3,385.7 158.7,385.4 159.1,384.4 159.5,384.4 159.9,384.3 160.3,386.2 160.7,384.0 161.1,384.7 161.6,384.4 162.0,385.0 162.4,384.0 162.8,382.8 163.2,383.7 163.6,383.5 164.0,384.8 164.4,382.1 164.9,382.5 165.3,382.8 165.7,383.5 166.1,381.6 166.5,382.0 166.9,381.6 167.4,383.1 167.8,380.9 168.2,380.9 168.6,382.4 169.0,381.0 169.5,381.3 169.9,381.6 170.3,381.0 170.7,381.7 171.1,381.4 171.6,381.5 172.0,381.5 172.4,380.3 172.9,379.2 173.3,380.5 173.7,380.9 174.1,380.1 174.6,380.1 175.0,381.4 175.4,379.6 175.9,381.5 176.3,380.9 176.7,379.6 177.2,378.0 177.6,379.1 178.0,379.9 178.5,380.5 178.9,380.7 179.3,382.5 179.8,380.4 180.2,379.9 180.7,379.2 181.1,379.9 181.5,380.1 182.0,380.5 182.4,379.7 182.9,379.1 183.3,378.1 183.8,379.5 184.2,379.3 184.7,379.3 185.1,378.6 185.5,380.5 186.0,379.4 186.4,378.5 186.9,380.1 187.3,379.9 187.8,380.5 188.3,379.8 188.7,380.4 189.2,380.0 189.6,378.6 190.1,380.2 190.5,379.6 191.0,380.2 191.4,381.0 191.9,379.8 192.4,380.4 192.8,384.3 193.3,382.2 193.7,380.6 194.2,380.7 194.7,380.4 195.1,382.0 195.6,383.0 196.1,382.9 196.5,381.9 197.0,383.8 197.5,383.0 197.9,383.1 198.4,384.5 198.9,384.5 199.3,385.6 199.8,387.9 200.3,385.1 200.8,384.9 201.2,386.1 201.7,387.6 202.2,386.7 202.7,385.5 203.1,390.3 203.6,388.3 204.1,390.2 204.6,388.5"/>
<polyline stroke="#ff0000" stroke-width="0.85" points="204.1,390.2 204.6,388.5 205.1,388.7 205.5,389.4 206.0,390.6 206.5,386.7 207.0,392.1 207.5,392.8 208.0,395.9 208.4,397.8 208.9,400.7 209.4,400.1 209.9,403.0 210.4,395.7 210.9,396.3 211.4,398.6 211.9,398.1 212.4,406.5 212.9,415.7 213.4,411.4 213.8,402.5 214.3,400.0 214.8,401.9 215.3,422.7 215.8,415.6 216.3,425.2 216.8,408.5 217.3,426.4 217.8,427.0 218.3,412.8 218.9,428.5 219.4,429.0 219.9,409.9 220.4,419.6 220.9,430.5 221.4,424.2 221.9,421.0 222.4,418.7 222.9,413.3 223.4,420.4 223.9,417.4 224.5,423.1 225.0,411.5 225.5,419.3 226.0,433.1 226.5,418.9 227.0,433.0 227.6,422.5 228.1,430.8 228.6,433.3 229.1,433.1 229.7,424.4 230.2,414.6 230.7,433.0 231.2,416.0 231.8,433.1 232.3,418.2 232.8,433.2 233.3,433.4 233.9,416.1 234.4,420.0 234.9,433.2 235.5,423.1 236.0,415.6 236.6,415.4 237.1,433.2 237.6,421.6 238.2,433.5 238.7,427.2 239.2,416.4 239.8,415.1 240.3,433.7 240.9,414.6 241.4,419.5 242.0,408.4 242.5,433.6 243.1,432.9 243.6,433.4 244.2,412.3 244.7,431.4 245.3,414.1 245.8,424.1 246.4,411.4 246.9,423.8 247.5,433.8 248.0,421.7 248.6,416.7 249.2,433.8 249.7,418.5 250.3,420.3 250.8,424.8 251.4,433.6 252.0,412.9 252.5,419.1 253.1,417.4 253.7,421.9 254.2,416.4 254.8,411.0 255.4,433.8 255.9,418.1 256.5,424.9 257.1,423.2 257.7,415.8 258.2,428.7 258.8,423.9 259.4,432.5 260.0,433.9 260.6,433.8 261.1,418.6 261.7,430.9 262.3,428.6 262.9,416.9 263.5,434.0 264.1,417.5 264.6,433.2 265.2,415.8 265.8,411.0 266.4,414.4 267.0,424.3 267.6,426.1 268.2,433.9 268.8,417.1 269.4,418.3 270.0,416.2 270.6,426.9 271.2,418.7 271.8,419.0 272.4,431.8 273.0,433.8 273.6,427.5 274.2,414.8 274.8,422.3 275.4,427.7 276.0,413.6 276.6,434.4 277.3,432.4 277.9,417.6 278.5,425.6 279.1,414.9 279.7,414.9 280.3,411.9 280.9,427.3 281.6,434.0 282.2,434.0 282.8,428.5 283.4,426.0 284.1,433.8 284.7,433.7 285.3,419.3 285.9,418.5 286.6,430.9 287.2,423.6 287.8,410.2 288.5,419.1 289.1,414.0 289.7,434.1 290.4,434.1 291.0,422.6 291.7,425.8 292.3,433.8 292.9,414.4 293.6,414.7 294.2,412.9 294.9,423.2 295.5,410.0 296.2,414.2 296.8,429.2 297.5,433.8 298.1,418.8 298.8,416.6 299.4,417.9 300.1,433.1 300.8,416.8 301.4,424.4 302.1,433.8 302.7,419.9 303.4,412.1 304.1,433.8 304.7,425.9 305.4,432.9 306.1,423.1 306.7,433.9 307.4,413.3 308.1,434.0 308.8,432.4 309.4,416.4 310.1,411.8 310.8,424.9 311.5,433.8 312.1,422.9 312.8,428.5 313.5,410.1 314.2,433.9 314.9,433.5 315.6,433.8 316.3,433.9 317.0,421.2 317.6,416.2 318.3,415.6 319.0,418.1 319.7,424.8 320.4,431.2 321.1,413.6 321.8,434.0 322.5,415.4 323.2,433.6 323.9,433.7 324.6,416.4 325.4,433.7 326.1,424.1 326.8,416.5 327.5,425.1 328.2,413.8 328.9,414.4 329.6,416.0 330.4,430.4 331.1,433.6 331.8,417.0 332.5,414.9 333.2,415.4 334.0,427.1 334.7,410.8 335.4,433.3 336.2,415.4 336.9,424.1 337.6,410.3 338.4,423.1 339.1,417.3 339.8,412.4 340.6,410.4 341.3,433.0 342.1,433.0 342.8,430.2 343.6,414.2 344.3,424.0 345.0,420.9"/>
</g>
<g stroke="#000" fill="none">
<path d="M48,0.75 H344.8 M344.8,0 V421 M48,0 V421.2 M47,210.6 H345.3 M47,420.5 H345.3" stroke-width="1.6"/>
<path d="M48,209.60 H55.5 M48,201.43 H52.5 M48,196.65 H52.5 M48,193.25 H52.5 M48,190.62 H52.5 M48,188.47 H52.5 M48,186.66 H52.5 M48,185.08 H52.5 M48,183.69 H52.5 M48,182.45 H55.5 M48,174.28 H52.5 M48,169.50 H52.5 M48,166.10 H52.5 M48,163.47 H52.5 M48,161.32 H52.5 M48,159.51 H52.5 M48,157.93 H52.5 M48,156.54 H52.5 M48,155.30 H55.5 M48,147.13 H52.5 M48,142.35 H52.5 M48,138.95 H52.5 M48,136.32 H52.5 M48,134.17 H52.5 M48,132.36 H52.5 M48,130.78 H52.5 M48,129.39 H52.5 M48,128.15 H55.5 M48,119.98 H52.5 M48,115.20 H52.5 M48,111.80 H52.5 M48,109.17 H52.5 M48,107.02 H52.5 M48,105.21 H52.5 M48,103.63 H52.5 M48,102.24 H52.5 M48,101.00 H55.5 M48,92.83 H52.5 M48,88.05 H52.5 M48,84.65 H52.5 M48,82.02 H52.5 M48,79.87 H52.5 M48,78.06 H52.5 M48,76.48 H52.5 M48,75.09 H52.5 M48,73.85 H55.5 M48,65.68 H52.5 M48,60.90 H52.5 M48,57.50 H52.5 M48,54.87 H52.5 M48,52.72 H52.5 M48,50.91 H52.5 M48,49.33 H52.5 M48,47.94 H52.5 M48,46.70 H55.5 M48,38.53 H52.5 M48,33.75 H52.5 M48,30.35 H52.5 M48,27.72 H52.5 M48,25.57 H52.5 M48,23.76 H52.5 M48,22.18 H52.5 M48,20.79 H52.5 M48,19.55 H55.5 M48,11.38 H52.5 M48,6.60 H52.5 M48,3.20 H52.5 M48,0.57 H52.5 M70.50,210.5 V206.5 M93.00,210.5 V203.0 M115.50,210.5 V206.5 M138.00,210.5 V203.0 M160.50,210.5 V206.5 M183.00,210.5 V203.0 M205.50,210.5 V206.5 M228.00,210.5 V203.0 M250.50,210.5 V206.5 M273.00,210.5 V203.0 M295.50,210.5 V206.5 M318.00,210.5 V203.0 M340.50,210.5 V206.5 M48,419.60 H55.5 M48,411.43 H52.5 M48,406.65 H52.5 M48,403.25 H52.5 M48,400.62 H52.5 M48,398.47 H52.5 M48,396.66 H52.5 M48,395.08 H52.5 M48,393.69 H52.5 M48,392.45 H55.5 M48,384.28 H52.5 M48,379.50 H52.5 M48,376.10 H52.5 M48,373.47 H52.5 M48,371.32 H52.5 M48,369.51 H52.5 M48,367.93 H52.5 M48,366.54 H52.5 M48,365.30 H55.5 M48,357.13 H52.5 M48,352.35 H52.5 M48,348.95 H52.5 M48,346.32 H52.5 M48,344.17 H52.5 M48,342.36 H52.5 M48,340.78 H52.5 M48,339.39 H52.5 M48,338.15 H55.5 M48,329.98 H52.5 M48,325.20 H52.5 M48,321.80 H52.5 M48,319.17 H52.5 M48,317.02 H52.5 M48,315.21 H52.5 M48,313.63 H52.5 M48,312.24 H52.5 M48,311.00 H55.5 M48,302.83 H52.5 M48,298.05 H52.5 M48,294.65 H52.5 M48,292.02 H52.5 M48,289.87 H52.5 M48,288.06 H52.5 M48,286.48 H52.5 M48,285.09 H52.5 M48,283.85 H55.5 M48,275.68 H52.5 M48,270.90 H52.5 M48,267.50 H52.5 M48,264.87 H52.5 M48,262.72 H52.5 M48,260.91 H52.5 M48,259.33 H52.5 M48,257.94 H52.5 M48,256.70 H55.5 M48,248.53 H52.5 M48,243.75 H52.5 M48,240.35 H52.5 M48,237.72 H52.5 M48,235.57 H52.5 M48,233.76 H52.5 M48,232.18 H52.5 M48,230.79 H52.5 M48,229.55 H55.5 M48,221.38 H52.5 M48,216.60 H52.5 M48,213.20 H52.5 M48,210.57 H52.5 M70.50,420.5 V416.5 M93.00,420.5 V413.0 M115.50,420.5 V416.5 M138.00,420.5 V413.0 M160.50,420.5 V416.5 M183.00,420.5 V413.0 M205.50,420.5 V416.5 M228.00,420.5 V413.0 M250.50,420.5 V416.5 M273.00,420.5 V413.0 M295.50,420.5 V416.5 M318.00,420.5 V413.0 M340.50,420.5 V416.5" stroke-width="1.3"/>
</g>
<line x1="323.3" y1="7" x2="323.3" y2="29" stroke="#000" stroke-width="1.1"/><path d="M320.6,26.5 L326.0,26.5 L323.3,37 Z" fill="#000"/>
<line x1="324.4" y1="211" x2="324.4" y2="229" stroke="#000" stroke-width="1.1"/><path d="M321.7,226.5 L327.09999999999997,226.5 L324.4,237 Z" fill="#000"/>
<line x1="168.6" y1="194" x2="168.6" y2="179" stroke="#000" stroke-width="1.1"/><path d="M165.9,181.5 L171.29999999999998,181.5 L168.6,171 Z" fill="#000"/>
<line x1="183.3" y1="410.5" x2="183.3" y2="387.5" stroke="#000" stroke-width="1.1"/><path d="M180.60000000000002,390.0 L186.0,390.0 L183.3,379.5 Z" fill="#000"/>
<g font-family="Liberation Sans, sans-serif" fill="#000" stroke="#000" stroke-width="0.25" filter="url(#gf)"><text x="38.0" y="216.2" font-size="15.6" text-anchor="end">10</text><text x="38.5" y="207.4" font-size="10.4">1</text><text x="38.0" y="161.9" font-size="15.6" text-anchor="end">10</text><text x="38.5" y="153.1" font-size="10.4">3</text><text x="38.0" y="107.6" font-size="15.6" text-anchor="end">10</text><text x="38.5" y="98.8" font-size="10.4">5</text><text x="38.0" y="53.3" font-size="15.6" text-anchor="end">10</text><text x="38.5" y="44.5" font-size="10.4">7</text><text x="38.0" y="426.2" font-size="15.6" text-anchor="end">10</text><text x="38.5" y="417.4" font-size="10.4">1</text><text x="38.0" y="371.9" font-size="15.6" text-anchor="end">10</text><text x="38.5" y="363.1" font-size="10.4">3</text><text x="38.0" y="317.6" font-size="15.6" text-anchor="end">10</text><text x="38.5" y="308.8" font-size="10.4">5</text><text x="38.0" y="263.3" font-size="15.6" text-anchor="end">10</text><text x="38.5" y="254.5" font-size="10.4">7</text><text x="67.6" y="23.3" font-size="14.85">sample A</text><text x="68.4" y="39.8" font-size="14.6">T = 15 K</text><text x="67.6" y="238.4" font-size="14.5">sample B</text><text x="282.0" y="18.6" font-size="14.45">GaAs</text><text x="284.3" y="233.6" font-size="14.4">GaAs</text><text x="281.9" y="48.7" font-size="16.5"><tspan font-weight="bold" font-size="18">a</tspan>)</text><text x="283.5" y="262.5" font-size="16.5"><tspan font-weight="bold" font-size="18">b</tspan>)</text><text x="138.6" y="197.2" font-size="14.3">QW</text><text x="153.4" y="410.4" font-size="14.3">QW</text><text x="48.4" y="438.0" font-size="15.8" text-anchor="middle">0.9</text><text x="93.4" y="438.0" font-size="15.8" text-anchor="middle">1.0</text><text x="138.4" y="438.0" font-size="15.8" text-anchor="middle">1.1</text><text x="183.4" y="438.0" font-size="15.8" text-anchor="middle">1.2</text><text x="228.4" y="438.0" font-size="15.8" text-anchor="middle">1.3</text><text x="273.4" y="438.0" font-size="15.8" text-anchor="middle">1.4</text><text x="318.4" y="438.0" font-size="15.8" text-anchor="middle">1.5</text><text x="197.4" y="458.6" font-size="15.8" font-weight="bold" text-anchor="middle">Photon Energy (eV)</text><text transform="translate(12.0,217.2) rotate(-90)" font-size="16.45" font-weight="bold" text-anchor="middle">PL Intensity (arb. units)</text></g>
</svg></body></html>
